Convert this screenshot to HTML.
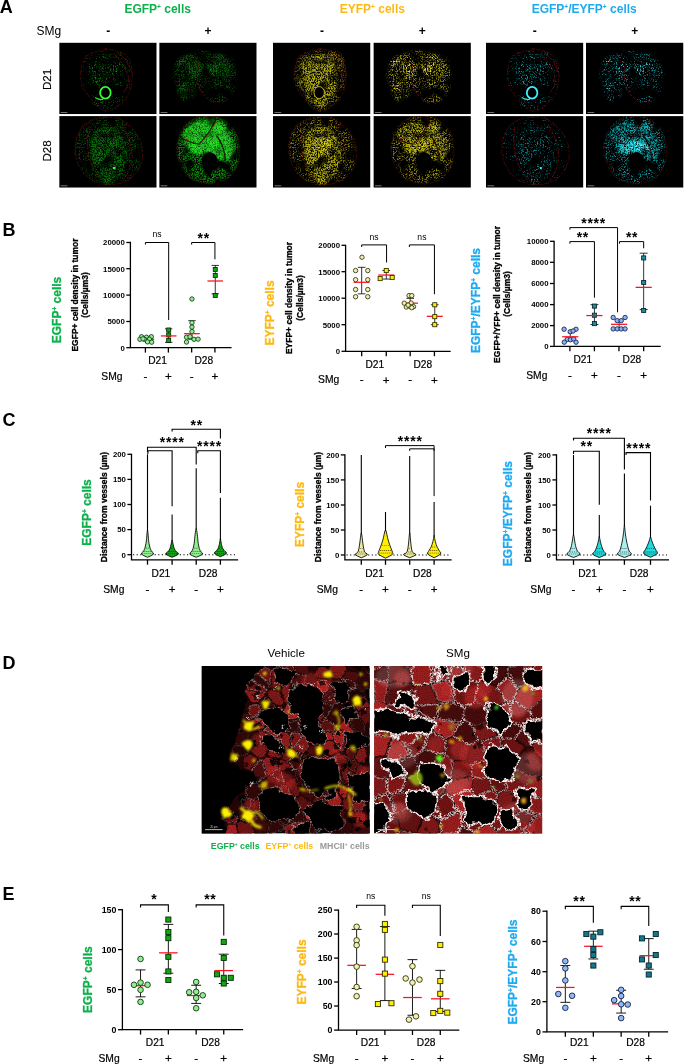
<!DOCTYPE html>
<html lang="en"><head><meta charset="utf-8"><title>Figure</title>
<style>
html,body{margin:0;padding:0;background:#fff;}
body{width:685px;height:1064px;overflow:hidden;font-family:"Liberation Sans", sans-serif;}
svg{display:block;font-family:"Liberation Sans", sans-serif;}
</style></head><body>
<svg width="685" height="1064" viewBox="0 0 685 1064">
<defs><filter id="bl1" x="-20%" y="-20%" width="140%" height="140%"><feGaussianBlur stdDeviation="0.6"/></filter><filter id="bl2" x="-20%" y="-20%" width="140%" height="140%"><feGaussianBlur stdDeviation="2.2"/></filter><filter id="rough" x="-5%" y="-5%" width="110%" height="110%"><feTurbulence type="fractalNoise" baseFrequency="0.25" numOctaves="2" seed="4" result="t"/><feDisplacementMap in="SourceGraphic" in2="t" scale="2.5" xChannelSelector="R" yChannelSelector="G"/></filter><path id="tum0" d="M48 7 C52.4 6.8 56.57 7.73 60 9 C63.43 10.27 66.6 12.1 68.6 14.6 C70.6 17.1 71.27 20.6 72 24 C72.73 27.4 73.17 31.17 73 35 C72.83 38.83 72 43.58 71 47 C70 50.42 69.17 52.67 67 55.5 C64.83 58.33 61.17 61.82 58 64 C54.83 66.18 51 68.43 48 68.6 C45 68.77 42.17 66.43 40 65 C37.83 63.57 37.17 62.5 35 60 C32.83 57.5 29.17 53.17 27 50 C24.83 46.83 22.92 44.33 22 41 C21.08 37.67 21.27 33.43 21.5 30 C21.73 26.57 22.48 23.07 23.4 20.4 C24.32 17.73 25.3 15.7 27 14 C28.7 12.3 30.1 11.37 33.6 10.2 C37.1 9.03 43.6 7.2 48 7 Z"/><path id="tum1" d="M15.2 26.3 C16.42 23.38 18.87 19.88 21 17.5 C23.13 15.12 25.57 13.45 28 12 C30.43 10.55 32.6 9.47 35.6 8.8 C38.6 8.13 42.6 7.77 46 8 C49.4 8.23 53 9.37 56 10.2 C59 11.03 61.55 11.78 64 13 C66.45 14.22 68.78 15.67 70.7 17.5 C72.62 19.33 74.28 21.58 75.5 24 C76.72 26.42 77.58 29.67 78 32 C78.42 34.33 78.25 36.03 78 38 C77.75 39.97 77.72 40.88 76.5 43.8 C75.28 46.72 73.12 52.8 70.7 55.5 C68.28 58.2 65.45 59.52 62 60 C58.55 60.48 53.33 60.07 50 58.4 C46.67 56.73 43.92 52.9 42 50 C40.08 47.1 39.17 41.33 38.5 41 C37.83 40.67 38.48 46.07 38 48 C37.52 49.93 36.93 51.1 35.6 52.6 C34.27 54.1 31.93 56.03 30 57 C28.07 57.97 25.83 59.07 24 58.4 C22.17 57.73 20.23 54.95 19 53 C17.77 51.05 17.43 48.87 16.6 46.7 C15.77 44.53 14.48 41.95 14 40 C13.52 38.05 13.5 37.28 13.7 35 C13.9 32.72 13.98 29.22 15.2 26.3 Z"/><path id="tum2" d="M42.3 1.5 C44.88 1.23 48.07 0.97 51 1.2 C53.93 1.43 56.9 1.68 59.9 2.9 C62.9 4.12 66.33 6.32 69 8.5 C71.67 10.68 73.9 13.42 75.9 16 C77.9 18.58 79.78 21.07 81 24 C82.22 26.93 82.87 30.43 83.2 33.6 C83.53 36.77 83.48 40.1 83 43 C82.52 45.9 81.55 48.42 80.3 51 C79.05 53.58 77.45 56.3 75.5 58.5 C73.55 60.7 71.18 62.7 68.6 64.2 C66.02 65.7 62.93 66.77 60 67.5 C57.07 68.23 54.33 68.68 51 68.6 C47.67 68.52 43.38 67.97 40 67 C36.62 66.03 33.37 64.63 30.7 62.8 C28.03 60.97 25.95 58.43 24 56 C22.05 53.57 20.25 50.87 19 48.2 C17.75 45.53 17 42.92 16.5 40 C16 37.08 15.83 33.7 16 30.7 C16.17 27.7 16.77 24.68 17.5 22 C18.23 19.32 19.32 16.68 20.4 14.6 C21.48 12.52 22.53 10.97 24 9.5 C25.47 8.03 27.28 6.92 29.2 5.8 C31.12 4.68 33.32 3.52 35.5 2.8 C37.68 2.08 39.72 1.77 42.3 1.5 Z"/><path id="tum3" d="M38.5 1.5 C40.83 0.95 44.08 0.6 47 0.5 C49.92 0.4 53.17 0.32 56 0.9 C58.83 1.48 61.55 2.68 64 4 C66.45 5.32 68.7 6.8 70.7 8.8 C72.7 10.8 74.55 13.33 76 16 C77.45 18.67 78.63 21.8 79.4 24.8 C80.17 27.8 80.5 31.08 80.6 34 C80.7 36.92 80.52 39.63 80 42.3 C79.48 44.97 78.57 47.55 77.5 50 C76.43 52.45 75.1 55 73.6 57 C72.1 59 70.43 60.55 68.5 62 C66.57 63.45 64.25 64.87 62 65.7 C59.75 66.53 57.45 66.78 55 67 C52.55 67.22 49.8 67.25 47.3 67 C44.8 66.75 42.43 66.2 40 65.5 C37.57 64.8 34.87 64.13 32.7 62.8 C30.53 61.47 28.7 59.47 27 57.5 C25.3 55.53 23.75 53.25 22.5 51 C21.25 48.75 20.25 46.42 19.5 44 C18.75 41.58 18.15 39.33 18 36.5 C17.85 33.67 18.1 29.92 18.6 27 C19.1 24.08 20.1 21.42 21 19 C21.9 16.58 22.78 14.45 24 12.5 C25.22 10.55 26.8 8.75 28.3 7.3 C29.8 5.85 31.3 4.77 33 3.8 C34.7 2.83 36.17 2.05 38.5 1.5 Z"/><clipPath id="imc"><rect x="0" y="0" width="97.5" height="71.6"/></clipPath><filter id="sp0" x="-5%" y="-5%" width="110%" height="110%" color-interpolation-filters="sRGB"><feTurbulence type="fractalNoise" baseFrequency="0.7" numOctaves="2" seed="2" result="n"/><feColorMatrix in="n" type="matrix" values="0 0 0 0 1  0 0 0 0 1  0 0 0 0 1  7 0 0 0 -4.1" result="m"/><feTurbulence type="fractalNoise" baseFrequency="0.09" numOctaves="2" seed="9" result="n2"/><feColorMatrix in="n2" type="matrix" values="0 0 0 0 1  0 0 0 0 1  0 0 0 0 1  4 0 0 0 -1.5" result="m2"/><feComposite in="m" in2="m2" operator="arithmetic" k1="1" k2="0" k3="0" k4="0" result="m"/><feGaussianBlur in="SourceGraphic" stdDeviation="0.9" result="s"/><feComposite in="s" in2="m" operator="in" result="c"/><feGaussianBlur in="c" stdDeviation="0.35"/></filter><filter id="sp1" x="-5%" y="-5%" width="110%" height="110%" color-interpolation-filters="sRGB"><feTurbulence type="fractalNoise" baseFrequency="0.7" numOctaves="2" seed="3" result="n"/><feColorMatrix in="n" type="matrix" values="0 0 0 0 1  0 0 0 0 1  0 0 0 0 1  6 0 0 0 -3.2" result="m"/><feTurbulence type="fractalNoise" baseFrequency="0.09" numOctaves="2" seed="10" result="n2"/><feColorMatrix in="n2" type="matrix" values="0 0 0 0 1  0 0 0 0 1  0 0 0 0 1  4 0 0 0 -1.4" result="m2"/><feComposite in="m" in2="m2" operator="arithmetic" k1="1" k2="0" k3="0" k4="0" result="m"/><feGaussianBlur in="SourceGraphic" stdDeviation="0.9" result="s"/><feComposite in="s" in2="m" operator="in" result="c"/><feGaussianBlur in="c" stdDeviation="0.35"/></filter><filter id="sp2" x="-5%" y="-5%" width="110%" height="110%" color-interpolation-filters="sRGB"><feTurbulence type="fractalNoise" baseFrequency="0.7" numOctaves="2" seed="5" result="n"/><feColorMatrix in="n" type="matrix" values="0 0 0 0 1  0 0 0 0 1  0 0 0 0 1  6 0 0 0 -3.2" result="m"/><feTurbulence type="fractalNoise" baseFrequency="0.09" numOctaves="2" seed="12" result="n2"/><feColorMatrix in="n2" type="matrix" values="0 0 0 0 1  0 0 0 0 1  0 0 0 0 1  4 0 0 0 -1.4" result="m2"/><feComposite in="m" in2="m2" operator="arithmetic" k1="1" k2="0" k3="0" k4="0" result="m"/><feGaussianBlur in="SourceGraphic" stdDeviation="0.9" result="s"/><feComposite in="s" in2="m" operator="in" result="c"/><feGaussianBlur in="c" stdDeviation="0.35"/></filter><filter id="sp3" x="-5%" y="-5%" width="110%" height="110%" color-interpolation-filters="sRGB"><feTurbulence type="fractalNoise" baseFrequency="0.7" numOctaves="2" seed="2" result="n"/><feColorMatrix in="n" type="matrix" values="0 0 0 0 1  0 0 0 0 1  0 0 0 0 1  5 0 0 0 -2.4" result="m"/><feTurbulence type="fractalNoise" baseFrequency="0.09" numOctaves="2" seed="9" result="n2"/><feColorMatrix in="n2" type="matrix" values="0 0 0 0 1  0 0 0 0 1  0 0 0 0 1  4 0 0 0 -1.3" result="m2"/><feComposite in="m" in2="m2" operator="arithmetic" k1="1" k2="0" k3="0" k4="0" result="m"/><feGaussianBlur in="SourceGraphic" stdDeviation="0.9" result="s"/><feComposite in="s" in2="m" operator="in" result="c"/><feGaussianBlur in="c" stdDeviation="0.35"/></filter><filter id="sp4" x="-5%" y="-5%" width="110%" height="110%" color-interpolation-filters="sRGB"><feTurbulence type="fractalNoise" baseFrequency="0.7" numOctaves="2" seed="3" result="n"/><feColorMatrix in="n" type="matrix" values="0 0 0 0 1  0 0 0 0 1  0 0 0 0 1  4 0 0 0 -1.5" result="m"/><feTurbulence type="fractalNoise" baseFrequency="0.09" numOctaves="2" seed="10" result="n2"/><feColorMatrix in="n2" type="matrix" values="0 0 0 0 1  0 0 0 0 1  0 0 0 0 1  4 0 0 0 -1.2" result="m2"/><feComposite in="m" in2="m2" operator="arithmetic" k1="1" k2="0" k3="0" k4="0" result="m"/><feGaussianBlur in="SourceGraphic" stdDeviation="0.9" result="s"/><feComposite in="s" in2="m" operator="in" result="c"/><feGaussianBlur in="c" stdDeviation="0.35"/></filter><filter id="sp5" x="-5%" y="-5%" width="110%" height="110%" color-interpolation-filters="sRGB"><feTurbulence type="fractalNoise" baseFrequency="0.7" numOctaves="2" seed="2" result="n"/><feColorMatrix in="n" type="matrix" values="0 0 0 0 1  0 0 0 0 1  0 0 0 0 1  4 0 0 0 -1.5" result="m"/><feTurbulence type="fractalNoise" baseFrequency="0.09" numOctaves="2" seed="9" result="n2"/><feColorMatrix in="n2" type="matrix" values="0 0 0 0 1  0 0 0 0 1  0 0 0 0 1  4 0 0 0 -1.2" result="m2"/><feComposite in="m" in2="m2" operator="arithmetic" k1="1" k2="0" k3="0" k4="0" result="m"/><feGaussianBlur in="SourceGraphic" stdDeviation="0.9" result="s"/><feComposite in="s" in2="m" operator="in" result="c"/><feGaussianBlur in="c" stdDeviation="0.35"/></filter><filter id="sp6" x="-5%" y="-5%" width="110%" height="110%" color-interpolation-filters="sRGB"><feTurbulence type="fractalNoise" baseFrequency="0.7" numOctaves="2" seed="3" result="n"/><feColorMatrix in="n" type="matrix" values="0 0 0 0 1  0 0 0 0 1  0 0 0 0 1  3.5 0 0 0 -1" result="m"/><feTurbulence type="fractalNoise" baseFrequency="0.09" numOctaves="2" seed="10" result="n2"/><feColorMatrix in="n2" type="matrix" values="0 0 0 0 1  0 0 0 0 1  0 0 0 0 1  3 0 0 0 -0.6" result="m2"/><feComposite in="m" in2="m2" operator="arithmetic" k1="1" k2="0" k3="0" k4="0" result="m"/><feGaussianBlur in="SourceGraphic" stdDeviation="0.9" result="s"/><feComposite in="s" in2="m" operator="in" result="c"/><feGaussianBlur in="c" stdDeviation="0.35"/></filter><filter id="sp7" x="-5%" y="-5%" width="110%" height="110%" color-interpolation-filters="sRGB"><feTurbulence type="fractalNoise" baseFrequency="0.7" numOctaves="2" seed="5" result="n"/><feColorMatrix in="n" type="matrix" values="0 0 0 0 1  0 0 0 0 1  0 0 0 0 1  5 0 0 0 -2.4" result="m"/><feTurbulence type="fractalNoise" baseFrequency="0.09" numOctaves="2" seed="12" result="n2"/><feColorMatrix in="n2" type="matrix" values="0 0 0 0 1  0 0 0 0 1  0 0 0 0 1  4 0 0 0 -1.3" result="m2"/><feComposite in="m" in2="m2" operator="arithmetic" k1="1" k2="0" k3="0" k4="0" result="m"/><feGaussianBlur in="SourceGraphic" stdDeviation="0.9" result="s"/><feComposite in="s" in2="m" operator="in" result="c"/><feGaussianBlur in="c" stdDeviation="0.35"/></filter><filter id="sp8" x="-5%" y="-5%" width="110%" height="110%" color-interpolation-filters="sRGB"><feTurbulence type="fractalNoise" baseFrequency="0.7" numOctaves="2" seed="3" result="n"/><feColorMatrix in="n" type="matrix" values="0 0 0 0 1  0 0 0 0 1  0 0 0 0 1  5 0 0 0 -2.4" result="m"/><feTurbulence type="fractalNoise" baseFrequency="0.09" numOctaves="2" seed="10" result="n2"/><feColorMatrix in="n2" type="matrix" values="0 0 0 0 1  0 0 0 0 1  0 0 0 0 1  4 0 0 0 -1.3" result="m2"/><feComposite in="m" in2="m2" operator="arithmetic" k1="1" k2="0" k3="0" k4="0" result="m"/><feGaussianBlur in="SourceGraphic" stdDeviation="0.9" result="s"/><feComposite in="s" in2="m" operator="in" result="c"/><feGaussianBlur in="c" stdDeviation="0.35"/></filter><filter id="sp9" x="-5%" y="-5%" width="110%" height="110%" color-interpolation-filters="sRGB"><feTurbulence type="fractalNoise" baseFrequency="0.7" numOctaves="2" seed="5" result="n"/><feColorMatrix in="n" type="matrix" values="0 0 0 0 1  0 0 0 0 1  0 0 0 0 1  7 0 0 0 -4.1" result="m"/><feTurbulence type="fractalNoise" baseFrequency="0.09" numOctaves="2" seed="12" result="n2"/><feColorMatrix in="n2" type="matrix" values="0 0 0 0 1  0 0 0 0 1  0 0 0 0 1  4 0 0 0 -1.5" result="m2"/><feComposite in="m" in2="m2" operator="arithmetic" k1="1" k2="0" k3="0" k4="0" result="m"/><feGaussianBlur in="SourceGraphic" stdDeviation="0.9" result="s"/><feComposite in="s" in2="m" operator="in" result="c"/><feGaussianBlur in="c" stdDeviation="0.35"/></filter><filter id="sp10" x="-5%" y="-5%" width="110%" height="110%" color-interpolation-filters="sRGB"><feTurbulence type="fractalNoise" baseFrequency="0.7" numOctaves="2" seed="2" result="n"/><feColorMatrix in="n" type="matrix" values="0 0 0 0 1  0 0 0 0 1  0 0 0 0 1  6 0 0 0 -3.2" result="m"/><feTurbulence type="fractalNoise" baseFrequency="0.09" numOctaves="2" seed="9" result="n2"/><feColorMatrix in="n2" type="matrix" values="0 0 0 0 1  0 0 0 0 1  0 0 0 0 1  4 0 0 0 -1.4" result="m2"/><feComposite in="m" in2="m2" operator="arithmetic" k1="1" k2="0" k3="0" k4="0" result="m"/><feGaussianBlur in="SourceGraphic" stdDeviation="0.9" result="s"/><feComposite in="s" in2="m" operator="in" result="c"/><feGaussianBlur in="c" stdDeviation="0.35"/></filter><filter id="sp11" x="-5%" y="-5%" width="110%" height="110%" color-interpolation-filters="sRGB"><feTurbulence type="fractalNoise" baseFrequency="0.7" numOctaves="2" seed="5" result="n"/><feColorMatrix in="n" type="matrix" values="0 0 0 0 1  0 0 0 0 1  0 0 0 0 1  4 0 0 0 -1.5" result="m"/><feTurbulence type="fractalNoise" baseFrequency="0.09" numOctaves="2" seed="12" result="n2"/><feColorMatrix in="n2" type="matrix" values="0 0 0 0 1  0 0 0 0 1  0 0 0 0 1  4 0 0 0 -1.2" result="m2"/><feComposite in="m" in2="m2" operator="arithmetic" k1="1" k2="0" k3="0" k4="0" result="m"/><feGaussianBlur in="SourceGraphic" stdDeviation="0.9" result="s"/><feComposite in="s" in2="m" operator="in" result="c"/><feGaussianBlur in="c" stdDeviation="0.35"/></filter><clipPath id="dclip"><rect x="0" y="0" width="168" height="167.6"/></clipPath><filter id="dsoft" x="-5%" y="-5%" width="110%" height="110%"><feGaussianBlur stdDeviation="0.55"/></filter><filter id="dsoft2" x="-10%" y="-10%" width="120%" height="120%"><feGaussianBlur stdDeviation="1.6"/></filter><filter id="dglow" x="-30%" y="-30%" width="160%" height="160%"><feGaussianBlur stdDeviation="0.9"/></filter><filter id="drough" x="-5%" y="-5%" width="110%" height="110%" color-interpolation-filters="sRGB"><feTurbulence type="fractalNoise" baseFrequency="0.07" numOctaves="3" seed="9" result="t"/><feDisplacementMap in="SourceGraphic" in2="t" scale="16" xChannelSelector="R" yChannelSelector="G" result="d"/><feGaussianBlur in="d" stdDeviation="0.45"/></filter><filter id="drough2" x="-5%" y="-5%" width="110%" height="110%" color-interpolation-filters="sRGB"><feTurbulence type="fractalNoise" baseFrequency="0.2" numOctaves="2" seed="3" result="t"/><feDisplacementMap in="SourceGraphic" in2="t" scale="4" xChannelSelector="R" yChannelSelector="G" result="d"/><feGaussianBlur in="d" stdDeviation="0.4"/></filter><filter id="dgrain" x="0" y="0" width="100%" height="100%" color-interpolation-filters="sRGB"><feTurbulence type="fractalNoise" baseFrequency="0.95" numOctaves="1" seed="5" result="n"/><feColorMatrix in="n" type="matrix" values="0 0 0 0 0  0 0 0 0 0  0 0 0 0 0  2.6 0 0 0 -1.0" result="m"/><feComposite in="m" in2="SourceGraphic" operator="in"/></filter><filter id="dwsp" x="-5%" y="-5%" width="110%" height="110%" color-interpolation-filters="sRGB"><feTurbulence type="fractalNoise" baseFrequency="0.55" numOctaves="2" seed="12" result="n"/><feColorMatrix in="n" type="matrix" values="0 0 0 0 1  0 0 0 0 1  0 0 0 0 1  5 0 0 0 -1.7" result="m"/><feTurbulence type="fractalNoise" baseFrequency="0.07" numOctaves="3" seed="9" result="t"/><feDisplacementMap in="SourceGraphic" in2="t" scale="16" xChannelSelector="R" yChannelSelector="G" result="d"/><feGaussianBlur in="d" stdDeviation="0.5" result="s"/><feComposite in="s" in2="m" operator="in"/></filter><filter id="dwsp2" x="-5%" y="-5%" width="110%" height="110%" color-interpolation-filters="sRGB"><feTurbulence type="fractalNoise" baseFrequency="0.6" numOctaves="2" seed="21" result="n"/><feColorMatrix in="n" type="matrix" values="0 0 0 0 1  0 0 0 0 1  0 0 0 0 1  4.5 0 0 0 -1.6" result="m"/><feTurbulence type="fractalNoise" baseFrequency="0.2" numOctaves="2" seed="3" result="t"/><feDisplacementMap in="SourceGraphic" in2="t" scale="4" xChannelSelector="R" yChannelSelector="G" result="d"/><feGaussianBlur in="d" stdDeviation="0.6" result="s"/><feComposite in="s" in2="m" operator="in"/></filter></defs>
<rect width="685" height="1064" fill="#fff"/>
<g id="panelA"><text x="-0.2" y="12.7" font-size="18" font-weight="bold" fill="#000">A</text><text x="157.7" y="12.6" font-size="12" font-weight="bold" text-anchor="middle" fill="#0db14b">EGFP<tspan dy="-3.96" font-size="6.6">+</tspan><tspan dy="3.96"> cells</tspan></text><text x="372.3" y="12.6" font-size="12" font-weight="bold" text-anchor="middle" fill="#fdb913">EYFP<tspan dy="-3.96" font-size="6.6">+</tspan><tspan dy="3.96"> cells</tspan></text><text x="584.2" y="12.6" font-size="12" font-weight="bold" text-anchor="middle" fill="#1eaaf0">EGFP<tspan dy="-3.96" font-size="6.6">+</tspan><tspan dy="3.96">/EYFP</tspan><tspan dy="-3.96" font-size="6.6">+</tspan><tspan dy="3.96"> cells</tspan></text><text x="36.6" y="35.3" font-size="12" fill="#000">SMg</text><text x="108.2" y="35.2" font-size="12" font-weight="bold" text-anchor="middle" fill="#000">-</text><text x="322" y="35.2" font-size="12" font-weight="bold" text-anchor="middle" fill="#000">-</text><text x="534.8" y="35.2" font-size="12" font-weight="bold" text-anchor="middle" fill="#000">-</text><text x="208" y="34.6" font-size="12" font-weight="bold" text-anchor="middle" fill="#000">+</text><text x="422.3" y="34.6" font-size="12" font-weight="bold" text-anchor="middle" fill="#000">+</text><text x="634.8" y="34.6" font-size="12" font-weight="bold" text-anchor="middle" fill="#000">+</text><text x="0" y="0" font-size="11.6" text-anchor="middle" fill="#000" transform="translate(51.2 79.4) rotate(-90)" stroke="#000" stroke-width="0.15">D21</text><text x="0" y="0" font-size="11.6" text-anchor="middle" fill="#000" transform="translate(51.2 150.9) rotate(-90)" stroke="#000" stroke-width="0.15">D28</text><g transform="translate(59.2 42.6)" clip-path="url(#imc)"><rect x="0" y="0" width="97.5" height="71.6" fill="#000"/><g filter="url(#sp0)" opacity="0.4" fill="#10c010"><use href="#tum0"/></g><g filter="url(#sp1)" opacity="0.55" fill="#10c010"><ellipse cx="47" cy="28" rx="19" ry="17"/></g><g filter="url(#sp2)" opacity="0.55" fill="#10c010"><ellipse cx="47" cy="58" rx="14" ry="8"/></g><ellipse cx="46.2" cy="50" rx="7.5" ry="8" fill="#000"/><ellipse cx="46.2" cy="50.2" rx="5.3" ry="5.9" fill="none" stroke="#30ff30" stroke-width="1.8" filter="url(#bl1)"/><path d="M36 55 Q40 58 44 56.5" fill="none" stroke="#30ff30" stroke-width="1.2" opacity=".9" filter="url(#bl1)"/><g fill="none" stroke="#c41818" stroke-width="0.5" opacity="0.8" stroke-dasharray="7 1 3 1.4" filter="url(#rough)"><use href="#tum0" stroke-opacity="0.8"/><path d="M55 12 Q66 22 69 34 Q70 44 64 50"/><path d="M58 10 Q70 18 72 30"/></g><rect x="1.5" y="69.5" width="6.7" height="0.55" fill="#ccc"/></g><g transform="translate(159.2 42.6)" clip-path="url(#imc)"><rect x="0" y="0" width="97.5" height="71.6" fill="#000"/><g filter="url(#sp3)" opacity="0.4" fill="#10c010"><use href="#tum1"/></g><g filter="url(#sp4)" opacity="0.45" fill="#10c010"><ellipse cx="30" cy="24" rx="14" ry="12"/><ellipse cx="62" cy="24" rx="14" ry="12"/><ellipse cx="26" cy="48" rx="8" ry="8"/></g><path d="M39 30 Q37.5 42 40 50 Q46 58 56 60 L40 62 Z" fill="#000" opacity=".55" filter="url(#bl2)"/><g fill="none" stroke="#c41818" stroke-width="0.5" opacity="0.8" stroke-dasharray="7 1 3 1.4" filter="url(#rough)"><path d="M40 20 Q37 30 39 41 Q41 50 50 57"/><path d="M50 58 Q60 61 68 58" opacity=".6"/><path d="M30 14 Q36 20 40 22" opacity=".6"/></g><rect x="1.5" y="69.5" width="6.7" height="0.55" fill="#ccc"/></g><g transform="translate(59.2 116.1)" clip-path="url(#imc)"><rect x="0" y="0" width="97.5" height="71.6" fill="#000"/><g filter="url(#sp3)" opacity="0.4" fill="#10c010"><use href="#tum2"/></g><g filter="url(#sp4)" opacity="0.5" fill="#10c010"><path d="M33 16 C35.67 13 41.83 10.33 46 10 C50.17 9.67 54.67 11.33 58 14 C61.33 16.67 64.33 21.67 66 26 C67.67 30.33 68.33 35.33 68 40 C67.67 44.67 66.33 49.67 64 54 C61.67 58.33 57 63.67 54 66 C51 68.33 48.67 69.33 46 68 C43.33 66.67 40.33 62 38 58 C35.67 54 33.33 49 32 44 C30.67 39 29.83 32.67 30 28 C30.17 23.33 30.33 19 33 16 Z"/></g><circle cx="55" cy="52" r="1.3" fill="#40ff40" filter="url(#bl1)"/><g fill="none" stroke="#c41818" stroke-width="0.5" opacity="0.8" stroke-dasharray="7 1 3 1.4" filter="url(#rough)"><use href="#tum2" stroke-opacity="0.75"/><path d="M29 10 Q26 30 32 48 Q38 60 46 67"/><path d="M62 8 Q72 24 73 40 Q72 54 64 64"/><path d="M44 4 Q52 10 58 12" opacity=".6"/></g><rect x="1.5" y="69.5" width="6.7" height="0.55" fill="#ccc"/></g><g transform="translate(159.2 116.1)" clip-path="url(#imc)"><rect x="0" y="0" width="97.5" height="71.6" fill="#000"/><g filter="url(#sp5)" opacity="0.7" fill="#10c010"><use href="#tum3"/></g><g opacity=".3" fill="#20e020" filter="url(#bl2)"><path d="M26 14 C28.33 11.17 33.67 6.83 38 5 C42.33 3.17 47.67 2.5 52 3 C56.33 3.5 60.67 5.17 64 8 C67.33 10.83 70.33 15.67 72 20 C73.67 24.33 74.67 30 74 34 C73.33 38 70.67 42.67 68 44 C65.33 45.33 61.33 43.33 58 42 C54.67 40.67 51.33 36.67 48 36 C44.67 35.33 41.33 38.67 38 38 C34.67 37.33 30.33 34.67 28 32 C25.67 29.33 24.33 25 24 22 C23.67 19 23.67 16.83 26 14 Z"/></g><g filter="url(#sp6)" opacity="0.72" fill="#30ff30"><path d="M26 14 C28.33 11.17 33.67 6.83 38 5 C42.33 3.17 47.67 2.5 52 3 C56.33 3.5 60.67 5.17 64 8 C67.33 10.83 70.33 15.67 72 20 C73.67 24.33 74.67 30 74 34 C73.33 38 70.67 42.67 68 44 C65.33 45.33 61.33 43.33 58 42 C54.67 40.67 51.33 36.67 48 36 C44.67 35.33 41.33 38.67 38 38 C34.67 37.33 30.33 34.67 28 32 C25.67 29.33 24.33 25 24 22 C23.67 19 23.67 16.83 26 14 Z"/></g><path d="M50.5 36 Q57.5 37 58 44 Q58 50 54 53 Q52 58 50 62 Q47 56 44.5 52 Q41.5 47 43 42 Q45 36.5 50.5 36 Z" fill="#000" filter="url(#bl1)"/><g fill="none" stroke="#000" stroke-width="1.3" opacity=".8" filter="url(#bl1)"><path d="M22 22 Q32 27 40 28 Q50 18 57 3"/><path d="M58 20 Q66 32 66 44"/></g><g fill="none" stroke="#c41818" stroke-width="0.5" opacity="0.8" stroke-dasharray="7 1 3 1.4" filter="url(#rough)"><use href="#tum3" stroke-opacity="0.55"/><path d="M24 22 Q34 27 40 28 Q50 18 58 4"/><path d="M58 22 Q66 34 66 44" opacity=".8"/><path d="M24 48 Q32 58 44 62" opacity=".7"/></g><rect x="1.5" y="69.5" width="6.7" height="0.55" fill="#ccc"/></g><g transform="translate(273 42.6)" clip-path="url(#imc)"><rect x="0" y="0" width="97.5" height="71.6" fill="#000"/><g filter="url(#sp3)" opacity="0.5" fill="#d8d010"><use href="#tum0"/></g><g filter="url(#sp4)" opacity="0.8" fill="#d8d010"><path d="M30 16 C33.17 13 39.67 12.33 44 12 C48.33 11.67 53 12 56 14 C59 16 60.67 20 62 24 C63.33 28 64 33.33 64 38 C64 42.67 63.67 48 62 52 C60.33 56 57 60 54 62 C51 64 47.33 65 44 64 C40.67 63 36.83 59.33 34 56 C31.17 52.67 28.5 48.33 27 44 C25.5 39.67 24.5 34.67 25 30 C25.5 25.33 26.83 19 30 16 Z"/></g><g filter="url(#sp7)" opacity="0.6" fill="#d8d010"><ellipse cx="62" cy="18" rx="9" ry="9"/></g><ellipse cx="46.2" cy="50" rx="5.2" ry="6" fill="#000"/><ellipse cx="46.2" cy="50" rx="5.2" ry="6" fill="none" stroke="#d8c020" stroke-width="0.9" filter="url(#bl1)"/><g fill="none" stroke="#c41818" stroke-width="0.5" opacity="0.8" stroke-dasharray="7 1 3 1.4" filter="url(#rough)"><use href="#tum0" stroke-opacity="0.8"/><path d="M55 12 Q66 22 69 34 Q70 44 64 50"/><path d="M58 10 Q70 18 72 30"/></g><rect x="1.5" y="69.5" width="6.7" height="0.55" fill="#ccc"/></g><g transform="translate(373.4 42.6)" clip-path="url(#imc)"><rect x="0" y="0" width="97.5" height="71.6" fill="#000"/><g filter="url(#sp3)" opacity="0.7" fill="#d8d010"><use href="#tum1"/></g><g filter="url(#sp8)" opacity="0.85" fill="#fff020"><ellipse cx="30" cy="24" rx="14" ry="12"/><ellipse cx="62" cy="24" rx="14" ry="12"/><ellipse cx="26" cy="48" rx="8" ry="8"/></g><path d="M39 30 Q37.5 42 40 50 Q46 58 56 60 L40 62 Z" fill="#000" opacity=".55" filter="url(#bl2)"/><g fill="none" stroke="#c41818" stroke-width="0.5" opacity="0.8" stroke-dasharray="7 1 3 1.4" filter="url(#rough)"><path d="M40 20 Q37 30 39 41 Q41 50 50 57"/><path d="M50 58 Q60 61 68 58" opacity=".6"/><path d="M30 14 Q36 20 40 22" opacity=".6"/></g><rect x="1.5" y="69.5" width="6.7" height="0.55" fill="#ccc"/></g><g transform="translate(273 116.1)" clip-path="url(#imc)"><rect x="0" y="0" width="97.5" height="71.6" fill="#000"/><g filter="url(#sp3)" opacity="0.6" fill="#d8d010"><use href="#tum2"/></g><g filter="url(#sp4)" opacity="0.8" fill="#d8d010"><path d="M33 16 C35.67 13 41.83 10.33 46 10 C50.17 9.67 54.67 11.33 58 14 C61.33 16.67 64.33 21.67 66 26 C67.67 30.33 68.33 35.33 68 40 C67.67 44.67 66.33 49.67 64 54 C61.67 58.33 57 63.67 54 66 C51 68.33 48.67 69.33 46 68 C43.33 66.67 40.33 62 38 58 C35.67 54 33.33 49 32 44 C30.67 39 29.83 32.67 30 28 C30.17 23.33 30.33 19 33 16 Z"/></g><g filter="url(#sp7)" opacity="0.7" fill="#fff020"><ellipse cx="50" cy="30" rx="10" ry="10"/><ellipse cx="50" cy="62" rx="6" ry="5"/></g><g fill="none" stroke="#c41818" stroke-width="0.5" opacity="0.8" stroke-dasharray="7 1 3 1.4" filter="url(#rough)"><use href="#tum2" stroke-opacity="0.75"/><path d="M29 10 Q26 30 32 48 Q38 60 46 67"/><path d="M62 8 Q72 24 73 40 Q72 54 64 64"/><path d="M44 4 Q52 10 58 12" opacity=".6"/></g><rect x="1.5" y="69.5" width="6.7" height="0.55" fill="#ccc"/></g><g transform="translate(373.4 116.1)" clip-path="url(#imc)"><rect x="0" y="0" width="97.5" height="71.6" fill="#000"/><g filter="url(#sp3)" opacity="0.7" fill="#d8d010"><use href="#tum3"/></g><g filter="url(#sp4)" opacity="0.8" fill="#d8d010"><path d="M26 14 C28.33 11.17 33.67 6.83 38 5 C42.33 3.17 47.67 2.5 52 3 C56.33 3.5 60.67 5.17 64 8 C67.33 10.83 70.33 15.67 72 20 C73.67 24.33 74.67 30 74 34 C73.33 38 70.67 42.67 68 44 C65.33 45.33 61.33 43.33 58 42 C54.67 40.67 51.33 36.67 48 36 C44.67 35.33 41.33 38.67 38 38 C34.67 37.33 30.33 34.67 28 32 C25.67 29.33 24.33 25 24 22 C23.67 19 23.67 16.83 26 14 Z"/></g><g filter="url(#sp7)" opacity="0.8" fill="#fff020"><ellipse cx="44" cy="30" rx="9" ry="6"/><ellipse cx="62" cy="34" rx="5" ry="6"/></g><path d="M50.5 36 Q57.5 37 58 44 Q58 50 54 53 Q52 58 50 62 Q47 56 44.5 52 Q41.5 47 43 42 Q45 36.5 50.5 36 Z" fill="#000" filter="url(#bl1)"/><g fill="none" stroke="#000" stroke-width="1.3" opacity=".8" filter="url(#bl1)"><path d="M22 22 Q32 27 40 28 Q50 18 57 3"/><path d="M58 20 Q66 32 66 44"/></g><g fill="none" stroke="#c41818" stroke-width="0.5" opacity="0.8" stroke-dasharray="7 1 3 1.4" filter="url(#rough)"><use href="#tum3" stroke-opacity="0.55"/><path d="M24 22 Q34 27 40 28 Q50 18 58 4"/><path d="M58 22 Q66 34 66 44" opacity=".8"/><path d="M24 48 Q32 58 44 62" opacity=".7"/></g><rect x="1.5" y="69.5" width="6.7" height="0.55" fill="#ccc"/></g><g transform="translate(485.9 42.6)" clip-path="url(#imc)"><rect x="0" y="0" width="97.5" height="71.6" fill="#000"/><g filter="url(#sp0)" opacity="0.5" fill="#10c8d0"><use href="#tum0"/></g><g filter="url(#sp1)" opacity="0.7" fill="#10c8d0"><ellipse cx="47" cy="28" rx="19" ry="17"/></g><g filter="url(#sp9)" opacity="0.6" fill="#10c8d0"><ellipse cx="47" cy="58" rx="14" ry="8"/></g><ellipse cx="46.2" cy="50" rx="7.5" ry="8" fill="#000"/><ellipse cx="46.2" cy="50.2" rx="5.3" ry="5.9" fill="none" stroke="#40f4ff" stroke-width="1.8" filter="url(#bl1)"/><path d="M36 55 Q40 58 44 56.5" fill="none" stroke="#40f4ff" stroke-width="1.2" opacity=".9" filter="url(#bl1)"/><g fill="none" stroke="#c41818" stroke-width="0.5" opacity="0.8" stroke-dasharray="7 1 3 1.4" filter="url(#rough)"><use href="#tum0" stroke-opacity="0.8"/><path d="M55 12 Q66 22 69 34 Q70 44 64 50"/><path d="M58 10 Q70 18 72 30"/></g><rect x="1.5" y="69.5" width="6.7" height="0.55" fill="#ccc"/></g><g transform="translate(586 42.6)" clip-path="url(#imc)"><rect x="0" y="0" width="97.5" height="71.6" fill="#000"/><g filter="url(#sp10)" opacity="0.65" fill="#10c8d0"><use href="#tum1"/></g><g filter="url(#sp1)" opacity="0.75" fill="#40f4ff"><ellipse cx="30" cy="24" rx="14" ry="12"/><ellipse cx="62" cy="24" rx="14" ry="12"/><ellipse cx="26" cy="48" rx="8" ry="8"/></g><path d="M39 30 Q37.5 42 40 50 Q46 58 56 60 L40 62 Z" fill="#000" opacity=".55" filter="url(#bl2)"/><g fill="none" stroke="#c41818" stroke-width="0.5" opacity="0.8" stroke-dasharray="7 1 3 1.4" filter="url(#rough)"><path d="M40 20 Q37 30 39 41 Q41 50 50 57"/><path d="M50 58 Q60 61 68 58" opacity=".6"/><path d="M30 14 Q36 20 40 22" opacity=".6"/></g><rect x="1.5" y="69.5" width="6.7" height="0.55" fill="#ccc"/></g><g transform="translate(485.9 116.1)" clip-path="url(#imc)"><rect x="0" y="0" width="97.5" height="71.6" fill="#000"/><g filter="url(#sp0)" opacity="0.45" fill="#10c8d0"><use href="#tum2"/></g><g filter="url(#sp1)" opacity="0.6" fill="#10c8d0"><path d="M33 16 C35.67 13 41.83 10.33 46 10 C50.17 9.67 54.67 11.33 58 14 C61.33 16.67 64.33 21.67 66 26 C67.67 30.33 68.33 35.33 68 40 C67.67 44.67 66.33 49.67 64 54 C61.67 58.33 57 63.67 54 66 C51 68.33 48.67 69.33 46 68 C43.33 66.67 40.33 62 38 58 C35.67 54 33.33 49 32 44 C30.67 39 29.83 32.67 30 28 C30.17 23.33 30.33 19 33 16 Z"/></g><circle cx="55" cy="52" r="1.1" fill="#40f4ff" filter="url(#bl1)"/><g fill="none" stroke="#c41818" stroke-width="0.5" opacity="0.8" stroke-dasharray="7 1 3 1.4" filter="url(#rough)"><use href="#tum2" stroke-opacity="0.75"/><path d="M29 10 Q26 30 32 48 Q38 60 46 67"/><path d="M62 8 Q72 24 73 40 Q72 54 64 64"/><path d="M44 4 Q52 10 58 12" opacity=".6"/></g><rect x="1.5" y="69.5" width="6.7" height="0.55" fill="#ccc"/></g><g transform="translate(586 116.1)" clip-path="url(#imc)"><rect x="0" y="0" width="97.5" height="71.6" fill="#000"/><g filter="url(#sp3)" opacity="0.7" fill="#10c8d0"><use href="#tum3"/></g><g filter="url(#sp4)" opacity="0.85" fill="#10c8d0"><path d="M26 14 C28.33 11.17 33.67 6.83 38 5 C42.33 3.17 47.67 2.5 52 3 C56.33 3.5 60.67 5.17 64 8 C67.33 10.83 70.33 15.67 72 20 C73.67 24.33 74.67 30 74 34 C73.33 38 70.67 42.67 68 44 C65.33 45.33 61.33 43.33 58 42 C54.67 40.67 51.33 36.67 48 36 C44.67 35.33 41.33 38.67 38 38 C34.67 37.33 30.33 34.67 28 32 C25.67 29.33 24.33 25 24 22 C23.67 19 23.67 16.83 26 14 Z"/></g><g filter="url(#sp11)" opacity="0.95" fill="#40f4ff"><path d="M34 30 C34.33 27.67 40.33 24.67 44 24 C47.67 23.33 52.33 24.67 56 26 C59.67 27.33 64.67 29.33 66 32 C67.33 34.67 66 41.33 64 42 C62 42.67 57.67 36.67 54 36 C50.33 35.33 45.33 39 42 38 C38.67 37 33.67 32.33 34 30 Z"/></g><path d="M50.5 36 Q57.5 37 58 44 Q58 50 54 53 Q52 58 50 62 Q47 56 44.5 52 Q41.5 47 43 42 Q45 36.5 50.5 36 Z" fill="#000" filter="url(#bl1)"/><g fill="none" stroke="#000" stroke-width="1.3" opacity=".8" filter="url(#bl1)"><path d="M22 22 Q32 27 40 28 Q50 18 57 3"/><path d="M58 20 Q66 32 66 44"/></g><g fill="none" stroke="#c41818" stroke-width="0.5" opacity="0.8" stroke-dasharray="7 1 3 1.4" filter="url(#rough)"><use href="#tum3" stroke-opacity="0.55"/><path d="M24 22 Q34 27 40 28 Q50 18 58 4"/><path d="M58 22 Q66 34 66 44" opacity=".8"/><path d="M24 48 Q32 58 44 62" opacity=".7"/></g><rect x="1.5" y="69.5" width="6.7" height="0.55" fill="#ccc"/></g></g><g id="panelB"><text x="2.5" y="236" font-size="18" font-weight="bold" fill="#000">B</text><path d="M130.4 242.5 V347.7 H230.9" fill="none" stroke="#000" stroke-width="1.3" stroke-linecap="square"/><line x1="126.3" y1="242.5" x2="130.4" y2="242.5" stroke="#000" stroke-width="1.3"/><text x="124.8" y="245.31" font-size="7.8" font-weight="bold" text-anchor="end" fill="#000">20000</text><line x1="126.3" y1="268.7" x2="130.4" y2="268.7" stroke="#000" stroke-width="1.3"/><text x="124.8" y="271.51" font-size="7.8" font-weight="bold" text-anchor="end" fill="#000">15000</text><line x1="126.3" y1="295.1" x2="130.4" y2="295.1" stroke="#000" stroke-width="1.3"/><text x="124.8" y="297.91" font-size="7.8" font-weight="bold" text-anchor="end" fill="#000">10000</text><line x1="126.3" y1="321.5" x2="130.4" y2="321.5" stroke="#000" stroke-width="1.3"/><text x="124.8" y="324.31" font-size="7.8" font-weight="bold" text-anchor="end" fill="#000">5000</text><line x1="126.3" y1="347.7" x2="130.4" y2="347.7" stroke="#000" stroke-width="1.3"/><text x="124.8" y="350.51" font-size="7.8" font-weight="bold" text-anchor="end" fill="#000">0</text><line x1="145.4" y1="347.7" x2="145.4" y2="352.6" stroke="#000" stroke-width="1.3"/><line x1="168.36" y1="347.7" x2="168.36" y2="352.6" stroke="#000" stroke-width="1.3"/><line x1="191.65" y1="347.7" x2="191.65" y2="352.6" stroke="#000" stroke-width="1.3"/><line x1="214.93" y1="347.7" x2="214.93" y2="352.6" stroke="#000" stroke-width="1.3"/><line x1="138.56" y1="339.29" x2="154.16" y2="339.29" stroke="#fa1020" stroke-width="1.25"/><circle cx="141.54" cy="336.72" r="2.2" fill="#90ee90" stroke="#143814" stroke-width="0.85"/><circle cx="146.52" cy="337.2" r="2.2" fill="#90ee90" stroke="#143814" stroke-width="0.85"/><circle cx="151.34" cy="336.72" r="2.2" fill="#90ee90" stroke="#143814" stroke-width="0.85"/><circle cx="139.93" cy="339.29" r="2.2" fill="#90ee90" stroke="#143814" stroke-width="0.85"/><circle cx="144.75" cy="339.45" r="2.2" fill="#90ee90" stroke="#143814" stroke-width="0.85"/><circle cx="149.41" cy="339.13" r="2.2" fill="#90ee90" stroke="#143814" stroke-width="0.85"/><circle cx="147.48" cy="341.86" r="2.2" fill="#90ee90" stroke="#143814" stroke-width="0.85"/><circle cx="151.66" cy="342.18" r="2.2" fill="#90ee90" stroke="#143814" stroke-width="0.85"/><circle cx="142.99" cy="338.81" r="2.2" fill="#90ee90" stroke="#143814" stroke-width="0.85"/><line x1="168.68" y1="328.85" x2="168.68" y2="342.34" stroke="#000" stroke-width="0.8"/><line x1="164.98" y1="328.85" x2="172.38" y2="328.85" stroke="#000" stroke-width="0.8"/><line x1="164.98" y1="342.34" x2="172.38" y2="342.34" stroke="#000" stroke-width="0.8"/><rect x="166.68" y="327.98" width="4" height="4" fill="#0fa80f" stroke="#062806" stroke-width="0.85"/><rect x="166.68" y="332.95" width="4" height="4" fill="#0fa80f" stroke="#062806" stroke-width="0.85"/><rect x="166.68" y="338.41" width="4" height="4" fill="#0fa80f" stroke="#062806" stroke-width="0.85"/><line x1="160.88" y1="335.92" x2="176.48" y2="335.92" stroke="#fa1020" stroke-width="1.25"/><line x1="191.97" y1="320.66" x2="191.97" y2="339.29" stroke="#000" stroke-width="0.8"/><line x1="188.27" y1="320.66" x2="195.67" y2="320.66" stroke="#000" stroke-width="0.8"/><line x1="188.27" y1="339.29" x2="195.67" y2="339.29" stroke="#000" stroke-width="0.8"/><circle cx="191.97" cy="298.98" r="2.2" fill="#90ee90" stroke="#143814" stroke-width="0.85"/><circle cx="191.97" cy="322.75" r="2.2" fill="#90ee90" stroke="#143814" stroke-width="0.85"/><circle cx="191.97" cy="327.08" r="2.2" fill="#90ee90" stroke="#143814" stroke-width="0.85"/><circle cx="191.97" cy="331.58" r="2.2" fill="#90ee90" stroke="#143814" stroke-width="0.85"/><circle cx="186.51" cy="337.2" r="2.2" fill="#90ee90" stroke="#143814" stroke-width="0.85"/><circle cx="190.04" cy="336.72" r="2.2" fill="#90ee90" stroke="#143814" stroke-width="0.85"/><circle cx="194.05" cy="339.29" r="2.2" fill="#90ee90" stroke="#143814" stroke-width="0.85"/><circle cx="198.07" cy="339.13" r="2.2" fill="#90ee90" stroke="#143814" stroke-width="0.85"/><circle cx="186.51" cy="342.02" r="2.2" fill="#90ee90" stroke="#143814" stroke-width="0.85"/><line x1="184.17" y1="333.67" x2="199.77" y2="333.67" stroke="#fa1020" stroke-width="1.25"/><line x1="215.25" y1="265.42" x2="215.25" y2="293.84" stroke="#000" stroke-width="0.8"/><line x1="211.55" y1="265.42" x2="218.95" y2="265.42" stroke="#000" stroke-width="0.8"/><line x1="211.55" y1="293.84" x2="218.95" y2="293.84" stroke="#000" stroke-width="0.8"/><rect x="213.25" y="267.43" width="4" height="4" fill="#0fa80f" stroke="#062806" stroke-width="0.85"/><rect x="213.25" y="273.53" width="4" height="4" fill="#0fa80f" stroke="#062806" stroke-width="0.85"/><rect x="213.25" y="293.45" width="4" height="4" fill="#0fa80f" stroke="#062806" stroke-width="0.85"/><line x1="207.45" y1="281" x2="223.05" y2="281" stroke="#fa1020" stroke-width="1.25"/><path d="M145.4 244.6 V242.5 H168.68 V320" fill="none" stroke="#000" stroke-width="1"/><text x="157.04" y="236.9" font-size="8.6" text-anchor="middle" fill="#000">ns</text><path d="M191.65 244.6 V242.5 H214.93 V259.3" fill="none" stroke="#000" stroke-width="1"/><text x="203.75" y="242.6" font-size="14" font-weight="bold" text-anchor="middle" fill="#000" letter-spacing="0.7">**</text><text x="0" y="0" font-size="8.5" font-weight="bold" text-anchor="middle" fill="#000" transform="translate(78.2 295) rotate(-90)" stroke="#000" stroke-width="0.3">EGFP+ cell density in tumor</text><text x="0" y="0" font-size="8.5" font-weight="bold" text-anchor="middle" fill="#000" transform="translate(88.2 295) rotate(-90)" stroke="#000" stroke-width="0.3">(Cells/µm3)</text><text x="0" y="0" font-size="12" font-weight="bold" text-anchor="middle" fill="#0db14b" transform="translate(61 310) rotate(-90)" stroke="#0db14b" stroke-width="0.3">EGFP<tspan dy="-3.96" font-size="6.6">+</tspan><tspan dy="3.96"> cells</tspan></text><text x="157.6" y="364.4" font-size="10.2" text-anchor="middle" fill="#000" stroke="#000" stroke-width="0.2">D21</text><text x="203.8" y="364.4" font-size="10.2" text-anchor="middle" fill="#000" stroke="#000" stroke-width="0.2">D28</text><text x="101.3" y="379.7" font-size="10.3" fill="#000" stroke="#000" stroke-width="0.2">SMg</text><text x="145.4" y="379.8" font-size="11.6" text-anchor="middle" fill="#000" stroke="#000" stroke-width="0.25">-</text><text x="168.36" y="380.2" font-size="11.6" text-anchor="middle" fill="#000" stroke="#000" stroke-width="0.25">+</text><text x="191.65" y="379.8" font-size="11.6" text-anchor="middle" fill="#000" stroke="#000" stroke-width="0.25">-</text><text x="214.93" y="380.2" font-size="11.6" text-anchor="middle" fill="#000" stroke="#000" stroke-width="0.25">+</text><path d="M345.6 245.3 V351.3 H450" fill="none" stroke="#000" stroke-width="1.3" stroke-linecap="square"/><line x1="341.5" y1="245.3" x2="345.6" y2="245.3" stroke="#000" stroke-width="1.3"/><text x="340" y="248.11" font-size="7.8" font-weight="bold" text-anchor="end" fill="#000">20000</text><line x1="341.5" y1="271.7" x2="345.6" y2="271.7" stroke="#000" stroke-width="1.3"/><text x="340" y="274.51" font-size="7.8" font-weight="bold" text-anchor="end" fill="#000">15000</text><line x1="341.5" y1="298.2" x2="345.6" y2="298.2" stroke="#000" stroke-width="1.3"/><text x="340" y="301.01" font-size="7.8" font-weight="bold" text-anchor="end" fill="#000">10000</text><line x1="341.5" y1="324.7" x2="345.6" y2="324.7" stroke="#000" stroke-width="1.3"/><text x="340" y="327.51" font-size="7.8" font-weight="bold" text-anchor="end" fill="#000">5000</text><line x1="341.5" y1="351.3" x2="345.6" y2="351.3" stroke="#000" stroke-width="1.3"/><text x="340" y="354.11" font-size="7.8" font-weight="bold" text-anchor="end" fill="#000">0</text><line x1="361.68" y1="351.3" x2="361.68" y2="356.2" stroke="#000" stroke-width="1.3"/><line x1="386.25" y1="351.3" x2="386.25" y2="356.2" stroke="#000" stroke-width="1.3"/><line x1="410.18" y1="351.3" x2="410.18" y2="356.2" stroke="#000" stroke-width="1.3"/><line x1="434.43" y1="351.3" x2="434.43" y2="356.2" stroke="#000" stroke-width="1.3"/><line x1="361.68" y1="267.34" x2="361.68" y2="293.84" stroke="#000" stroke-width="0.8"/><line x1="357.83" y1="267.34" x2="365.53" y2="267.34" stroke="#000" stroke-width="0.8"/><line x1="357.83" y1="293.84" x2="365.53" y2="293.84" stroke="#000" stroke-width="0.8"/><line x1="353.68" y1="282.28" x2="369.68" y2="282.28" stroke="#fa1020" stroke-width="1.25"/><circle cx="362" cy="257.23" r="2.2" fill="#f0f0b0" stroke="#303010" stroke-width="0.85"/><circle cx="355.58" cy="270.56" r="2.2" fill="#f0f0b0" stroke="#303010" stroke-width="0.85"/><circle cx="367.78" cy="270.56" r="2.2" fill="#f0f0b0" stroke="#303010" stroke-width="0.85"/><circle cx="355.58" cy="279.71" r="2.2" fill="#f0f0b0" stroke="#303010" stroke-width="0.85"/><circle cx="367.78" cy="279.71" r="2.2" fill="#f0f0b0" stroke="#303010" stroke-width="0.85"/><circle cx="355.58" cy="289.51" r="2.2" fill="#f0f0b0" stroke="#303010" stroke-width="0.85"/><circle cx="367.78" cy="289.51" r="2.2" fill="#f0f0b0" stroke="#303010" stroke-width="0.85"/><circle cx="355.58" cy="296.73" r="2.2" fill="#f0f0b0" stroke="#303010" stroke-width="0.85"/><circle cx="367.78" cy="296.73" r="2.2" fill="#f0f0b0" stroke="#303010" stroke-width="0.85"/><line x1="386.25" y1="270.56" x2="386.25" y2="279.07" stroke="#000" stroke-width="0.8"/><line x1="382.4" y1="270.56" x2="390.1" y2="270.56" stroke="#000" stroke-width="0.8"/><line x1="382.4" y1="279.07" x2="390.1" y2="279.07" stroke="#000" stroke-width="0.8"/><line x1="378.25" y1="275.05" x2="394.25" y2="275.05" stroke="#fa1020" stroke-width="1.25"/><rect x="384.2" y="268.51" width="4.1" height="4.1" fill="#ffee00" stroke="#302c00" stroke-width="0.85"/><rect x="378.1" y="276.54" width="4.1" height="4.1" fill="#ffee00" stroke="#302c00" stroke-width="0.85"/><rect x="390.14" y="275.41" width="4.1" height="4.1" fill="#ffee00" stroke="#302c00" stroke-width="0.85"/><line x1="410.18" y1="298.34" x2="410.18" y2="307.49" stroke="#000" stroke-width="0.8"/><line x1="406.33" y1="298.34" x2="414.03" y2="298.34" stroke="#000" stroke-width="0.8"/><line x1="406.33" y1="307.49" x2="414.03" y2="307.49" stroke="#000" stroke-width="0.8"/><line x1="402.38" y1="303.16" x2="417.98" y2="303.16" stroke="#fa1020" stroke-width="1.25"/><circle cx="409.05" cy="295.61" r="2.2" fill="#f0f0b0" stroke="#303010" stroke-width="0.85"/><circle cx="411.78" cy="295.61" r="2.2" fill="#f0f0b0" stroke="#303010" stroke-width="0.85"/><circle cx="404.24" cy="303.16" r="2.2" fill="#f0f0b0" stroke="#303010" stroke-width="0.85"/><circle cx="411.14" cy="303" r="2.2" fill="#f0f0b0" stroke="#303010" stroke-width="0.85"/><circle cx="406.32" cy="307.01" r="2.2" fill="#f0f0b0" stroke="#303010" stroke-width="0.85"/><circle cx="410.02" cy="306.53" r="2.2" fill="#f0f0b0" stroke="#303010" stroke-width="0.85"/><circle cx="413.55" cy="306.69" r="2.2" fill="#f0f0b0" stroke="#303010" stroke-width="0.85"/><circle cx="411.78" cy="307.65" r="2.2" fill="#f0f0b0" stroke="#303010" stroke-width="0.85"/><circle cx="408.09" cy="305.08" r="2.2" fill="#f0f0b0" stroke="#303010" stroke-width="0.85"/><line x1="434.75" y1="304.76" x2="434.75" y2="324.68" stroke="#000" stroke-width="0.8"/><line x1="430.9" y1="304.76" x2="438.6" y2="304.76" stroke="#000" stroke-width="0.8"/><line x1="430.9" y1="324.68" x2="438.6" y2="324.68" stroke="#000" stroke-width="0.8"/><line x1="426.75" y1="316.33" x2="442.75" y2="316.33" stroke="#fa1020" stroke-width="1.25"/><rect x="432.7" y="302.71" width="4.1" height="4.1" fill="#ffee00" stroke="#302c00" stroke-width="0.85"/><rect x="432.7" y="314.6" width="4.1" height="4.1" fill="#ffee00" stroke="#302c00" stroke-width="0.85"/><rect x="432.7" y="322.63" width="4.1" height="4.1" fill="#ffee00" stroke="#302c00" stroke-width="0.85"/><path d="M361.68 247 V244.9 H386.57 V262.5" fill="none" stroke="#000" stroke-width="1"/><text x="374" y="240" font-size="8.6" text-anchor="middle" fill="#000">ns</text><path d="M409.38 247 V244.9 H434.43 V294.2" fill="none" stroke="#000" stroke-width="1"/><text x="421.9" y="240" font-size="8.6" text-anchor="middle" fill="#000">ns</text><text x="0" y="0" font-size="8.5" font-weight="bold" text-anchor="middle" fill="#000" transform="translate(292.1 298) rotate(-90)" stroke="#000" stroke-width="0.3">EYFP+ cell density in tumor</text><text x="0" y="0" font-size="8.5" font-weight="bold" text-anchor="middle" fill="#000" transform="translate(302.5 298) rotate(-90)" stroke="#000" stroke-width="0.3">(Cells/µm3)</text><text x="0" y="0" font-size="12" font-weight="bold" text-anchor="middle" fill="#fdb913" transform="translate(274 313) rotate(-90)" stroke="#fdb913" stroke-width="0.3">EYFP<tspan dy="-3.96" font-size="6.6">+</tspan><tspan dy="3.96"> cells</tspan></text><text x="374.8" y="367.8" font-size="10.2" text-anchor="middle" fill="#000" stroke="#000" stroke-width="0.2">D21</text><text x="422.8" y="367.8" font-size="10.2" text-anchor="middle" fill="#000" stroke="#000" stroke-width="0.2">D28</text><text x="318.1" y="382.7" font-size="10.3" fill="#000" stroke="#000" stroke-width="0.2">SMg</text><text x="361.68" y="382.8" font-size="11.6" text-anchor="middle" fill="#000" stroke="#000" stroke-width="0.25">-</text><text x="386.25" y="383.5" font-size="11.6" text-anchor="middle" fill="#000" stroke="#000" stroke-width="0.25">+</text><text x="410.18" y="382.8" font-size="11.6" text-anchor="middle" fill="#000" stroke="#000" stroke-width="0.25">-</text><text x="434.43" y="383.5" font-size="11.6" text-anchor="middle" fill="#000" stroke="#000" stroke-width="0.25">+</text><path d="M554.1 241.3 V346.4 H660.1" fill="none" stroke="#000" stroke-width="1.3" stroke-linecap="square"/><line x1="550" y1="241.3" x2="554.1" y2="241.3" stroke="#000" stroke-width="1.3"/><text x="548.5" y="244.11" font-size="7.8" font-weight="bold" text-anchor="end" fill="#000">10000</text><line x1="550" y1="262.3" x2="554.1" y2="262.3" stroke="#000" stroke-width="1.3"/><text x="548.5" y="265.11" font-size="7.8" font-weight="bold" text-anchor="end" fill="#000">8000</text><line x1="550" y1="283.5" x2="554.1" y2="283.5" stroke="#000" stroke-width="1.3"/><text x="548.5" y="286.31" font-size="7.8" font-weight="bold" text-anchor="end" fill="#000">6000</text><line x1="550" y1="304.6" x2="554.1" y2="304.6" stroke="#000" stroke-width="1.3"/><text x="548.5" y="307.41" font-size="7.8" font-weight="bold" text-anchor="end" fill="#000">4000</text><line x1="550" y1="325.6" x2="554.1" y2="325.6" stroke="#000" stroke-width="1.3"/><text x="548.5" y="328.41" font-size="7.8" font-weight="bold" text-anchor="end" fill="#000">2000</text><line x1="550" y1="346.4" x2="554.1" y2="346.4" stroke="#000" stroke-width="1.3"/><text x="548.5" y="349.21" font-size="7.8" font-weight="bold" text-anchor="end" fill="#000">0</text><line x1="569.9" y1="346.4" x2="569.9" y2="351.3" stroke="#000" stroke-width="1.3"/><line x1="594.43" y1="346.4" x2="594.43" y2="351.3" stroke="#000" stroke-width="1.3"/><line x1="618.95" y1="346.4" x2="618.95" y2="351.3" stroke="#000" stroke-width="1.3"/><line x1="643.66" y1="346.4" x2="643.66" y2="351.3" stroke="#000" stroke-width="1.3"/><line x1="570.25" y1="332.73" x2="570.25" y2="340.79" stroke="#000" stroke-width="0.8"/><line x1="567.75" y1="332.73" x2="572.75" y2="332.73" stroke="#000" stroke-width="0.8"/><line x1="567.75" y1="340.79" x2="572.75" y2="340.79" stroke="#000" stroke-width="0.8"/><circle cx="564.12" cy="329.23" r="2.2" fill="#8cb4f0" stroke="#14204a" stroke-width="0.85"/><circle cx="576.03" cy="329.23" r="2.2" fill="#8cb4f0" stroke="#14204a" stroke-width="0.85"/><circle cx="570.25" cy="331.68" r="2.2" fill="#8cb4f0" stroke="#14204a" stroke-width="0.85"/><circle cx="573.05" cy="330.98" r="2.2" fill="#8cb4f0" stroke="#14204a" stroke-width="0.85"/><circle cx="567.27" cy="339.39" r="2.2" fill="#8cb4f0" stroke="#14204a" stroke-width="0.85"/><circle cx="570.42" cy="339.74" r="2.2" fill="#8cb4f0" stroke="#14204a" stroke-width="0.85"/><circle cx="573.75" cy="339.04" r="2.2" fill="#8cb4f0" stroke="#14204a" stroke-width="0.85"/><circle cx="564.29" cy="342.19" r="2.2" fill="#8cb4f0" stroke="#14204a" stroke-width="0.85"/><circle cx="576.03" cy="342.19" r="2.2" fill="#8cb4f0" stroke="#14204a" stroke-width="0.85"/><line x1="562.15" y1="336.76" x2="578.35" y2="336.76" stroke="#fa1020" stroke-width="1.25"/><line x1="594.43" y1="304.7" x2="594.43" y2="324.5" stroke="#000" stroke-width="0.8"/><line x1="590.43" y1="304.7" x2="598.43" y2="304.7" stroke="#000" stroke-width="0.8"/><line x1="590.43" y1="324.5" x2="598.43" y2="324.5" stroke="#000" stroke-width="0.8"/><rect x="592.38" y="304.05" width="4.1" height="4.1" fill="#1a8ca0" stroke="#08242c" stroke-width="0.85"/><rect x="592.38" y="313.16" width="4.1" height="4.1" fill="#1a8ca0" stroke="#08242c" stroke-width="0.85"/><rect x="592.38" y="321.57" width="4.1" height="4.1" fill="#1a8ca0" stroke="#08242c" stroke-width="0.85"/><line x1="586.33" y1="315.56" x2="602.53" y2="315.56" stroke="#fa1020" stroke-width="1.25"/><line x1="619.13" y1="320.12" x2="619.13" y2="328" stroke="#000" stroke-width="0.8"/><line x1="616.63" y1="320.12" x2="621.63" y2="320.12" stroke="#000" stroke-width="0.8"/><line x1="616.63" y1="328" x2="621.63" y2="328" stroke="#000" stroke-width="0.8"/><circle cx="613.17" cy="317.49" r="2.2" fill="#8cb4f0" stroke="#14204a" stroke-width="0.85"/><circle cx="625.08" cy="317.49" r="2.2" fill="#8cb4f0" stroke="#14204a" stroke-width="0.85"/><circle cx="617.2" cy="320.64" r="2.2" fill="#8cb4f0" stroke="#14204a" stroke-width="0.85"/><circle cx="621.23" cy="320.64" r="2.2" fill="#8cb4f0" stroke="#14204a" stroke-width="0.85"/><circle cx="613.17" cy="328.88" r="2.2" fill="#8cb4f0" stroke="#14204a" stroke-width="0.85"/><circle cx="617.2" cy="328.88" r="2.2" fill="#8cb4f0" stroke="#14204a" stroke-width="0.85"/><circle cx="621.23" cy="328.88" r="2.2" fill="#8cb4f0" stroke="#14204a" stroke-width="0.85"/><circle cx="625.08" cy="328.88" r="2.2" fill="#8cb4f0" stroke="#14204a" stroke-width="0.85"/><line x1="611.03" y1="324.32" x2="627.23" y2="324.32" stroke="#fa1020" stroke-width="1.25"/><line x1="643.66" y1="253.19" x2="643.66" y2="309.6" stroke="#000" stroke-width="0.8"/><line x1="639.66" y1="253.19" x2="647.66" y2="253.19" stroke="#000" stroke-width="0.8"/><line x1="639.66" y1="309.6" x2="647.66" y2="309.6" stroke="#000" stroke-width="0.8"/><rect x="641.61" y="255.87" width="4.1" height="4.1" fill="#1a8ca0" stroke="#08242c" stroke-width="0.85"/><rect x="641.61" y="280.4" width="4.1" height="4.1" fill="#1a8ca0" stroke="#08242c" stroke-width="0.85"/><rect x="641.61" y="308.43" width="4.1" height="4.1" fill="#1a8ca0" stroke="#08242c" stroke-width="0.85"/><line x1="635.56" y1="287.35" x2="651.76" y2="287.35" stroke="#fa1020" stroke-width="1.25"/><path d="M569.9 229.6 V227.6 H617.55 V312.2" fill="none" stroke="#000" stroke-width="1"/><text x="593.55" y="227.7" font-size="14" font-weight="bold" text-anchor="middle" fill="#000" letter-spacing="0.7">****</text><path d="M569.9 243.7 V241.6 H594.43 V297.7" fill="none" stroke="#000" stroke-width="1"/><text x="582.85" y="241.7" font-size="14" font-weight="bold" text-anchor="middle" fill="#000" letter-spacing="0.7">**</text><path d="M619.48 243.7 V241.6 H643.66 V248.3" fill="none" stroke="#000" stroke-width="1"/><text x="632.05" y="241.7" font-size="14" font-weight="bold" text-anchor="middle" fill="#000" letter-spacing="0.7">**</text><text x="0" y="0" font-size="8.5" font-weight="bold" text-anchor="middle" fill="#000" transform="translate(499.9 294.4) rotate(-90)" stroke="#000" stroke-width="0.3">EGFP+/YFP+ cell density in tumor</text><text x="0" y="0" font-size="8.5" font-weight="bold" text-anchor="middle" fill="#000" transform="translate(510 294) rotate(-90)" stroke="#000" stroke-width="0.3">(Cells/µm3)</text><text x="0" y="0" font-size="12" font-weight="bold" text-anchor="middle" fill="#1eaaf0" transform="translate(480 300.5) rotate(-90)" stroke="#1eaaf0" stroke-width="0.3">EGFP<tspan dy="-3.96" font-size="6.6">+</tspan><tspan dy="3.96">/EYFP</tspan><tspan dy="-3.96" font-size="6.6">+</tspan><tspan dy="3.96"> cells</tspan></text><text x="582.8" y="362.8" font-size="10.2" text-anchor="middle" fill="#000" stroke="#000" stroke-width="0.2">D21</text><text x="631.9" y="362.8" font-size="10.2" text-anchor="middle" fill="#000" stroke="#000" stroke-width="0.2">D28</text><text x="526.2" y="378.6" font-size="10.3" fill="#000" stroke="#000" stroke-width="0.2">SMg</text><text x="569.9" y="379" font-size="11.6" text-anchor="middle" fill="#000" stroke="#000" stroke-width="0.25">-</text><text x="594.43" y="379" font-size="11.6" text-anchor="middle" fill="#000" stroke="#000" stroke-width="0.25">+</text><text x="618.95" y="379" font-size="11.6" text-anchor="middle" fill="#000" stroke="#000" stroke-width="0.25">-</text><text x="643.66" y="379" font-size="11.6" text-anchor="middle" fill="#000" stroke="#000" stroke-width="0.25">+</text></g><g id="panelC"><text x="2.4" y="425.5" font-size="18" font-weight="bold" fill="#000">C</text><line x1="133" y1="554.7" x2="236" y2="554.7" stroke="#000" stroke-width="1.1" stroke-dasharray="1.2 2.4"/><path d="M131.5 454.3 V559.8 H237.5" fill="none" stroke="#000" stroke-width="1.3" stroke-linecap="square"/><line x1="127.4" y1="454.3" x2="131.5" y2="454.3" stroke="#000" stroke-width="1.3"/><text x="125.9" y="457.11" font-size="7.8" font-weight="bold" text-anchor="end" fill="#000">200</text><line x1="127.4" y1="479.4" x2="131.5" y2="479.4" stroke="#000" stroke-width="1.3"/><text x="125.9" y="482.21" font-size="7.8" font-weight="bold" text-anchor="end" fill="#000">150</text><line x1="127.4" y1="504.5" x2="131.5" y2="504.5" stroke="#000" stroke-width="1.3"/><text x="125.9" y="507.31" font-size="7.8" font-weight="bold" text-anchor="end" fill="#000">100</text><line x1="127.4" y1="529.6" x2="131.5" y2="529.6" stroke="#000" stroke-width="1.3"/><text x="125.9" y="532.41" font-size="7.8" font-weight="bold" text-anchor="end" fill="#000">50</text><line x1="127.4" y1="554.7" x2="131.5" y2="554.7" stroke="#000" stroke-width="1.3"/><text x="125.9" y="557.51" font-size="7.8" font-weight="bold" text-anchor="end" fill="#000">0</text><line x1="147.5" y1="559.8" x2="147.5" y2="564.7" stroke="#000" stroke-width="1.3"/><line x1="172.1" y1="559.8" x2="172.1" y2="564.7" stroke="#000" stroke-width="1.3"/><line x1="196.2" y1="559.8" x2="196.2" y2="564.7" stroke="#000" stroke-width="1.3"/><line x1="220.4" y1="559.8" x2="220.4" y2="564.7" stroke="#000" stroke-width="1.3"/><path d="M147.5 557.31 L143.85 555.65 Q140.2 554 141.55 553.09 Q142.9 552.19 143.85 550.53 Q144.8 548.88 145.45 546.02 Q146.1 543.15 146.35 540.89 Q146.6 538.64 146.85 535.12 Q147.1 531.61 147.3 530.86 L147.5 530.1 L147.7 530.86 Q147.9 531.61 148.15 535.12 Q148.4 538.64 148.65 540.89 Q148.9 543.15 149.55 546.02 Q150.2 548.88 151.15 550.53 Q152.1 552.19 153.45 553.09 Q154.8 554 151.15 555.65 L147.5 557.31 Z" fill="#90ee90" stroke="#000" stroke-width="0.85" stroke-linejoin="round"/><line x1="147.5" y1="531.1" x2="147.5" y2="454.3" stroke="#000" stroke-width="1.1"/><line x1="141.55" y1="553.7" x2="153.45" y2="553.7" stroke="#000" stroke-width="0.5" stroke-dasharray="1.3 0.7" opacity="0.85"/><line x1="144.09" y1="551.69" x2="150.91" y2="551.69" stroke="#000" stroke-width="0.6" stroke-dasharray="1.3 0.7" opacity="0.85"/><line x1="145.86" y1="548.17" x2="149.14" y2="548.17" stroke="#000" stroke-width="0.5" stroke-dasharray="1.3 0.7" opacity="0.85"/><path d="M172.1 557.31 L168.3 555.65 Q164.5 554 166.1 553.09 Q167.7 552.19 168.85 550.53 Q170 548.88 170.5 546.77 Q171 544.66 171.3 543.15 Q171.6 541.65 171.85 540.89 L172.1 540.14 L172.35 540.89 Q172.6 541.65 172.9 543.15 Q173.2 544.66 173.7 546.77 Q174.2 548.88 175.35 550.53 Q176.5 552.19 178.1 553.09 Q179.7 554 175.9 555.65 L172.1 557.31 Z" fill="#12a012" stroke="#000" stroke-width="0.85" stroke-linejoin="round"/><line x1="172.1" y1="541.14" x2="172.1" y2="514.54" stroke="#000" stroke-width="1.1"/><line x1="165.93" y1="553.7" x2="178.27" y2="553.7" stroke="#000" stroke-width="0.5" stroke-dasharray="1.3 0.7" opacity="0.85"/><line x1="168.95" y1="551.69" x2="175.25" y2="551.69" stroke="#000" stroke-width="0.6" stroke-dasharray="1.3 0.7" opacity="0.85"/><line x1="171.07" y1="548.17" x2="173.13" y2="548.17" stroke="#000" stroke-width="0.5" stroke-dasharray="1.3 0.7" opacity="0.85"/><path d="M196.2 557.31 L192.4 555.65 Q188.6 554 190 553.09 Q191.4 552.19 192.25 550.53 Q193.1 548.88 193.7 546.02 Q194.3 543.15 194.45 540.89 Q194.6 538.64 194.85 536.5 Q195.1 534.37 195.4 532.24 Q195.7 530.1 195.95 529.35 L196.2 528.6 L196.45 529.35 Q196.7 530.1 197 532.24 Q197.3 534.37 197.55 536.5 Q197.8 538.64 197.95 540.89 Q198.1 543.15 198.7 546.02 Q199.3 548.88 200.15 550.53 Q201 552.19 202.4 553.09 Q203.8 554 200 555.65 L196.2 557.31 Z" fill="#90ee90" stroke="#000" stroke-width="0.85" stroke-linejoin="round"/><line x1="196.2" y1="529.6" x2="196.2" y2="468.36" stroke="#000" stroke-width="1.1"/><line x1="189.97" y1="553.7" x2="202.43" y2="553.7" stroke="#000" stroke-width="0.5" stroke-dasharray="1.3 0.7" opacity="0.85"/><line x1="192.56" y1="551.69" x2="199.84" y2="551.69" stroke="#000" stroke-width="0.6" stroke-dasharray="1.3 0.7" opacity="0.85"/><line x1="194.15" y1="548.17" x2="198.25" y2="548.17" stroke="#000" stroke-width="0.5" stroke-dasharray="1.3 0.7" opacity="0.85"/><path d="M220.4 556.71 L216.75 554.98 Q213.1 553.24 214.55 552.34 Q216 551.44 216.95 550.16 Q217.9 548.88 218.45 547.42 Q219 545.97 219.3 544.56 Q219.6 543.15 219.8 541.65 Q220 540.14 220.2 539.39 L220.4 538.64 L220.6 539.39 Q220.8 540.14 221 541.65 Q221.2 543.15 221.5 544.56 Q221.8 545.97 222.35 547.42 Q222.9 548.88 223.85 550.16 Q224.8 551.44 226.25 552.34 Q227.7 553.24 224.05 554.98 L220.4 556.71 Z" fill="#12a012" stroke="#000" stroke-width="0.85" stroke-linejoin="round"/><line x1="220.4" y1="539.64" x2="220.4" y2="497.72" stroke="#000" stroke-width="1.1"/><line x1="214.95" y1="553.7" x2="225.85" y2="553.7" stroke="#000" stroke-width="0.5" stroke-dasharray="1.3 0.7" opacity="0.85"/><line x1="216.5" y1="551.69" x2="224.3" y2="551.69" stroke="#000" stroke-width="0.6" stroke-dasharray="1.3 0.7" opacity="0.85"/><line x1="219.07" y1="548.17" x2="221.73" y2="548.17" stroke="#000" stroke-width="0.5" stroke-dasharray="1.3 0.7" opacity="0.85"/><path d="M172.1 431.5 V429.3 H220.4 V438.4" fill="none" stroke="#000" stroke-width="1.1"/><text x="196.65" y="429.7" font-size="14" font-weight="bold" text-anchor="middle" fill="#000" letter-spacing="0.8">**</text><path d="M147.5 452 V447.3 H196.2 V464.5" fill="none" stroke="#000" stroke-width="1.1"/><text x="172.2" y="447.1" font-size="14" font-weight="bold" text-anchor="middle" fill="#000" letter-spacing="0.8">****</text><path d="M147.9 454 V450.8 H172.1 V506.35" fill="none" stroke="#000" stroke-width="1.1"/><path d="M197.8 453.2 V450.8 H220.4 V493" fill="none" stroke="#000" stroke-width="1.1"/><text x="209.5" y="451" font-size="14" font-weight="bold" text-anchor="middle" fill="#000" letter-spacing="0.8">****</text><text x="0" y="0" font-size="8.5" font-weight="bold" text-anchor="middle" fill="#000" transform="translate(107 507) rotate(-90)" stroke="#000" stroke-width="0.3">Distance from vessels (µm)</text><text x="0" y="0" font-size="12" font-weight="bold" text-anchor="middle" fill="#0db14b" transform="translate(90.6 512.5) rotate(-90)" stroke="#0db14b" stroke-width="0.3">EGFP<tspan dy="-3.96" font-size="6.6">+</tspan><tspan dy="3.96"> cells</tspan></text><text x="160.9" y="577.3" font-size="10.2" text-anchor="middle" fill="#000" stroke="#000" stroke-width="0.2">D21</text><text x="208.2" y="577.3" font-size="10.2" text-anchor="middle" fill="#000" stroke="#000" stroke-width="0.2">D28</text><text x="103.2" y="592.5" font-size="10.3" fill="#000" stroke="#000" stroke-width="0.2">SMg</text><text x="147.5" y="593.2" font-size="11.6" text-anchor="middle" fill="#000" stroke="#000" stroke-width="0.25">-</text><text x="172.1" y="593" font-size="11.6" text-anchor="middle" fill="#000" stroke="#000" stroke-width="0.25">+</text><text x="196.2" y="593.2" font-size="11.6" text-anchor="middle" fill="#000" stroke="#000" stroke-width="0.25">-</text><text x="220.4" y="593" font-size="11.6" text-anchor="middle" fill="#000" stroke="#000" stroke-width="0.25">+</text><line x1="346.5" y1="555" x2="449.5" y2="555" stroke="#000" stroke-width="1.1" stroke-dasharray="1.2 2.4"/><path d="M344.9 454.9 V559.9 H451" fill="none" stroke="#000" stroke-width="1.3" stroke-linecap="square"/><line x1="340.8" y1="454.9" x2="344.9" y2="454.9" stroke="#000" stroke-width="1.3"/><text x="339.3" y="457.71" font-size="7.8" font-weight="bold" text-anchor="end" fill="#000">200</text><line x1="340.8" y1="479.9" x2="344.9" y2="479.9" stroke="#000" stroke-width="1.3"/><text x="339.3" y="482.71" font-size="7.8" font-weight="bold" text-anchor="end" fill="#000">150</text><line x1="340.8" y1="505" x2="344.9" y2="505" stroke="#000" stroke-width="1.3"/><text x="339.3" y="507.81" font-size="7.8" font-weight="bold" text-anchor="end" fill="#000">100</text><line x1="340.8" y1="530" x2="344.9" y2="530" stroke="#000" stroke-width="1.3"/><text x="339.3" y="532.81" font-size="7.8" font-weight="bold" text-anchor="end" fill="#000">50</text><line x1="340.8" y1="555" x2="344.9" y2="555" stroke="#000" stroke-width="1.3"/><text x="339.3" y="557.81" font-size="7.8" font-weight="bold" text-anchor="end" fill="#000">0</text><line x1="361.3" y1="559.9" x2="361.3" y2="564.8" stroke="#000" stroke-width="1.3"/><line x1="385.5" y1="559.9" x2="385.5" y2="564.8" stroke="#000" stroke-width="1.3"/><line x1="409.7" y1="559.9" x2="409.7" y2="564.8" stroke="#000" stroke-width="1.3"/><line x1="434.1" y1="559.9" x2="434.1" y2="564.8" stroke="#000" stroke-width="1.3"/><path d="M361.3 557.75 L357.65 556.15 Q354 554.55 355.45 553.9 Q356.9 553.25 357.6 552.45 Q358.3 551.65 358.85 548.82 Q359.4 545.99 359.8 542.99 Q360.2 539.99 360.5 537.23 Q360.8 534.48 361.05 533.73 L361.3 532.98 L361.55 533.73 Q361.8 534.48 362.1 537.23 Q362.4 539.99 362.8 542.99 Q363.2 545.99 363.75 548.82 Q364.3 551.65 365 552.45 Q365.7 553.25 367.15 553.9 Q368.6 554.55 364.95 556.15 L361.3 557.75 Z" fill="#ecec9c" stroke="#000" stroke-width="0.85" stroke-linejoin="round"/><line x1="361.3" y1="533.98" x2="361.3" y2="454.9" stroke="#000" stroke-width="1.1"/><line x1="356.13" y1="554" x2="366.47" y2="554" stroke="#000" stroke-width="0.5" stroke-dasharray="1.3 0.7" opacity="0.85"/><line x1="358.89" y1="552" x2="363.71" y2="552" stroke="#000" stroke-width="0.6" stroke-dasharray="1.3 0.7" opacity="0.85"/><line x1="359.81" y1="548.49" x2="362.79" y2="548.49" stroke="#000" stroke-width="0.5" stroke-dasharray="1.3 0.7" opacity="0.85"/><path d="M385.5 558.2 L381.85 556.38 Q378.2 554.55 378.15 553.82 Q378.1 553.1 378.95 550.92 Q379.8 548.74 380.9 545.87 Q382 542.99 382.8 540.09 Q383.6 537.18 384.15 534.33 Q384.7 531.48 385.1 530.73 L385.5 529.98 L385.9 530.73 Q386.3 531.48 386.85 534.33 Q387.4 537.18 388.2 540.09 Q389 542.99 390.1 545.87 Q391.2 548.74 392.05 550.92 Q392.9 553.1 392.85 553.82 Q392.8 554.55 389.15 556.38 L385.5 558.2 Z" fill="#ffee00" stroke="#000" stroke-width="0.85" stroke-linejoin="round"/><line x1="385.5" y1="530.98" x2="385.5" y2="511.96" stroke="#000" stroke-width="1.1"/><line x1="379" y1="553.1" x2="392" y2="553.1" stroke="#000" stroke-width="0.5" stroke-dasharray="1.3 0.7" opacity="0.85"/><line x1="380.02" y1="550.5" x2="390.98" y2="550.5" stroke="#000" stroke-width="0.6" stroke-dasharray="1.3 0.7" opacity="0.85"/><line x1="381.85" y1="545.74" x2="389.15" y2="545.74" stroke="#000" stroke-width="0.5" stroke-dasharray="1.3 0.7" opacity="0.85"/><path d="M409.7 557.75 L405.9 556.15 Q402.1 554.55 404 553.9 Q405.9 553.25 406.65 552.45 Q407.4 551.65 407.85 548.82 Q408.3 545.99 408.6 542.99 Q408.9 539.99 409.1 537.23 Q409.3 534.48 409.5 533.73 L409.7 532.98 L409.9 533.73 Q410.1 534.48 410.3 537.23 Q410.5 539.99 410.8 542.99 Q411.1 545.99 411.55 548.82 Q412 551.65 412.75 552.45 Q413.5 553.25 415.4 553.9 Q417.3 554.55 413.5 556.15 L409.7 557.75 Z" fill="#ecec9c" stroke="#000" stroke-width="0.85" stroke-linejoin="round"/><line x1="409.7" y1="533.98" x2="409.7" y2="455.9" stroke="#000" stroke-width="1.1"/><line x1="404.61" y1="554" x2="414.79" y2="554" stroke="#000" stroke-width="0.5" stroke-dasharray="1.3 0.7" opacity="0.85"/><line x1="407.97" y1="552" x2="411.43" y2="552" stroke="#000" stroke-width="0.6" stroke-dasharray="1.3 0.7" opacity="0.85"/><line x1="408.8" y1="548.49" x2="410.6" y2="548.49" stroke="#000" stroke-width="0.5" stroke-dasharray="1.3 0.7" opacity="0.85"/><path d="M434.1 557.75 L430.3 555.8 Q426.5 553.85 427.45 552.75 Q428.4 551.65 429.25 550.2 Q430.1 548.74 430.85 547.37 Q431.6 545.99 432.03 544.49 Q432.45 542.99 432.88 541.49 Q433.3 539.99 433.5 538.48 Q433.7 536.98 433.9 536.23 L434.1 535.48 L434.3 536.23 Q434.5 536.98 434.7 538.48 Q434.9 539.99 435.33 541.49 Q435.75 542.99 436.18 544.49 Q436.6 545.99 437.35 547.37 Q438.1 548.74 438.95 550.2 Q439.8 551.65 440.75 552.75 Q441.7 553.85 437.9 555.8 L434.1 557.75 Z" fill="#ffee00" stroke="#000" stroke-width="0.85" stroke-linejoin="round"/><line x1="434.1" y1="536.48" x2="434.1" y2="501.95" stroke="#000" stroke-width="1.1"/><line x1="428.05" y1="553.1" x2="440.15" y2="553.1" stroke="#000" stroke-width="0.5" stroke-dasharray="1.3 0.7" opacity="0.85"/><line x1="429.97" y1="550.5" x2="438.23" y2="550.5" stroke="#000" stroke-width="0.6" stroke-dasharray="1.3 0.7" opacity="0.85"/><line x1="431.95" y1="546.99" x2="436.25" y2="546.99" stroke="#000" stroke-width="0.5" stroke-dasharray="1.3 0.7" opacity="0.85"/><path d="M385.5 447.96 V445.62 H434.1 V496.13" fill="none" stroke="#000" stroke-width="1"/><text x="410.2" y="445.72" font-size="14" font-weight="bold" text-anchor="middle" fill="#000" letter-spacing="0.8">****</text><path d="M409.7 450.88 V448.83 H434.1 V450.88" fill="none" stroke="#000" stroke-width="1"/><text x="0" y="0" font-size="8.5" font-weight="bold" text-anchor="middle" fill="#000" transform="translate(320.8 507) rotate(-90)" stroke="#000" stroke-width="0.3">Distance from vessels (µm)</text><text x="0" y="0" font-size="12" font-weight="bold" text-anchor="middle" fill="#fdb913" transform="translate(304.4 514.5) rotate(-90)" stroke="#fdb913" stroke-width="0.3">EYFP<tspan dy="-3.96" font-size="6.6">+</tspan><tspan dy="3.96"> cells</tspan></text><text x="374.5" y="577.2" font-size="10.2" text-anchor="middle" fill="#000" stroke="#000" stroke-width="0.2">D21</text><text x="422.4" y="577.2" font-size="10.2" text-anchor="middle" fill="#000" stroke="#000" stroke-width="0.2">D28</text><text x="316.7" y="592.5" font-size="10.3" fill="#000" stroke="#000" stroke-width="0.2">SMg</text><text x="361.3" y="593.2" font-size="11.6" text-anchor="middle" fill="#000" stroke="#000" stroke-width="0.25">-</text><text x="385.5" y="593" font-size="11.6" text-anchor="middle" fill="#000" stroke="#000" stroke-width="0.25">+</text><text x="409.7" y="593.2" font-size="11.6" text-anchor="middle" fill="#000" stroke="#000" stroke-width="0.25">-</text><text x="434.1" y="593" font-size="11.6" text-anchor="middle" fill="#000" stroke="#000" stroke-width="0.25">+</text><line x1="558" y1="555" x2="667" y2="555" stroke="#000" stroke-width="1.1" stroke-dasharray="1.2 2.4"/><path d="M556.5 454.9 V559.9 H668.4" fill="none" stroke="#000" stroke-width="1.3" stroke-linecap="square"/><line x1="552.4" y1="454.9" x2="556.5" y2="454.9" stroke="#000" stroke-width="1.3"/><text x="550.9" y="457.71" font-size="7.8" font-weight="bold" text-anchor="end" fill="#000">200</text><line x1="552.4" y1="479.9" x2="556.5" y2="479.9" stroke="#000" stroke-width="1.3"/><text x="550.9" y="482.71" font-size="7.8" font-weight="bold" text-anchor="end" fill="#000">150</text><line x1="552.4" y1="505" x2="556.5" y2="505" stroke="#000" stroke-width="1.3"/><text x="550.9" y="507.81" font-size="7.8" font-weight="bold" text-anchor="end" fill="#000">100</text><line x1="552.4" y1="530" x2="556.5" y2="530" stroke="#000" stroke-width="1.3"/><text x="550.9" y="532.81" font-size="7.8" font-weight="bold" text-anchor="end" fill="#000">50</text><line x1="552.4" y1="555" x2="556.5" y2="555" stroke="#000" stroke-width="1.3"/><text x="550.9" y="557.81" font-size="7.8" font-weight="bold" text-anchor="end" fill="#000">0</text><line x1="573.5" y1="559.9" x2="573.5" y2="564.8" stroke="#000" stroke-width="1.3"/><line x1="599.3" y1="559.9" x2="599.3" y2="564.8" stroke="#000" stroke-width="1.3"/><line x1="624.4" y1="559.9" x2="624.4" y2="564.8" stroke="#000" stroke-width="1.3"/><line x1="650.5" y1="559.9" x2="650.5" y2="564.8" stroke="#000" stroke-width="1.3"/><path d="M573.5 557.5 L569.6 555.88 Q565.7 554.25 567.1 553.37 Q568.5 552.5 569.3 551.4 Q570.1 550.3 570.85 547.94 Q571.6 545.59 571.95 543.29 Q572.3 540.99 572.65 538.61 Q573 536.23 573.25 535.48 L573.5 534.73 L573.75 535.48 Q574 536.23 574.35 538.61 Q574.7 540.99 575.05 543.29 Q575.4 545.59 576.15 547.94 Q576.9 550.3 577.7 551.4 Q578.5 552.5 579.9 553.37 Q581.3 554.25 577.4 555.88 L573.5 557.5 Z" fill="#a8f0f0" stroke="#000" stroke-width="0.85" stroke-linejoin="round"/><line x1="573.5" y1="535.73" x2="573.5" y2="454.9" stroke="#000" stroke-width="1.1"/><line x1="567" y1="554" x2="580" y2="554" stroke="#000" stroke-width="0.5" stroke-dasharray="1.3 0.7" opacity="0.85"/><line x1="569.76" y1="552" x2="577.24" y2="552" stroke="#000" stroke-width="0.6" stroke-dasharray="1.3 0.7" opacity="0.85"/><line x1="571.57" y1="548.49" x2="575.43" y2="548.49" stroke="#000" stroke-width="0.5" stroke-dasharray="1.3 0.7" opacity="0.85"/><path d="M599.3 557.5 L595.4 555.88 Q591.5 554.25 592.7 553.37 Q593.9 552.5 594.7 551.4 Q595.5 550.3 596.35 547.94 Q597.2 545.59 597.8 543.29 Q598.4 540.99 598.65 539.48 Q598.9 537.98 599.1 537.23 L599.3 536.48 L599.5 537.23 Q599.7 537.98 599.95 539.48 Q600.2 540.99 600.8 543.29 Q601.4 545.59 602.25 547.94 Q603.1 550.3 603.9 551.4 Q604.7 552.5 605.9 553.37 Q607.1 554.25 603.2 555.88 L599.3 557.5 Z" fill="#22dcdc" stroke="#000" stroke-width="0.85" stroke-linejoin="round"/><line x1="599.3" y1="537.48" x2="599.3" y2="514.96" stroke="#000" stroke-width="1.1"/><line x1="592.74" y1="554" x2="605.86" y2="554" stroke="#000" stroke-width="0.5" stroke-dasharray="1.3 0.7" opacity="0.85"/><line x1="595.16" y1="552" x2="603.44" y2="552" stroke="#000" stroke-width="0.6" stroke-dasharray="1.3 0.7" opacity="0.85"/><line x1="597.05" y1="548.49" x2="601.55" y2="548.49" stroke="#000" stroke-width="0.5" stroke-dasharray="1.3 0.7" opacity="0.85"/><path d="M624.4 557.5 L620.35 555.88 Q616.3 554.25 617.45 553.37 Q618.6 552.5 619.35 551.4 Q620.1 550.3 620.7 547.94 Q621.3 545.59 621.8 543.29 Q622.3 540.99 622.7 538.61 Q623.1 536.23 623.4 533.85 Q623.7 531.48 623.9 529.22 Q624.1 526.97 624.25 526.22 L624.4 525.47 L624.55 526.22 Q624.7 526.97 624.9 529.22 Q625.1 531.48 625.4 533.85 Q625.7 536.23 626.1 538.61 Q626.5 540.99 627 543.29 Q627.5 545.59 628.1 547.94 Q628.7 550.3 629.45 551.4 Q630.2 552.5 631.35 553.37 Q632.5 554.25 628.45 555.88 L624.4 557.5 Z" fill="#a8f0f0" stroke="#000" stroke-width="0.85" stroke-linejoin="round"/><line x1="624.4" y1="526.47" x2="624.4" y2="473.42" stroke="#000" stroke-width="1.1"/><line x1="617.53" y1="554" x2="631.27" y2="554" stroke="#000" stroke-width="0.5" stroke-dasharray="1.3 0.7" opacity="0.85"/><line x1="619.84" y1="552" x2="628.96" y2="552" stroke="#000" stroke-width="0.6" stroke-dasharray="1.3 0.7" opacity="0.85"/><line x1="621.46" y1="548.49" x2="627.34" y2="548.49" stroke="#000" stroke-width="0.5" stroke-dasharray="1.3 0.7" opacity="0.85"/><path d="M650.5 557.25 L646.45 555.38 Q642.4 553.5 643.75 551.9 Q645.1 550.3 646.25 547.94 Q647.4 545.59 648.3 543.29 Q649.2 540.99 649.6 539.48 Q650 537.98 650.25 537.23 L650.5 536.48 L650.75 537.23 Q651 537.98 651.4 539.48 Q651.8 540.99 652.7 543.29 Q653.6 545.59 654.75 547.94 Q655.9 550.3 657.25 551.9 Q658.6 553.5 654.55 555.38 L650.5 557.25 Z" fill="#22dcdc" stroke="#000" stroke-width="0.85" stroke-linejoin="round"/><line x1="650.5" y1="537.48" x2="650.5" y2="505.7" stroke="#000" stroke-width="1.1"/><line x1="644.38" y1="554" x2="656.62" y2="554" stroke="#000" stroke-width="0.5" stroke-dasharray="1.3 0.7" opacity="0.85"/><line x1="644.57" y1="552" x2="656.43" y2="552" stroke="#000" stroke-width="0.6" stroke-dasharray="1.3 0.7" opacity="0.85"/><line x1="646.88" y1="548.49" x2="654.12" y2="548.49" stroke="#000" stroke-width="0.5" stroke-dasharray="1.3 0.7" opacity="0.85"/><path d="M573.5 440.5 V438.3 H624.4 V469.6" fill="none" stroke="#000" stroke-width="1.1"/><text x="599.35" y="438.4" font-size="14" font-weight="bold" text-anchor="middle" fill="#000" letter-spacing="0.8">****</text><path d="M573.5 454 V451.2 H599.3 V504.7" fill="none" stroke="#000" stroke-width="1.1"/><text x="586.8" y="451.3" font-size="14" font-weight="bold" text-anchor="middle" fill="#000" letter-spacing="0.8">**</text><path d="M626 455 V452.6 H650.5 V500.6" fill="none" stroke="#000" stroke-width="1.1"/><text x="638.65" y="452.7" font-size="14" font-weight="bold" text-anchor="middle" fill="#000" letter-spacing="0.8">****</text><text x="0" y="0" font-size="8.5" font-weight="bold" text-anchor="middle" fill="#000" transform="translate(531.4 507) rotate(-90)" stroke="#000" stroke-width="0.3">Distance from vessels (µm)</text><text x="0" y="0" font-size="12" font-weight="bold" text-anchor="middle" fill="#1eaaf0" transform="translate(512.2 513.6) rotate(-90)" stroke="#1eaaf0" stroke-width="0.3">EGFP<tspan dy="-3.96" font-size="6.6">+</tspan><tspan dy="3.96">/EYFP</tspan><tspan dy="-3.96" font-size="6.6">+</tspan><tspan dy="3.96"> cells</tspan></text><text x="587.6" y="577" font-size="10.2" text-anchor="middle" fill="#000" stroke="#000" stroke-width="0.2">D21</text><text x="639.2" y="577" font-size="10.2" text-anchor="middle" fill="#000" stroke="#000" stroke-width="0.2">D28</text><text x="530.3" y="592.5" font-size="10.3" fill="#000" stroke="#000" stroke-width="0.2">SMg</text><text x="573.5" y="593.2" font-size="11.6" text-anchor="middle" fill="#000" stroke="#000" stroke-width="0.25">-</text><text x="599.3" y="593" font-size="11.6" text-anchor="middle" fill="#000" stroke="#000" stroke-width="0.25">+</text><text x="624.4" y="593.2" font-size="11.6" text-anchor="middle" fill="#000" stroke="#000" stroke-width="0.25">-</text><text x="650.5" y="593" font-size="11.6" text-anchor="middle" fill="#000" stroke="#000" stroke-width="0.25">+</text></g><g id="panelD"><text x="2.5" y="668.9" font-size="18" font-weight="bold" fill="#000">D</text><text x="286.2" y="656.8" font-size="11.6" text-anchor="middle" fill="#000">Vehicle</text><text x="458" y="656.8" font-size="11.6" text-anchor="middle" fill="#000">SMg</text><g transform="translate(201.7 666)" clip-path="url(#dclip)"><rect width="168" height="167.6" fill="#000"/><g filter="url(#drough)"><path d="M61.01 0 L52.22 10.54 L42.18 23.1 L44.69 38.16 L42.93 48.2 L38.41 63.27 L35.9 73.31 L29.63 84.61 L27.12 94.65 L35.9 102.18 L54.73 105.95 L57.24 114.74 L45.95 119.76 L38.41 128.55 L32.14 134.82 L28.37 142.36 L20.34 148.63 L22.09 158.67 L25.86 167.71 L167.96 167.71 L167.96 0 Z" fill="#240606"/></g><g filter="url(#drough2)" stroke-linejoin="round"><path d="M55.63 6.86 L62.42 1.74 L64.47 1.38 L68.1 3.92 L69.44 8.71 L68.05 17.83 Z" fill="#741515"/><path d="M71.28 8.9 L70.02 4.35 L78.21 3.05 L85.26 12.86 L85.04 13.57 Z" fill="#741515"/><path d="M79.69 1.97 L85.4 -7.55 L90.23 -3.82 L91.63 6.37 L86.64 11.64 Z" fill="#520e0e"/><path d="M92.66 -3.71 L104.9 -5.84 L106.57 6.31 L105.06 7.21 L94.05 6.39 Z" fill="#520e0e"/><path d="M111.11 7.53 L120.85 0.25 L125.89 3.09 L125.97 11.13 L124.89 12.08 L117.59 12.18 Z" fill="#861919"/><path d="M128.11 11.01 L128.02 2.2 L134.17 -3.55 L142.29 -4.08 L142.55 -3.81 L143.37 3.26 L140.91 10.21 L139.03 12 Z" fill="#861919"/><path d="M142.31 10.86 L144.74 4.01 L157.93 8.83 L154.72 15.59 Z" fill="#520e0e"/><path d="M145.45 3.01 L144.65 -3.94 L156.4 -4.58 L165.18 2.04 L165.03 3.24 L158.61 7.82 Z" fill="#260606"/><path d="M44.62 21.97 L45.68 16.85 L49.97 13.79 L65.03 23.93 L63.73 27.17 Z" fill="#741515"/><path d="M50.35 12.99 L53.85 8.12 L55 7.63 L67.75 18.89 L68.15 21.44 L66.14 23.62 Z" fill="#340808"/><path d="M69.44 18.94 L70.81 9.95 L85.12 14.81 L85.08 15.48 L77.58 20.95 L69.83 21.39 Z" fill="#741515"/><path d="M87.14 15.28 L87.18 14.6 L87.41 13.86 L92.71 8.26 L104.51 9.13 L100.53 23.18 L93.65 22.66 Z" fill="#520e0e"/><path d="M102.45 23.11 L106.34 9.4 L107.91 8.46 L108.84 8.7 L115.64 13.58 L112.01 24.06 L105.27 25.59 Z" fill="#260606"/><path d="M113.65 24.79 L117.31 14.22 L125.04 14.11 L125.8 23.76 L120.63 28.82 Z" fill="#ac2222"/><path d="M127.55 23.53 L126.8 13.96 L127.94 12.97 L138.41 13.91 L140.6 25.45 L138.9 28.1 Z" fill="#520e0e"/><path d="M142.61 24.97 L140.5 13.83 L142.24 12.17 L153.89 16.63 L154.57 22.36 Z" fill="#420b0b"/><path d="M156.66 22.69 L155.92 16.43 L159.22 9.48 L165.82 4.77 L173.96 16.86 L159.99 25.12 L159.59 25.06 Z" fill="#340808"/><path d="M44.55 27.41 L44.01 24.94 L44.79 23.44 L62.89 28.36 L62.84 29.49 L55.28 36.11 L49.6 36.4 Z" fill="#981d1d"/><path d="M66.56 29.69 L66.6 28.58 L67.83 25.52 L69.64 23.57 L76.88 23.15 L81.82 36.94 L79.59 38.88 L74.39 38.45 Z" fill="#861919"/><path d="M78.83 22.3 L86.22 16.91 L92.6 24.14 L86.42 36.08 L84.03 36.83 Z" fill="#861919"/><path d="M88.33 36.68 L94.4 24.95 L101.02 25.45 L103.8 27.9 L103.66 37.89 L98.92 40.64 Z" fill="#260606"/><path d="M106.06 38.14 L106.2 28.4 L112.69 26.92 L119.36 30.76 L119.79 34.62 L114.29 41.45 L113.28 41.39 Z" fill="#981d1d"/><path d="M122.67 34.34 L122.23 30.39 L127.28 25.44 L138.48 29.95 L138.42 33.28 L136.33 36.96 L132.16 38.2 Z" fill="#520e0e"/><path d="M141.29 32.68 L141.35 29.47 L142.96 26.94 L154.75 24.37 L157.4 26.51 L152.53 36.75 Z" fill="#260606"/><path d="M157.37 44.64 L154.66 37.77 L159.52 27.54 L159.89 27.6 L169.27 38.11 Z" fill="#861919"/><path d="M45.92 46.48 L49.63 39.04 L55.36 38.74 L60.88 46.8 L49.58 52.18 Z" fill="#741515"/><path d="M57.44 38.03 L65.11 31.3 L73.11 40.25 L65.67 47.24 L63 46.16 Z" fill="#340808"/><path d="M68.04 54.63 L66.89 48.67 L74.82 41.22 L80.47 41.68 L82.81 54.31 L80.91 58.13 Z" fill="#861919"/><path d="M84.66 53.42 L82.44 41.45 L84.74 39.46 L87.08 38.73 L97.62 42.67 L96.74 51.54 L96.59 51.71 Z" fill="#ac2222"/><path d="M98.68 51.93 L99.6 42.58 L104.57 39.69 L112.33 43.17 L106.29 53.4 Z" fill="#420b0b"/><path d="M115.51 43.06 L121.38 35.76 L131.29 39.79 L124.64 51.77 L122.26 51.79 Z" fill="#340808"/><path d="M126.45 52.02 L132.76 40.64 L136.89 39.41 L142.61 52.01 L135.95 57.69 Z" fill="#340808"/><path d="M144.58 51.42 L138.82 38.73 L140.91 35.06 L152.53 39.26 L155.33 46.37 L154.77 47.87 L145.23 51.41 Z" fill="#260606"/><path d="M164.03 57.69 L157.01 48.39 L157.61 46.78 L170.83 39.53 L171.37 39.6 L176.55 50.86 Z" fill="#621111"/><path d="M31.97 63.8 L34.32 56.78 L41.64 48.2 L44.37 48.06 L48.25 54.1 L49.54 62.77 L47.66 64.18 Z" fill="#420b0b"/><path d="M51.75 62.54 L50.49 54.16 L62.07 48.65 L64.78 49.74 L65.87 55.43 L60.4 62.49 L56.25 63.45 Z" fill="#981d1d"/><path d="M62.13 63.46 L67.82 56.13 L80.58 59.59 L81.17 64.17 L74.07 71.82 Z" fill="#861919"/><path d="M83.44 63.68 L82.9 59.48 L84.63 56.01 L96.1 54.36 L97.03 65.94 L88.18 66.17 Z" fill="#340808"/><path d="M99.57 66.09 L98.61 54.16 L98.76 54 L105.91 55.38 L111.5 61.89 L103.27 67.85 L101.39 67.33 Z" fill="#861919"/><path d="M107.36 54.13 L113.4 43.9 L114.49 43.97 L121.27 52.74 L114.54 60.95 L113.31 61.05 Z" fill="#861919"/><path d="M116.53 61.65 L122.85 53.93 L125.1 53.91 L134.55 59.55 L134.52 60.89 L131.69 65.14 L119.46 65.41 Z" fill="#621111"/><path d="M137.04 60.96 L137.08 59.58 L143.94 53.72 L144.61 53.71 L153.36 67.39 L143.15 67.04 Z" fill="#ac2222"/><path d="M155.22 67.47 L146.51 53.84 L156.24 50.23 L162.92 59.07 L162.48 66.69 L159.88 69.79 Z" fill="#340808"/><path d="M33.07 77.91 L31.02 65.5 L31.26 65.38 L47.22 65.77 L44.93 79.28 Z" fill="#340808"/><path d="M46.46 79.33 L48.71 66.04 L50.6 64.63 L55.26 65.57 L58.35 75.63 L48.44 82.88 Z" fill="#260606"/><path d="M59.83 75.7 L56.65 65.32 L61.09 64.3 L73.37 72.89 L73.33 73.26 L66.39 80.66 Z" fill="#861919"/><path d="M75.48 73.46 L75.52 73.12 L82.16 65.96 L86.99 68.49 L88.32 80.2 L82.72 81.74 Z" fill="#981d1d"/><path d="M90.22 80.49 L88.81 68.14 L98.32 67.89 L100.22 69.19 L92.17 81.13 Z" fill="#861919"/><path d="M104.87 69.4 L113.27 63.31 L114.46 63.22 L117.45 67.05 L119.09 75.22 L117.59 77.74 L108.51 77.99 Z" fill="#ac2222"/><path d="M120.89 75.16 L119.28 67.1 L131.59 66.83 L130.32 73.26 Z" fill="#ac2222"/><path d="M131.96 73.59 L133.28 66.88 L136.25 62.41 L142.44 68.57 L141.95 79.64 L137.98 82.89 Z" fill="#ac2222"/><path d="M143.85 79.81 L144.34 68.72 L154.68 69.07 L159.43 71.44 L158.95 75.63 L157 77.03 Z" fill="#621111"/><path d="M32.13 89.2 L31.22 82.27 L33.24 79.45 L45.05 80.82 L47.05 84.41 L47.49 86.36 L42.68 89.86 L32.22 89.3 Z" fill="#260606"/><path d="M49.92 86.47 L49.5 84.6 L59.1 77.58 L65.25 82.23 L63.81 89.79 L60.38 91.72 L57.33 91.68 Z" fill="#861919"/><path d="M66.28 89.7 L67.7 82.23 L74.13 75.37 L81.5 83.8 L78.37 92.01 L76.18 92.88 Z" fill="#861919"/><path d="M79.88 92.6 L83.29 83.7 L89.48 82 L91.52 82.67 L95.42 86.24 L84.77 94.81 Z" fill="#741515"/><path d="M92.74 82.04 L101.09 69.65 L103.12 70.21 L106.98 79.32 L103.77 85.27 L100.32 87.31 L96.6 85.58 Z" fill="#861919"/><path d="M105.61 85.67 L108.57 80.18 L117.46 79.93 L120.84 87.18 L114.17 91.38 Z" fill="#520e0e"/><path d="M120.06 79.58 L121.5 77.16 L130.68 75.31 L136.3 83.99 L136.15 84.58 L129.52 89.42 L123.37 86.69 Z" fill="#981d1d"/><path d="M138.6 85.13 L138.77 84.47 L142.88 81.11 L156.51 78.24 L151.81 92.96 L146.72 92.98 Z" fill="#520e0e"/><path d="M153.77 92.6 L158 79.32 L159.82 78.01 L163.15 81.54 L165.15 91.05 L162.53 95.75 L158.35 95.84 Z" fill="#861919"/><path d="M33.01 99.63 L32.33 90.72 L42.09 91.24 L40.11 99.38 Z" fill="#260606"/><path d="M41.94 99.38 L43.9 91.29 L48.36 88.05 L55.53 93.09 L47.65 105.11 Z" fill="#741515"/><path d="M61.75 93.48 L65.29 91.49 L75.64 94.81 L75.12 100.19 L68.51 108.64 L65.62 108.78 Z" fill="#981d1d"/><path d="M76.63 100.03 L77.14 94.66 L79.42 93.76 L84.11 95.88 L90.24 101.82 L79.21 103.45 Z" fill="#861919"/><path d="M85.61 95.6 L95.96 87.27 L99.61 88.97 L98.79 99.45 L93.68 103.04 L91.82 101.61 Z" fill="#420b0b"/><path d="M100.23 99.4 L101.05 88.94 L104.43 86.93 L113.52 92.99 L112.14 102.43 L111.02 103.02 Z" fill="#520e0e"/><path d="M114.15 102.48 L115.48 93.3 L122.36 88.98 L128.83 91.85 L128.25 103.42 L127.12 104.25 Z" fill="#621111"/><path d="M130.18 103.46 L130.76 91.72 L137.84 86.55 L145.64 94.09 L143 100.83 L137.52 105.44 Z" fill="#741515"/><path d="M144.67 101.01 L147.31 94.29 L152.19 94.27 L157.06 97.72 L152.92 105.33 Z" fill="#520e0e"/><path d="M49.02 112.8 L48.62 106.98 L57.11 94.04 L60.29 94.08 L64.2 109.54 L57.42 115.8 Z" fill="#520e0e"/><path d="M69.81 109.94 L76.29 101.66 L78.82 105.02 L82.35 114.3 L81.18 115.29 L80.14 115.75 Z" fill="#520e0e"/><path d="M83.91 113.52 L80.59 104.77 L90.82 103.26 L92.52 104.57 L91.06 110.69 Z" fill="#260606"/><path d="M93.33 111.17 L94.83 104.87 L99.65 101.49 L109.83 104.9 L107.78 116.62 L101.2 119.16 Z" fill="#260606"/><path d="M110.45 116.74 L112.47 105.25 L113.5 104.7 L125.83 106.38 L123.88 115.19 L114.35 118.5 Z" fill="#ac2222"/><path d="M126.26 115.82 L128.38 106.27 L129.55 105.41 L137.02 107.42 L143.36 116.34 L135.21 122.31 L130.58 122.32 Z" fill="#420b0b"/><path d="M138.67 107.1 L144.15 102.49 L152.42 106.83 L152.57 113.63 L147.9 116.61 L144.92 115.89 Z" fill="#741515"/><path d="M154.26 112.74 L154.12 106.17 L158.14 98.79 L162.45 98.69 L165.09 102.32 L160.63 113.33 Z" fill="#741515"/><path d="M44.21 131.01 L44.73 116.94 L48.46 114.85 L56.85 117.84 L61.45 128.97 L50.62 133.72 Z" fill="#340808"/><path d="M63.47 128.21 L59.03 117.48 L65.57 111.44 L68.39 111.3 L78.65 117.08 L74.73 124.57 L64.41 128.79 Z" fill="#520e0e"/><path d="M76.82 125.41 L80.87 117.64 L81.94 117.16 L92.35 132.18 L91.8 132.87 L80.93 129.37 Z" fill="#861919"/><path d="M83.19 116.8 L84.34 115.83 L91.8 112.88 L99.78 120.98 L97.99 127.59 L93.13 131.15 Z" fill="#741515"/><path d="M100.1 128.35 L101.98 121.42 L108.97 118.72 L113.19 120.63 L114.47 124.17 L109.83 135.37 Z" fill="#420b0b"/><path d="M116.28 123.98 L115.06 120.6 L124.91 117.18 L129.03 123.38 L124.54 131.52 Z" fill="#340808"/><path d="M136.8 123.38 L144.54 117.7 L147.41 118.39 L148.98 124.32 L141.61 132.81 Z" fill="#ac2222"/><path d="M150.85 124.16 L149.23 118.05 L153.86 115.1 L160.4 115.7 L160.8 116.03 L163.57 125.65 L160.14 130.1 L157.09 130.07 Z" fill="#981d1d"/><path d="M24.28 137.41 L24.3 136.78 L29.49 133.8 L36.88 135.11 L38.12 140.05 L35.21 149.15 Z" fill="#260606"/><path d="M40.13 139.93 L38.93 135.14 L43.56 132.97 L49.57 135.5 L48.71 142.54 L46.73 143.22 Z" fill="#340808"/><path d="M50.74 142.69 L51.63 135.4 L62.14 130.79 L63.08 131.38 L66.22 141.02 L55.7 147.7 Z" fill="#741515"/><path d="M68.42 140.46 L65.42 131.23 L75.35 127.17 L79.17 130.84 L76.86 141.27 L71.48 142.91 Z" fill="#741515"/><path d="M79.09 141.79 L81.45 131.11 L91.79 134.44 L90.47 141.1 L89.55 142.15 Z" fill="#340808"/><path d="M92.47 140.98 L93.81 134.23 L94.34 133.56 L99.24 129.97 L108.6 136.72 L110.29 139.31 L101.22 144.04 Z" fill="#621111"/><path d="M110.85 136.64 L115.53 125.39 L124.24 133.34 L124.07 140.36 L119.05 142.82 L112.63 139.34 Z" fill="#621111"/><path d="M126.09 139.74 L126.25 133.2 L130.65 125.21 L134.99 125.2 L139.73 134.52 L139.13 140.98 L130.22 140.95 Z" fill="#ac2222"/><path d="M141.39 141.55 L142 134.98 L149.4 126.44 L155.49 132.21 L145.42 144.09 L145.26 144.17 Z" fill="#741515"/><path d="M146.74 144.47 L157.2 132.12 L160.3 132.15 L164.27 138.33 L161.1 143.79 Z" fill="#861919"/><path d="M20.73 153.58 L19.68 146.69 L23.65 138.75 L34.96 150.89 L35.95 153.8 L33.75 156.69 L27.16 156.93 Z" fill="#741515"/><path d="M37.29 153.43 L36.32 150.58 L39.25 141.4 L46.13 144.83 L38.05 153.32 Z" fill="#420b0b"/><path d="M39.11 153.58 L47.41 144.87 L49.52 144.14 L54.64 149.31 L54.32 151.33 L51.31 156.57 Z" fill="#621111"/><path d="M56.57 151.13 L56.87 149.24 L67.04 142.79 L70.13 145.26 L70.95 151.44 L66.85 156.02 Z" fill="#260606"/><path d="M73.48 151.73 L72.62 145.28 L78.28 143.56 L89.06 143.93 L88.75 155.55 L88.06 156.52 L83.78 159.17 Z" fill="#260606"/><path d="M90.36 155.43 L90.68 143.47 L91.65 142.36 L100.79 145.56 L103.39 155.16 Z" fill="#340808"/><path d="M105.19 154.82 L102.74 145.79 L111.67 141.14 L117.71 144.41 L115.6 151.42 L105.64 155.06 Z" fill="#ac2222"/><path d="M118.07 151.93 L120.13 145.12 L124.72 142.87 L128.78 144.06 L130.11 158.94 L126.19 161.01 L121.79 160.02 Z" fill="#340808"/><path d="M132.65 158.53 L131.31 143.64 L140.07 143.67 L143.8 146.2 L144.07 147.83 L137.44 158.48 Z" fill="#420b0b"/><path d="M146.34 147.75 L146.05 145.97 L146.22 145.88 L160.82 145.19 L165.68 157.16 L165.55 157.5 L152.48 155.46 Z" fill="#861919"/><path d="M23.7 167.3 L27.58 158.83 L33.77 158.61 L35.78 167.37 L30.32 170.74 Z" fill="#ac2222"/><path d="M37.78 167.12 L35.71 158.09 L37.84 155.3 L38.59 155.19 L50.36 158.07 L52.86 165.85 L50.7 168.52 L41.33 169.5 Z" fill="#741515"/><path d="M54.83 165.87 L52.16 157.6 L55.25 152.23 L66.5 157.58 L63.78 165.71 Z" fill="#420b0b"/><path d="M65.46 165.63 L68.05 157.91 L72.32 153.15 L82.58 160.57 L81.7 163.33 L68.34 168.13 Z" fill="#340808"/><path d="M85.88 172.61 L83.52 163.73 L84.44 160.84 L88.9 158.08 L98.62 168.93 Z" fill="#861919"/><path d="M99.64 168.69 L89.84 157.74 L90.57 156.73 L103.88 156.45 L104.36 156.71 L104.72 166.21 L100.67 169.02 Z" fill="#741515"/><path d="M106.03 166.08 L105.68 156.77 L116.27 152.91 L120.33 161.75 L114.61 168.91 Z" fill="#340808"/><path d="M130.52 171.58 L127.42 163.33 L131.79 161.02 L137.11 160.96 L143.64 170.49 L143.06 171.84 Z" fill="#260606"/><path d="M144.55 169.7 L138.21 160.45 L145.38 148.94 L151.44 156.56 L147.68 167.86 Z" fill="#340808"/><path d="M149.68 168.05 L153.3 157.14 L165.76 159.09 L167.1 164.34 L162.33 169.96 Z" fill="#420b0b"/></g><circle cx="108.71" cy="15.57" r="9" fill="#cc2c2c" opacity="0.5" filter="url(#dsoft2)"/><circle cx="123.78" cy="19.33" r="7" fill="#cc2c2c" opacity="0.5" filter="url(#dsoft2)"/><circle cx="106.2" cy="104.69" r="10" fill="#cc2c2c" opacity="0.5" filter="url(#dsoft2)"/><circle cx="73.56" cy="108.46" r="9" fill="#cc2c2c" opacity="0.5" filter="url(#dsoft2)"/><circle cx="166.46" cy="108.46" r="8" fill="#cc2c2c" opacity="0.5" filter="url(#dsoft2)"/><circle cx="158.93" cy="153.65" r="8" fill="#cc2c2c" opacity="0.5" filter="url(#dsoft2)"/><circle cx="55.99" cy="73.31" r="6" fill="#cc2c2c" opacity="0.5" filter="url(#dsoft2)"/><circle cx="138.84" cy="85.86" r="8" fill="#cc2c2c" opacity="0.5" filter="url(#dsoft2)"/><circle cx="83.61" cy="115.99" r="9" fill="#cc2c2c" opacity="0.5" filter="url(#dsoft2)"/><circle cx="48.46" cy="138.59" r="6" fill="#cc2c2c" opacity="0.5" filter="url(#dsoft2)"/><g fill="#000" filter="url(#drough2)"><path d="M113.68 58.39 L112.81 53.89 L113.91 51.12 L116.7 52.35 L118.14 55.87 Z" opacity="0.91"/><path d="M75.54 101.6 L74.17 94.11 L82.85 97.12 Z" opacity="0.84"/><path d="M75.3 88.05 L76.42 81.19 L82.55 82.94 L82.15 89.31 Z" opacity="0.82"/><path d="M141.09 77.65 L145.27 80.04 L145.8 85.07 L140.71 82.94 Z" opacity="0.69"/><path d="M161.88 130.02 L166.81 133.02 L161.83 137.47 Z" opacity="0.75"/><path d="M129.34 122.2 L133.84 116.59 L138.84 122.38 Z" opacity="0.92"/><path d="M104.23 85.28 L106.7 85.97 L105.38 88.85 L102.25 88.42 L102.86 85.9 Z" opacity="0.71"/><path d="M124.33 18.55 L118.44 19.66 L117.1 14.41 L121.47 14.37 Z" opacity="0.68"/><path d="M129.86 73.55 L131.69 71.2 L132.96 74.05 L131.01 75.46 Z" opacity="0.63"/><path d="M54.24 79.76 L48.95 83.07 L46.56 75.89 L53.9 73.26 Z" opacity="0.91"/><path d="M141.78 117.88 L145.94 117.29 L149.99 121.36 L143.27 123.61 Z" opacity="0.68"/><path d="M103.48 44.02 L107.38 47.39 L105.57 51.5 L102.23 50.43 L101.16 47.92 Z" opacity="0.75"/><path d="M47.32 76.22 L48.69 80.14 L44.68 81.27 L41.53 76.41 Z" opacity="0.88"/><path d="M143.71 99.98 L139.2 100.92 L139.73 96.72 Z" opacity="0.74"/><path d="M138.63 152.27 L140.08 156.63 L136.41 156.2 Z" opacity="0.76"/><path d="M122.64 164.1 L119.14 168.19 L114.85 166.98 L114.02 162.47 L118.61 159.98 Z" opacity="0.82"/><path d="M49.94 10.97 L54.13 17.7 L48.89 21.26 L44.66 16.73 Z" opacity="0.66"/><path d="M118.41 160.23 L123.28 163.1 L121.67 166.82 L118.32 169.54 L115.04 165.19 Z" opacity="0.65"/><path d="M82.81 68.75 L80.05 73.05 L78.5 68.76 Z" opacity="0.99"/><path d="M27.78 153.63 L22.54 154.37 L18.06 152.62 L20.01 146.93 L25.03 148.92 Z" opacity="0.66"/><path d="M157.19 5.47 L151.08 0.98 L156.72 -2.68 L161.64 0.36 Z" opacity="0.63"/><path d="M166.02 151.68 L171.81 157.67 L165.64 162.33 L160.84 157.27 Z" opacity="0.91"/><path d="M59.82 23.2 L55.38 25.22 L53.15 20.87 L57.35 19.58 Z" opacity="0.8"/><path d="M150.68 148.99 L156.46 153.08 L150.6 158.3 L145.32 152.98 Z" opacity="0.76"/><path d="M70.25 99.67 L67.96 93.91 L72.51 91.68 L79.51 91.76 L75.95 98.11 Z" opacity="0.85"/><path d="M75.85 60.3 L74.44 64.91 L69.78 65.84 L71.13 61.29 Z" opacity="0.95"/><path d="M160.88 79.01 L165.67 77.53 L164.12 82.69 Z" opacity="1"/><path d="M119.09 148.05 L120.94 144.31 L124.51 142.43 L126.26 146.52 L123.58 150.46 Z" opacity="0.64"/><path d="M136.22 20.76 L133.1 24.04 L129.74 20.74 L133.13 18.26 Z" opacity="0.96"/><path d="M137.33 69.29 L134.14 67.91 L135.12 64.57 L138.35 64.15 L139.23 67.02 Z" opacity="0.91"/><path d="M132.03 146.08 L133.3 149.24 L129.79 149.52 L127.84 147.34 L129.82 145.46 Z" opacity="0.95"/><path d="M173.04 31.93 L166.24 38.66 L164.52 31.45 Z" opacity="0.93"/><path d="M159.02 50.13 L159.36 42.1 L164.77 45.93 Z" opacity="0.67"/><path d="M146.23 23.43 L140 22.42 L142.33 15.04 L148.44 18.51 Z" opacity="0.86"/><path d="M150.18 97.63 L149.89 100.55 L147.08 100.03 L146.64 96.35 Z" opacity="0.79"/><path d="M89.17 75.85 L87.9 68.8 L93.43 69.98 Z" opacity="0.82"/><path d="M25.7 144.97 L37.21 148.63 L30.53 153.53 Z" opacity="0.96"/><path d="M131.14 149.35 L133.58 153.1 L129.67 156.44 L126.94 151.73 Z" opacity="0.81"/><path d="M163.4 32.16 L154.56 31.04 L160.78 24.11 Z" opacity="0.7"/><path d="M120.87 123.98 L117.76 122.31 L119.04 119.73 L121.66 118.1 L123.71 121.39 Z" opacity="0.83"/><path d="M144.21 28.21 L148.97 29.28 L146.18 33.09 Z" opacity="0.94"/><path d="M96.38 123.47 L95.12 118.19 L102.07 120.37 Z" opacity="0.81"/><path d="M45.31 100.22 L43.38 99.81 L42.13 97.54 L44.86 95.82 L47.21 98.17 Z" opacity="0.62"/><path d="M71.29 63.48 L66.11 61.78 L69.51 59.28 Z" opacity="0.9"/><path d="M88.66 164.35 L88.75 166.52 L86.43 166.2 L86.51 163.82 Z" opacity="0.63"/><path d="M130.9 125.49 L126.47 124.93 L126.91 121.81 L129.68 121.46 Z" opacity="0.72"/><path d="M156.47 156.49 L158.85 153.03 L161.15 155.72 Z" opacity="0.88"/><path d="M149.87 93.34 L148.33 101.55 L142.19 102.69 L142.7 96.92 Z" opacity="0.77"/><path d="M42.5 136.58 L36.74 134.36 L40.2 128.94 L45.99 131.58 Z" opacity="1"/><path d="M112.67 145.39 L113.05 142.7 L117.35 142.78 L115.55 147.18 Z" opacity="0.81"/><path d="M123.87 82.63 L127.69 83.99 L126.75 87.73 L122.36 91 L121.01 85.5 Z" opacity="0.91"/><path d="M122.53 150.42 L123.72 153.38 L120.61 153.53 L120.22 151.2 Z" opacity="0.95"/><path d="M115.31 51.41 L111.26 55.1 L109.97 50.01 L113.33 47.2 Z" opacity="0.77"/><path d="M89.66 26.89 L87.57 21.18 L93.78 17.14 L96.88 25.12 Z" opacity="0.81"/><path d="M75.98 26.08 L72.15 23.42 L75.05 19.99 L77.83 22.55 Z" opacity="0.61"/><path d="M104.2 100.36 L99.07 94.94 L104.68 91.25 L110.59 91.35 L110.6 98.17 Z" opacity="0.98"/><path d="M146.78 36.53 L148.8 42.51 L141.68 40.24 Z" opacity="0.97"/><path d="M35.37 157.66 L36.13 152.62 L40.45 155.46 Z" opacity="0.96"/><path d="M133.7 83.82 L131.22 79.96 L134.6 78.28 L138.38 78.04 L138.14 82.63 Z" opacity="0.71"/><path d="M62.27 144.07 L61.58 141.64 L62.96 139.3 L67.01 140.08 L65.64 144.21 Z" opacity="0.7"/><path d="M109.53 35.36 L110.09 30.6 L111.99 26.81 L114.86 30.16 L113.72 33.01 Z" opacity="0.62"/><path d="M92.55 100.22 L92.2 104.35 L88.31 102.78 Z" opacity="0.62"/><path d="M48.24 57.6 L56.02 58.7 L51.26 64.68 Z" opacity="0.81"/><path d="M153.5 164.3 L154.96 162.36 L157.3 162.9 L157.32 165.32 L154.99 166.57 Z" opacity="0.99"/><path d="M57.39 54.34 L60.6 59.75 L54.75 61.64 L52.34 56.77 Z" opacity="0.66"/><path d="M53.16 118.52 L51.5 111.37 L59.47 111.74 L58.8 118.17 Z" opacity="0.7"/><path d="M58.55 25.95 L55.82 34.59 L49.62 28.39 Z" opacity="0.72"/><path d="M145.73 90.94 L136.66 86.03 L143.96 83.41 Z" opacity="0.7"/><path d="M83.24 131.22 L87.25 130.08 L87.68 134.02 L85.69 137.92 L82.91 134.51 Z" opacity="0.83"/><path d="M108.75 17.97 L111.78 22.38 L106.02 26.23 L104.25 19.89 Z" opacity="0.67"/><path d="M157.84 164.53 L155.38 163.14 L157.05 160.73 L160 160.63 L159.59 163.36 Z" opacity="0.66"/><path d="M167.1 142.21 L169.32 145.73 L167.82 148.19 L165.99 146.14 Z" opacity="0.82"/><path d="M80.56 65.33 L77.77 62.94 L79.61 59.12 L84.4 59.67 L83.57 63.99 Z" opacity="0.88"/><path d="M93.01 131.88 L93.37 136.96 L88.46 134.11 Z" opacity="0.77"/><path d="M27.53 150.78 L24.2 150.2 L23.34 147.62 L25.4 145.34 L27.95 147.33 Z" opacity="0.7"/><path d="M149.18 53.15 L148.64 49.45 L153.08 51.9 Z" opacity="0.76"/><path d="M92.38 90.91 L95.41 91.69 L97.56 94.72 L93.9 96.99 L90.31 94.46 Z" opacity="0.78"/><path d="M142.56 120.59 L139.55 124.42 L138.48 120.18 Z" opacity="0.61"/><path d="M96.37 11.82 L89.73 13.29 L93 7.62 Z" opacity="0.7"/><path d="M157.09 79.6 L159.63 83.71 L155.61 84.97 L151.48 84.85 L153.35 80.93 Z" opacity="0.88"/><path d="M43.15 153.76 L40.81 154.44 L40.16 151.95 L41.99 150.86 L44.71 151.43 Z" opacity="0.85"/><path d="M74.96 53.58 L73.74 52.07 L75.1 49.76 L76.99 51.55 L77.44 54.11 Z" opacity="0.82"/><path d="M113.11 30.92 L113.91 28.41 L116.32 30.23 Z" opacity="0.62"/><path d="M140.06 129.79 L140.35 126.55 L143.88 127.4 Z" opacity="0.77"/><path d="M165.08 33.94 L163.6 37.95 L161 39.87 L157.01 37.19 L159.96 32.55 Z" opacity="0.91"/></g><g filter="url(#dwsp2)" fill="none" stroke="#f0e6e6" stroke-width="1.4" stroke-linejoin="round"><path d="M55.63 6.86 L62.42 1.74 L64.47 1.38 L68.1 3.92 L69.44 8.71 L68.05 17.83 Z" opacity="0.42"/><path d="M71.28 8.9 L70.02 4.35 L78.21 3.05 L85.26 12.86 L85.04 13.57 Z" opacity="0.41"/><path d="M79.69 1.97 L85.4 -7.55 L90.23 -3.82 L91.63 6.37 L86.64 11.64 Z" opacity="0.4"/><path d="M128.11 11.01 L128.02 2.2 L134.17 -3.55 L142.29 -4.08 L142.55 -3.81 L143.37 3.26 L140.91 10.21 L139.03 12 Z" opacity="0.11"/><path d="M44.62 21.97 L45.68 16.85 L49.97 13.79 L65.03 23.93 L63.73 27.17 Z" opacity="0.42"/><path d="M50.35 12.99 L53.85 8.12 L55 7.63 L67.75 18.89 L68.15 21.44 L66.14 23.62 Z" opacity="0.25"/><path d="M87.14 15.28 L87.18 14.6 L87.41 13.86 L92.71 8.26 L104.51 9.13 L100.53 23.18 L93.65 22.66 Z" opacity="0.33"/><path d="M113.65 24.79 L117.31 14.22 L125.04 14.11 L125.8 23.76 L120.63 28.82 Z" opacity="0.42"/><path d="M142.61 24.97 L140.5 13.83 L142.24 12.17 L153.89 16.63 L154.57 22.36 Z" opacity="0.49"/><path d="M156.66 22.69 L155.92 16.43 L159.22 9.48 L165.82 4.77 L173.96 16.86 L159.99 25.12 L159.59 25.06 Z" opacity="0.14"/><path d="M88.33 36.68 L94.4 24.95 L101.02 25.45 L103.8 27.9 L103.66 37.89 L98.92 40.64 Z" opacity="0.37"/><path d="M122.67 34.34 L122.23 30.39 L127.28 25.44 L138.48 29.95 L138.42 33.28 L136.33 36.96 L132.16 38.2 Z" opacity="0.16"/><path d="M157.37 44.64 L154.66 37.77 L159.52 27.54 L159.89 27.6 L169.27 38.11 Z" opacity="0.13"/><path d="M45.92 46.48 L49.63 39.04 L55.36 38.74 L60.88 46.8 L49.58 52.18 Z" opacity="0.33"/><path d="M57.44 38.03 L65.11 31.3 L73.11 40.25 L65.67 47.24 L63 46.16 Z" opacity="0.28"/><path d="M84.66 53.42 L82.44 41.45 L84.74 39.46 L87.08 38.73 L97.62 42.67 L96.74 51.54 L96.59 51.71 Z" opacity="0.24"/><path d="M115.51 43.06 L121.38 35.76 L131.29 39.79 L124.64 51.77 L122.26 51.79 Z" opacity="0.33"/><path d="M31.97 63.8 L34.32 56.78 L41.64 48.2 L44.37 48.06 L48.25 54.1 L49.54 62.77 L47.66 64.18 Z" opacity="0.1"/><path d="M51.75 62.54 L50.49 54.16 L62.07 48.65 L64.78 49.74 L65.87 55.43 L60.4 62.49 L56.25 63.45 Z" opacity="0.2"/><path d="M62.13 63.46 L67.82 56.13 L80.58 59.59 L81.17 64.17 L74.07 71.82 Z" opacity="0.48"/><path d="M83.44 63.68 L82.9 59.48 L84.63 56.01 L96.1 54.36 L97.03 65.94 L88.18 66.17 Z" opacity="0.28"/><path d="M116.53 61.65 L122.85 53.93 L125.1 53.91 L134.55 59.55 L134.52 60.89 L131.69 65.14 L119.46 65.41 Z" opacity="0.42"/><path d="M155.22 67.47 L146.51 53.84 L156.24 50.23 L162.92 59.07 L162.48 66.69 L159.88 69.79 Z" opacity="0.19"/><path d="M33.07 77.91 L31.02 65.5 L31.26 65.38 L47.22 65.77 L44.93 79.28 Z" opacity="0.12"/><path d="M75.48 73.46 L75.52 73.12 L82.16 65.96 L86.99 68.49 L88.32 80.2 L82.72 81.74 Z" opacity="0.11"/><path d="M90.22 80.49 L88.81 68.14 L98.32 67.89 L100.22 69.19 L92.17 81.13 Z" opacity="0.45"/><path d="M131.96 73.59 L133.28 66.88 L136.25 62.41 L142.44 68.57 L141.95 79.64 L137.98 82.89 Z" opacity="0.44"/><path d="M32.13 89.2 L31.22 82.27 L33.24 79.45 L45.05 80.82 L47.05 84.41 L47.49 86.36 L42.68 89.86 L32.22 89.3 Z" opacity="0.19"/><path d="M92.74 82.04 L101.09 69.65 L103.12 70.21 L106.98 79.32 L103.77 85.27 L100.32 87.31 L96.6 85.58 Z" opacity="0.26"/><path d="M138.6 85.13 L138.77 84.47 L142.88 81.11 L156.51 78.24 L151.81 92.96 L146.72 92.98 Z" opacity="0.16"/><path d="M61.75 93.48 L65.29 91.49 L75.64 94.81 L75.12 100.19 L68.51 108.64 L65.62 108.78 Z" opacity="0.16"/><path d="M85.61 95.6 L95.96 87.27 L99.61 88.97 L98.79 99.45 L93.68 103.04 L91.82 101.61 Z" opacity="0.46"/><path d="M114.15 102.48 L115.48 93.3 L122.36 88.98 L128.83 91.85 L128.25 103.42 L127.12 104.25 Z" opacity="0.32"/><path d="M144.67 101.01 L147.31 94.29 L152.19 94.27 L157.06 97.72 L152.92 105.33 Z" opacity="0.19"/><path d="M49.02 112.8 L48.62 106.98 L57.11 94.04 L60.29 94.08 L64.2 109.54 L57.42 115.8 Z" opacity="0.46"/><path d="M69.81 109.94 L76.29 101.66 L78.82 105.02 L82.35 114.3 L81.18 115.29 L80.14 115.75 Z" opacity="0.4"/><path d="M93.33 111.17 L94.83 104.87 L99.65 101.49 L109.83 104.9 L107.78 116.62 L101.2 119.16 Z" opacity="0.18"/><path d="M126.26 115.82 L128.38 106.27 L129.55 105.41 L137.02 107.42 L143.36 116.34 L135.21 122.31 L130.58 122.32 Z" opacity="0.12"/><path d="M44.21 131.01 L44.73 116.94 L48.46 114.85 L56.85 117.84 L61.45 128.97 L50.62 133.72 Z" opacity="0.33"/><path d="M76.82 125.41 L80.87 117.64 L81.94 117.16 L92.35 132.18 L91.8 132.87 L80.93 129.37 Z" opacity="0.34"/><path d="M150.85 124.16 L149.23 118.05 L153.86 115.1 L160.4 115.7 L160.8 116.03 L163.57 125.65 L160.14 130.1 L157.09 130.07 Z" opacity="0.34"/><path d="M40.13 139.93 L38.93 135.14 L43.56 132.97 L49.57 135.5 L48.71 142.54 L46.73 143.22 Z" opacity="0.24"/><path d="M68.42 140.46 L65.42 131.23 L75.35 127.17 L79.17 130.84 L76.86 141.27 L71.48 142.91 Z" opacity="0.21"/><path d="M146.74 144.47 L157.2 132.12 L160.3 132.15 L164.27 138.33 L161.1 143.79 Z" opacity="0.33"/><path d="M20.73 153.58 L19.68 146.69 L23.65 138.75 L34.96 150.89 L35.95 153.8 L33.75 156.69 L27.16 156.93 Z" opacity="0.33"/><path d="M39.11 153.58 L47.41 144.87 L49.52 144.14 L54.64 149.31 L54.32 151.33 L51.31 156.57 Z" opacity="0.34"/><path d="M56.57 151.13 L56.87 149.24 L67.04 142.79 L70.13 145.26 L70.95 151.44 L66.85 156.02 Z" opacity="0.11"/><path d="M73.48 151.73 L72.62 145.28 L78.28 143.56 L89.06 143.93 L88.75 155.55 L88.06 156.52 L83.78 159.17 Z" opacity="0.2"/><path d="M90.36 155.43 L90.68 143.47 L91.65 142.36 L100.79 145.56 L103.39 155.16 Z" opacity="0.14"/><path d="M118.07 151.93 L120.13 145.12 L124.72 142.87 L128.78 144.06 L130.11 158.94 L126.19 161.01 L121.79 160.02 Z" opacity="0.41"/><path d="M65.46 165.63 L68.05 157.91 L72.32 153.15 L82.58 160.57 L81.7 163.33 L68.34 168.13 Z" opacity="0.25"/><path d="M85.88 172.61 L83.52 163.73 L84.44 160.84 L88.9 158.08 L98.62 168.93 Z" opacity="0.29"/><path d="M99.64 168.69 L89.84 157.74 L90.57 156.73 L103.88 156.45 L104.36 156.71 L104.72 166.21 L100.67 169.02 Z" opacity="0.38"/><path d="M106.03 166.08 L105.68 156.77 L116.27 152.91 L120.33 161.75 L114.61 168.91 Z" opacity="0.41"/><path d="M130.52 171.58 L127.42 163.33 L131.79 161.02 L137.11 160.96 L143.64 170.49 L143.06 171.84 Z" opacity="0.1"/></g><rect width="168" height="167.6" fill="#000" filter="url(#dgrain)" opacity="0.28"/><g filter="url(#dwsp)" fill="none" stroke="#e6dada" stroke-width="2.6" opacity="0.45"><path d="M89.88 23.1 L103.69 18.58 L118.25 24.35 L121.27 40.67 L117.75 55.74 L121.77 72.06 L112.48 78.84 L103.69 65.78 L96.66 51.97 L88.63 44.44 Z"/><path d="M58.5 45.69 L73.56 42.68 L86.62 48.2 L86.12 62.01 L73.56 66.28 L59.75 60.76 Z"/><path d="M58.5 72.06 L71.05 69.55 L81.09 73.31 L79.84 83.35 L68.54 84.61 L59.75 80.84 Z"/><path d="M102.44 93.4 L118.75 89.88 L135.07 95.91 L137.84 110.97 L133.82 126.54 L118.75 131.06 L106.7 125.53 L101.18 108.46 Z"/><path d="M58.5 128.55 L76.07 124.78 L94.9 131.06 L98.17 146.12 L87.37 154.16 L69.8 154.16 L59.75 144.87 Z"/><path d="M106.2 138.59 L123.78 135.07 L140.1 141.1 L141.85 157.42 L130.05 166.21 L113.73 164.7 L106.2 153.15 Z"/><path d="M148.88 112.23 L161.44 109.72 L167.96 115.99 L167.96 132.31 L158.93 134.82 L150.14 128.55 Z"/><path d="M145.12 67.03 L158.93 65.78 L163.95 73.31 L158.93 80.84 L147.63 79.59 Z"/><path d="M130.05 19.33 L143.86 18.08 L148.88 25.61 L143.86 33.14 L132.56 31.89 Z"/><path d="M72.31 3.01 L86.12 1.76 L92.39 9.29 L86.12 16.82 L74.82 15.57 Z"/><path d="M93.65 158.67 L106.2 157.42 L108.71 167.71 L93.65 167.71 Z"/><path d="M138.84 43.18 L148.88 41.93 L152.65 51.97 L145.12 56.99 L138.84 51.97 Z"/></g><g filter="url(#drough)" fill="#000"><path d="M89.88 23.1 L103.69 18.58 L118.25 24.35 L121.27 40.67 L117.75 55.74 L121.77 72.06 L112.48 78.84 L103.69 65.78 L96.66 51.97 L88.63 44.44 Z"/><path d="M58.5 45.69 L73.56 42.68 L86.62 48.2 L86.12 62.01 L73.56 66.28 L59.75 60.76 Z"/><path d="M58.5 72.06 L71.05 69.55 L81.09 73.31 L79.84 83.35 L68.54 84.61 L59.75 80.84 Z"/><path d="M102.44 93.4 L118.75 89.88 L135.07 95.91 L137.84 110.97 L133.82 126.54 L118.75 131.06 L106.7 125.53 L101.18 108.46 Z"/><path d="M58.5 128.55 L76.07 124.78 L94.9 131.06 L98.17 146.12 L87.37 154.16 L69.8 154.16 L59.75 144.87 Z"/><path d="M106.2 138.59 L123.78 135.07 L140.1 141.1 L141.85 157.42 L130.05 166.21 L113.73 164.7 L106.2 153.15 Z"/><path d="M148.88 112.23 L161.44 109.72 L167.96 115.99 L167.96 132.31 L158.93 134.82 L150.14 128.55 Z"/><path d="M145.12 67.03 L158.93 65.78 L163.95 73.31 L158.93 80.84 L147.63 79.59 Z"/><path d="M130.05 19.33 L143.86 18.08 L148.88 25.61 L143.86 33.14 L132.56 31.89 Z"/><path d="M72.31 3.01 L86.12 1.76 L92.39 9.29 L86.12 16.82 L74.82 15.57 Z"/><path d="M93.65 158.67 L106.2 157.42 L108.71 167.71 L93.65 167.71 Z"/><path d="M138.84 43.18 L148.88 41.93 L152.65 51.97 L145.12 56.99 L138.84 51.97 Z"/></g><g filter="url(#drough2)"><path d="M-10 -10 L59.51 0 L50.72 10.54 L40.68 23.1 L43.19 38.16 L41.43 48.2 L36.91 63.27 L34.4 73.31 L28.13 84.61 L25.62 94.65 L34.4 102.18 L53.23 105.95 L55.74 114.74 L44.45 119.76 L36.91 128.55 L30.64 134.82 L26.87 142.36 L18.84 148.63 L20.59 158.67 L24.36 167.71 L-10 177.6 Z" fill="#000"/></g><path d="M83.29 60.76 C83.15 61.06 82.06 60.88 81.77 61.32 C81.48 61.77 81.89 63.17 81.57 63.44 C81.24 63.71 80.4 63.23 79.82 62.97 C79.24 62.7 78.04 62.27 78.1 61.85 C78.16 61.42 79.86 60.95 80.16 60.42 C80.46 59.89 79.67 58.88 79.88 58.65 C80.08 58.42 80.94 58.91 81.4 59.05 C81.85 59.19 82.29 59.2 82.61 59.49 C82.93 59.77 83.43 60.45 83.29 60.76 Z" fill="#f0ecec" opacity="0.75" filter="url(#dwsp2)"/><path d="M105.84 60.76 C105.83 61.1 105.16 61.32 104.88 61.76 C104.6 62.19 104.57 63.18 104.15 63.39 C103.74 63.59 102.63 63.38 102.4 62.99 C102.18 62.61 102.94 61.57 102.82 61.08 C102.69 60.58 101.66 60.38 101.63 60.01 C101.59 59.64 102.2 58.98 102.59 58.85 C102.98 58.71 103.57 59.06 103.96 59.21 C104.36 59.35 104.63 59.45 104.95 59.7 C105.26 59.96 105.85 60.42 105.84 60.76 Z" fill="#f0ecec" opacity="0.75" filter="url(#dwsp2)"/><path d="M123.01 65.78 C123.08 66.18 122.09 66.86 121.65 67.15 C121.2 67.45 120.78 67.47 120.33 67.57 C119.87 67.66 119.09 67.96 118.89 67.72 C118.69 67.48 119.42 66.61 119.11 66.11 C118.79 65.6 117.03 65.06 116.99 64.68 C116.96 64.31 118.35 64.02 118.91 63.87 C119.47 63.72 119.97 63.65 120.36 63.8 C120.74 63.95 120.78 64.43 121.22 64.76 C121.66 65.09 122.94 65.38 123.01 65.78 Z" fill="#f0ecec" opacity="0.75" filter="url(#dwsp2)"/><path d="M79.56 80.84 C79.42 81.17 79.46 81.21 79.35 81.48 C79.23 81.76 79.19 82.29 78.88 82.5 C78.56 82.72 77.78 82.95 77.47 82.77 C77.16 82.59 77.04 81.83 76.99 81.42 C76.94 81.02 77.1 80.78 77.17 80.33 C77.23 79.88 77.08 78.86 77.36 78.72 C77.63 78.59 78.35 79.39 78.82 79.53 C79.28 79.66 80.03 79.3 80.16 79.52 C80.28 79.74 79.69 80.52 79.56 80.84 Z" fill="#f0ecec" opacity="0.75" filter="url(#dwsp2)"/><path d="M51.98 118.5 C51.74 118.92 50.75 118.59 50.47 119.14 C50.19 119.69 50.65 121.49 50.29 121.79 C49.93 122.08 48.91 121.28 48.32 120.91 C47.73 120.55 46.7 120.05 46.75 119.58 C46.8 119.12 48.26 118.49 48.64 118.11 C49.02 117.74 48.77 117.81 49.05 117.35 C49.32 116.89 49.79 115.45 50.27 115.33 C50.75 115.22 51.63 116.13 51.91 116.65 C52.2 117.18 52.22 118.09 51.98 118.5 Z" fill="#f0ecec" opacity="0.75" filter="url(#dwsp2)"/><path d="M164.92 43.18 C164.82 43.47 164.79 43.63 164.65 43.77 C164.51 43.92 164.32 43.99 164.1 44.07 C163.89 44.14 163.56 44.3 163.35 44.22 C163.13 44.14 162.87 43.83 162.8 43.6 C162.74 43.37 162.82 43 162.95 42.82 C163.08 42.64 163.36 42.69 163.57 42.52 C163.77 42.36 163.9 41.9 164.19 41.82 C164.47 41.74 165.16 41.84 165.28 42.06 C165.4 42.29 165.03 42.9 164.92 43.18 Z" fill="#f0ecec" opacity="0.75" filter="url(#dwsp2)"/><path d="M48.6 51.97 C48.54 52.26 48.26 52.57 48.05 52.68 C47.84 52.8 47.6 52.57 47.32 52.67 C47.05 52.78 46.71 53.34 46.42 53.32 C46.14 53.3 45.9 52.92 45.62 52.55 C45.33 52.17 44.54 51.33 44.71 51.06 C44.87 50.8 46.17 50.95 46.61 50.96 C47.06 50.96 47.06 51.08 47.36 51.08 C47.66 51.08 48.21 50.8 48.42 50.95 C48.62 51.1 48.66 51.68 48.6 51.97 Z" fill="#f0ecec" opacity="0.75" filter="url(#dwsp2)"/><path d="M101.46 80.84 C101.44 81.53 101.48 82.67 101.04 82.84 C100.61 83.01 99.42 81.89 98.85 81.87 C98.28 81.84 97.79 82.8 97.61 82.68 C97.42 82.57 98.04 81.67 97.73 81.18 C97.43 80.7 95.9 80.33 95.77 79.79 C95.65 79.25 96.48 77.94 97 77.95 C97.51 77.95 98.15 79.7 98.85 79.84 C99.54 79.97 100.73 78.58 101.17 78.74 C101.61 78.91 101.48 80.16 101.46 80.84 Z" fill="#f0ecec" opacity="0.75" filter="url(#dwsp2)"/><path d="M113.57 18.08 C113.45 18.4 112.38 18.53 112.03 18.75 C111.67 18.98 111.81 19.16 111.46 19.42 C111.11 19.68 110.38 20.39 109.93 20.32 C109.48 20.24 108.7 19.42 108.74 18.98 C108.78 18.54 109.85 18.02 110.16 17.69 C110.47 17.36 110.36 17.16 110.59 16.97 C110.81 16.79 111.14 16.59 111.49 16.56 C111.84 16.54 112.36 16.58 112.71 16.83 C113.06 17.08 113.68 17.76 113.57 18.08 Z" fill="#f0ecec" opacity="0.75" filter="url(#dwsp2)"/><path d="M56.92 30.63 C56.83 31.26 58.08 31.97 57.98 32.3 C57.88 32.64 56.85 32.62 56.34 32.65 C55.84 32.67 55.16 32.73 54.93 32.45 C54.71 32.18 55.19 31.45 54.97 31 C54.75 30.55 53.64 30.15 53.62 29.77 C53.61 29.39 54.44 28.84 54.88 28.71 C55.32 28.58 55.67 29.03 56.28 28.99 C56.88 28.96 58.41 28.23 58.52 28.51 C58.63 28.78 57.01 30 56.92 30.63 Z" fill="#f0ecec" opacity="0.75" filter="url(#dwsp2)"/><path d="M36.06 93.4 C36.04 93.81 35.16 94.13 34.79 94.57 C34.43 95.02 34.22 96.06 33.86 96.08 C33.51 96.09 33.11 94.97 32.66 94.66 C32.22 94.35 31.39 94.53 31.18 94.2 C30.97 93.87 31.24 93.16 31.4 92.67 C31.57 92.19 31.78 91.62 32.19 91.31 C32.59 91 33.39 90.69 33.85 90.82 C34.31 90.95 34.58 91.66 34.95 92.09 C35.32 92.52 36.09 92.98 36.06 93.4 Z" fill="#f0ecec" opacity="0.75" filter="url(#dwsp2)"/><path d="M160.04 105.95 C160 106.22 159.9 106.3 159.78 106.67 C159.66 107.04 159.54 108.14 159.32 108.17 C159.09 108.2 158.77 107.11 158.41 106.85 C158.05 106.58 157.2 106.78 157.17 106.59 C157.13 106.4 158.02 105.98 158.2 105.69 C158.39 105.4 158.14 105.02 158.3 104.87 C158.45 104.71 158.85 104.72 159.14 104.76 C159.42 104.79 159.84 104.86 159.99 105.06 C160.14 105.26 160.07 105.68 160.04 105.95 Z" fill="#f0ecec" opacity="0.75" filter="url(#dwsp2)"/><path d="M75.52 23.1 C75.55 23.36 74.87 23.83 74.57 23.94 C74.26 24.06 73.92 23.81 73.68 23.79 C73.45 23.77 73.34 23.86 73.15 23.81 C72.96 23.76 72.79 23.72 72.53 23.48 C72.26 23.23 71.57 22.78 71.54 22.36 C71.51 21.94 71.93 21.21 72.33 20.96 C72.73 20.71 73.61 20.63 73.96 20.87 C74.3 21.11 74.14 22.02 74.4 22.4 C74.66 22.77 75.49 22.84 75.52 23.1 Z" fill="#f0ecec" opacity="0.75" filter="url(#dwsp2)"/><path d="M91.97 103.44 C91.9 103.76 92.17 103.99 92.08 104.23 C91.98 104.47 91.71 104.72 91.39 104.87 C91.07 105.02 90.41 105.28 90.17 105.12 C89.93 104.95 89.95 104.2 89.96 103.87 C89.97 103.53 90.12 103.32 90.24 103.11 C90.36 102.91 90.49 102.72 90.67 102.63 C90.84 102.54 90.99 102.63 91.29 102.58 C91.59 102.52 92.35 102.18 92.47 102.32 C92.58 102.47 92.03 103.12 91.97 103.44 Z" fill="#f0ecec" opacity="0.75" filter="url(#dwsp2)"/><path d="M130.61 8.54 C130.69 9.32 130.4 10.6 129.85 11.11 C129.31 11.61 128.1 11.56 127.33 11.58 C126.56 11.6 126.1 11.46 125.23 11.23 C124.37 11 122.7 10.96 122.16 10.22 C121.62 9.48 121.47 7.5 121.99 6.79 C122.51 6.08 124.36 6.36 125.29 5.94 C126.22 5.51 126.87 4.15 127.55 4.23 C128.23 4.3 128.85 5.66 129.36 6.38 C129.87 7.1 130.53 7.75 130.61 8.54 Z" fill="#fff200" opacity="1" filter="url(#dglow)"/><path d="M65 7.53 C64.93 7.94 64.55 8.28 64.28 8.59 C64 8.9 63.7 9.34 63.35 9.41 C63 9.47 62.58 9.17 62.18 8.98 C61.79 8.79 61.12 8.62 60.97 8.28 C60.82 7.93 61.09 7.28 61.28 6.9 C61.47 6.51 61.76 6.21 62.11 5.97 C62.46 5.73 62.95 5.43 63.38 5.45 C63.82 5.48 64.43 5.77 64.7 6.12 C64.97 6.46 65.07 7.12 65 7.53 Z" fill="#fff200" opacity="0.9" filter="url(#dglow)"/><path d="M159.48 35.65 C159.59 36.74 160 38.61 159.38 39.19 C158.76 39.78 156.93 38.97 155.78 39.15 C154.63 39.33 153.14 40.67 152.48 40.29 C151.82 39.91 152.09 37.91 151.81 36.87 C151.53 35.83 150.68 35.03 150.8 34.06 C150.91 33.09 151.6 31.8 152.51 31.06 C153.41 30.32 155.18 29.36 156.22 29.62 C157.26 29.88 158.2 31.64 158.75 32.64 C159.29 33.65 159.38 34.56 159.48 35.65 Z" fill="#fff200" opacity="1" filter="url(#dglow)"/><path d="M67.5 38.16 C67.29 39 66.8 39.32 66.36 40.13 C65.93 40.94 65.66 42.67 64.88 43.02 C64.1 43.37 62.31 42.84 61.69 42.2 C61.07 41.57 61.44 40.13 61.14 39.21 C60.84 38.29 59.74 37.4 59.89 36.66 C60.05 35.92 61.29 35.07 62.07 34.78 C62.85 34.49 63.67 34.84 64.6 34.9 C65.53 34.95 67.15 34.59 67.63 35.13 C68.12 35.67 67.72 37.33 67.5 38.16 Z" fill="#fff200" opacity="0.95" filter="url(#dglow)"/><path d="M78.4 22.34 C78.38 22.59 78.29 22.78 78.16 23.04 C78.03 23.3 77.88 23.78 77.6 23.91 C77.33 24.04 76.84 23.95 76.49 23.8 C76.14 23.65 75.64 23.36 75.5 23.01 C75.36 22.67 75.49 22.11 75.64 21.73 C75.8 21.35 76.08 20.92 76.41 20.75 C76.74 20.58 77.31 20.57 77.62 20.71 C77.92 20.85 78.11 21.3 78.24 21.58 C78.37 21.85 78.41 22.1 78.4 22.34 Z" fill="#fff200" opacity="0.9" filter="url(#dglow)"/><path d="M51.12 59.5 C50.87 60.62 50.94 61.35 50.44 62.22 C49.94 63.09 49.09 64.41 48.12 64.71 C47.15 65.01 45.65 64.55 44.6 64.01 C43.54 63.47 41.97 62.44 41.79 61.47 C41.62 60.5 43.02 59.14 43.55 58.17 C44.09 57.21 44.29 56.09 45 55.7 C45.72 55.3 46.7 55.83 47.85 55.8 C49.01 55.77 51.4 54.91 51.94 55.52 C52.49 56.14 51.37 58.39 51.12 59.5 Z" fill="#fff200" opacity="1" filter="url(#dglow)"/><path d="M50.52 79.59 C50.27 80.66 49.63 81.36 49.01 82.16 C48.39 82.96 47.61 84.3 46.79 84.4 C45.98 84.5 44.81 83.36 44.12 82.75 C43.43 82.15 43.32 81.67 42.65 80.79 C41.99 79.91 40 78.42 40.12 77.47 C40.23 76.51 42.2 75.64 43.34 75.07 C44.47 74.5 45.72 73.96 46.92 74.07 C48.12 74.18 49.95 74.81 50.55 75.73 C51.15 76.65 50.78 78.52 50.52 79.59 Z" fill="#fff200" opacity="1" filter="url(#dglow)"/><path d="M35.94 90.89 C35.84 91.82 35.69 92.81 35.17 93.43 C34.64 94.05 33.67 94.36 32.79 94.59 C31.91 94.82 30.58 95.19 29.88 94.79 C29.18 94.39 28.64 93 28.56 92.19 C28.49 91.37 29.23 90.77 29.46 89.91 C29.68 89.05 29.4 87.32 29.92 87.05 C30.44 86.78 31.61 88.16 32.6 88.28 C33.58 88.41 35.26 87.37 35.81 87.8 C36.37 88.23 36.05 89.95 35.94 90.89 Z" fill="#fff200" opacity="0.85" filter="url(#dglow)"/><path d="M94.09 87.12 C94.27 87.91 93.83 89.19 93.26 89.96 C92.7 90.73 91.6 91.61 90.7 91.73 C89.79 91.86 88.71 91.19 87.81 90.7 C86.92 90.21 85.58 89.58 85.35 88.77 C85.11 87.96 86.03 86.8 86.4 85.85 C86.77 84.91 86.88 83.49 87.57 83.11 C88.25 82.73 89.74 83.21 90.51 83.56 C91.28 83.91 91.57 84.61 92.17 85.2 C92.77 85.79 93.91 86.33 94.09 87.12 Z" fill="#fff200" opacity="1" filter="url(#dglow)"/><path d="M120.97 84.61 C120.86 85.45 120.6 86.09 120.15 86.84 C119.7 87.58 119.11 88.76 118.28 89.06 C117.46 89.35 115.77 89.2 115.18 88.62 C114.6 88.04 114.96 86.47 114.79 85.6 C114.62 84.72 114.02 84.12 114.15 83.39 C114.27 82.66 114.85 81.82 115.55 81.23 C116.25 80.64 117.45 79.75 118.34 79.85 C119.23 79.94 120.42 80.99 120.86 81.79 C121.3 82.58 121.09 83.77 120.97 84.61 Z" fill="#fff200" opacity="1" filter="url(#dglow)"/><path d="M153.86 82.1 C154.02 82.87 154.96 84.27 154.64 84.82 C154.33 85.38 152.72 85.54 151.98 85.44 C151.24 85.33 150.71 84.59 150.18 84.19 C149.66 83.79 149.17 83.59 148.81 83.04 C148.45 82.49 147.87 81.5 148.03 80.87 C148.18 80.24 149.11 79.53 149.75 79.26 C150.4 78.99 151.24 79.1 151.9 79.25 C152.55 79.41 153.34 79.71 153.67 80.19 C154 80.66 153.7 81.33 153.86 82.1 Z" fill="#fff200" opacity="0.6" filter="url(#dglow)"/><path d="M65.46 118.5 C65.37 119.43 65.73 120.45 65.31 121.06 C64.88 121.66 63.82 121.86 62.91 122.14 C61.99 122.42 60.56 123.1 59.83 122.72 C59.1 122.34 58.6 120.74 58.54 119.86 C58.47 118.98 59.04 118.11 59.43 117.47 C59.81 116.83 60.27 116.33 60.83 116.02 C61.39 115.7 61.94 115.69 62.78 115.6 C63.61 115.52 65.39 115.02 65.84 115.5 C66.29 115.99 65.55 117.58 65.46 118.5 Z" fill="#fff200" opacity="0.7" filter="url(#dglow)"/><path d="M30.56 147.38 C30.71 148.33 29.34 149.96 28.46 150.61 C27.58 151.26 26.37 151.05 25.29 151.27 C24.21 151.48 22.74 152.31 22 151.89 C21.25 151.47 21.22 149.82 20.81 148.76 C20.4 147.7 19.45 146.69 19.55 145.54 C19.65 144.38 20.39 142.44 21.4 141.82 C22.4 141.2 24.56 141.29 25.59 141.8 C26.62 142.31 26.74 143.96 27.57 144.89 C28.4 145.82 30.41 146.42 30.56 147.38 Z" fill="#fff200" opacity="1" filter="url(#dglow)"/><path d="M52.54 149.89 C52.46 150.94 50.4 151.79 49.49 152.86 C48.58 153.93 48.02 156.18 47.08 156.3 C46.13 156.41 45.01 154.26 43.83 153.55 C42.65 152.84 40.46 152.95 40.02 152.05 C39.57 151.14 40.55 149.2 41.14 148.14 C41.72 147.08 42.55 146.37 43.52 145.69 C44.5 145.01 45.9 143.92 46.97 144.06 C48.04 144.2 49.01 145.57 49.94 146.54 C50.86 147.51 52.61 148.83 52.54 149.89 Z" fill="#fff200" opacity="1" filter="url(#dglow)"/><path d="M137.57 60.76 C137.65 61.37 137.82 62.35 137.47 62.77 C137.13 63.19 136.16 63.21 135.52 63.29 C134.88 63.38 134.15 63.53 133.62 63.27 C133.09 63.02 132.45 62.31 132.32 61.76 C132.2 61.21 132.6 60.44 132.87 59.96 C133.15 59.47 133.54 59.05 133.97 58.85 C134.4 58.64 134.92 58.67 135.44 58.71 C135.95 58.75 136.68 58.77 137.04 59.11 C137.4 59.45 137.5 60.15 137.57 60.76 Z" fill="#fff200" opacity="0.55" filter="url(#dglow)"/><path d="M136.29 46.95 C136.2 47.48 135.8 47.87 135.47 48.33 C135.13 48.79 134.73 49.67 134.3 49.7 C133.87 49.74 133.43 48.85 132.89 48.56 C132.35 48.27 131.28 48.35 131.07 47.95 C130.86 47.55 131.31 46.57 131.62 46.15 C131.93 45.73 132.48 45.76 132.93 45.42 C133.39 45.07 133.81 44.13 134.32 44.08 C134.83 44.03 135.67 44.65 135.99 45.12 C136.32 45.6 136.38 46.42 136.29 46.95 Z" fill="#fff200" opacity="0.5" filter="url(#dglow)"/><path d="M102.89 123.52 C102.89 124.05 103.27 124.77 103.04 125.09 C102.81 125.41 102.03 125.35 101.52 125.44 C101.01 125.53 100.33 125.81 99.98 125.6 C99.63 125.39 99.48 124.61 99.41 124.17 C99.35 123.73 99.51 123.44 99.59 122.94 C99.66 122.45 99.53 121.47 99.85 121.23 C100.18 120.98 101.01 121.33 101.55 121.45 C102.08 121.57 102.84 121.6 103.07 121.94 C103.29 122.29 102.9 123 102.89 123.52 Z" fill="#fff200" opacity="0.5" filter="url(#dglow)"/><path d="M150.69 148.63 C150.61 149.04 150.32 149.33 150.07 149.63 C149.82 149.92 149.56 150.26 149.19 150.39 C148.82 150.52 148.16 150.6 147.86 150.4 C147.56 150.2 147.5 149.58 147.38 149.18 C147.25 148.78 147.03 148.34 147.13 147.99 C147.23 147.64 147.62 147.36 147.99 147.08 C148.35 146.79 148.87 146.25 149.3 146.28 C149.73 146.3 150.35 146.81 150.58 147.21 C150.82 147.6 150.78 148.23 150.69 148.63 Z" fill="#fff200" opacity="0.7" filter="url(#dglow)"/><path d="M165.93 18.08 C165.85 18.41 165.2 18.63 164.92 18.89 C164.63 19.15 164.57 19.47 164.23 19.66 C163.88 19.85 163.16 20.17 162.83 20.01 C162.51 19.85 162.37 19.11 162.28 18.69 C162.18 18.26 162.16 17.86 162.27 17.47 C162.38 17.08 162.62 16.51 162.95 16.34 C163.27 16.18 163.82 16.39 164.23 16.48 C164.63 16.57 165.09 16.62 165.37 16.88 C165.65 17.15 166 17.74 165.93 18.08 Z" fill="#fff200" opacity="0.8" filter="url(#dglow)"/><path d="M88.52 45.69 C88.51 46.06 88.81 46.55 88.66 46.77 C88.5 47 87.93 47.05 87.61 47.05 C87.29 47.06 87.07 46.92 86.73 46.8 C86.39 46.68 85.72 46.63 85.56 46.35 C85.41 46.07 85.64 45.49 85.79 45.12 C85.94 44.75 86.17 44.23 86.46 44.12 C86.76 44.02 87.21 44.39 87.59 44.47 C87.96 44.54 88.55 44.37 88.71 44.57 C88.86 44.78 88.53 45.33 88.52 45.69 Z" fill="#fff200" opacity="0.8" filter="url(#dglow)"/><path d="M53.51 94.65 C53.43 95.03 53.49 95.35 53.31 95.57 C53.14 95.79 52.81 95.85 52.46 95.99 C52.11 96.13 51.5 96.54 51.21 96.41 C50.92 96.28 50.89 95.61 50.72 95.2 C50.56 94.78 50.09 94.22 50.22 93.92 C50.35 93.62 51.11 93.57 51.49 93.39 C51.88 93.21 52.16 92.84 52.54 92.83 C52.93 92.82 53.66 93.01 53.82 93.31 C53.98 93.62 53.6 94.28 53.51 94.65 Z" fill="#fff200" opacity="0.8" filter="url(#dglow)"/><path d="M161.15 8.03 C161.2 8.4 160.71 9 160.39 9.26 C160.07 9.53 159.56 9.65 159.21 9.63 C158.85 9.62 158.6 9.34 158.26 9.18 C157.93 9.02 157.3 8.93 157.2 8.66 C157.1 8.39 157.52 7.92 157.67 7.58 C157.82 7.24 157.85 6.77 158.1 6.61 C158.35 6.44 158.85 6.51 159.18 6.59 C159.51 6.67 159.74 6.83 160.07 7.07 C160.4 7.31 161.1 7.67 161.15 8.03 Z" fill="#fff200" opacity="0.8" filter="url(#dglow)"/><path d="M150.33 124.78 C150.34 125.11 150.29 125.54 150.1 125.8 C149.9 126.06 149.51 126.27 149.16 126.35 C148.81 126.43 148.33 126.46 148.01 126.3 C147.69 126.13 147.5 125.78 147.24 125.38 C146.98 124.98 146.32 124.28 146.43 123.89 C146.54 123.5 147.42 123.21 147.88 123.05 C148.35 122.89 148.85 122.8 149.21 122.93 C149.57 123.05 149.85 123.5 150.04 123.81 C150.22 124.12 150.32 124.45 150.33 124.78 Z" fill="#fff200" opacity="0.8" filter="url(#dglow)"/><g fill="none" stroke="#f4e800" stroke-linecap="round" filter="url(#dglow)"><path d="M123.78 122.27 C125.66 121.85 131.31 119.55 135.07 119.76 C138.84 119.97 143.23 122.06 146.37 123.52 C149.51 124.99 152.65 127.71 153.9 128.55" stroke-width="2.2" opacity="0.85"/><path d="M42.18 54.48 C43.23 55.95 45.95 62.22 48.46 63.27 C50.97 64.32 55.78 61.18 57.24 60.76" stroke-width="2" opacity="0.9"/><path d="M39.67 142.36 C40.71 143.4 43.85 145.91 45.95 148.63 C48.04 151.35 50.13 156.58 52.22 158.67 C54.31 160.77 57.45 160.77 58.5 161.19" stroke-width="3" opacity="0.95"/><path d="M45.95 148.63 C47.41 148.21 52.22 145.49 54.73 146.12 C57.24 146.75 59.96 151.35 61.01 152.4" stroke-width="2" opacity="0.9"/><path d="M84.86 83.35 C85.7 83.98 88 85.86 89.88 87.12 C91.77 88.38 95.11 90.26 96.16 90.89" stroke-width="1.6" opacity="0.9"/><path d="M135.07 46.95 C135.49 48.41 137.46 52.93 137.58 55.74 C137.71 58.54 136.12 62.43 135.83 63.77" stroke-width="2.2" opacity="0.6"/><path d="M146.37 128.55 C146.79 130.22 148.67 135.24 148.88 138.59 C149.09 141.94 147.84 146.96 147.63 148.63" stroke-width="1.8" opacity="0.7"/><path d="M97.41 122.27 C98.88 122.69 103.06 124.57 106.2 124.78 C109.34 124.99 114.57 123.73 116.24 123.52" stroke-width="1.6" opacity="0.55"/></g><rect x="3.3" y="163.3" width="17.6" height="0.8" fill="#e4e4e4"/><text x="12.1" y="162.4" font-size="2.6" text-anchor="middle" fill="#cfcfcf">20 µm</text></g><g transform="translate(374.2 666)" clip-path="url(#dclip)"><rect width="168" height="167.6" fill="#2a0808"/><g filter="url(#drough2)" stroke-linejoin="round"><path d="M-24.43 -24.32 L-4.41 -24.32 L11.11 -3.54 L-7.81 8.51 L-24.43 7.21 Z" fill="#921b1b"/><path d="M-2.8 -24.01 L27.6 -24.01 L20.06 -4.28 L14.4 -3.01 L12.13 -4.03 Z" fill="#741414"/><path d="M28.84 -24.58 L39.04 -24.58 L43.79 -6.3 L35.15 2.03 L20.93 -3.9 Z" fill="#7e1717"/><path d="M39.9 -24.41 L62.43 -24.41 L55.42 -5.4 L44.51 -6.69 Z" fill="#6a1212"/><path d="M63.27 -24.68 L76.8 -24.68 L76.61 -2.57 L57.8 -3.09 L55.99 -4.94 Z" fill="#7e1717"/><path d="M78.08 -23.1 L91.06 -23.1 L96.12 -9.48 L87.45 -0.98 L78.47 -2.7 L77.91 -3.4 Z" fill="#921b1b"/><path d="M93.95 -23.77 L121.14 -23.77 L118.15 -7.06 L115.21 -5.26 L99.12 -9.85 Z" fill="#b42525"/><path d="M123.69 -23.66 L148.81 -23.66 L142.66 -4.14 L132.31 0.34 L120.66 -6.73 Z" fill="#921b1b"/><path d="M150.82 -23.65 L154.38 -23.65 L164.01 -8.9 L155.49 3 L144.67 -4.13 Z" fill="#921b1b"/><path d="M156.97 -23.87 L191.01 -23.87 L191.01 -12.23 L174.83 -7.21 L166.41 -9.4 Z" fill="#921b1b"/><path d="M-7.34 9.07 L11.79 -3.11 L14.19 -2.05 L13.66 15.7 L-1.69 13.76 Z" fill="#4a0c0c"/><path d="M14.61 15.25 L15.11 -1.45 L20.71 -2.7 L34.13 2.9 L36.42 16.22 L14.74 15.51 Z" fill="#6a1212"/><path d="M38.66 16.14 L36.4 2.94 L44.48 -4.85 L55 -3.6 L56.69 -1.88 L56.58 15.86 L55.19 17.34 L40.65 19.22 Z" fill="#a01f1f"/><path d="M58.3 15.83 L58.4 -2.29 L76.24 -1.8 L76.84 -1.05 L72.57 13.61 Z" fill="#921b1b"/><path d="M74 13.75 L78.08 -0.29 L87.22 1.46 L94.04 12.52 L78.98 19.08 Z" fill="#a01f1f"/><path d="M88.66 0.75 L98.03 -8.44 L115.04 -3.59 L106.43 14.82 L104.09 16.43 L95.89 12.48 Z" fill="#921b1b"/><path d="M107.98 14.64 L116.39 -3.31 L119.42 -5.17 L131.26 2.03 L132.73 9.1 L120.93 18.82 Z" fill="#4a0c0c"/><path d="M134.76 9.29 L133.31 2.28 L143.74 -2.24 L154.65 4.95 L156.7 14.54 L144.56 21.73 Z" fill="#4a0c0c"/><path d="M158.55 14.36 L156.49 4.73 L165.12 -7.33 L173.82 -5.06 L170.22 13.43 L165.87 16.45 Z" fill="#881919"/><path d="M192.48 -11.09 L192.48 12.35 L171.35 13.52 L175.09 -5.7 Z" fill="#7e1717"/><path d="M-23.38 32.96 L-23.38 9.63 L-8.16 10.82 L-3.04 15.07 L0.82 34.53 L-11.2 36.71 Z" fill="#5a0f0f"/><path d="M2.7 35.51 L-1.49 14.39 L13.61 16.3 L13.74 16.57 L10.62 36.2 Z" fill="#a01f1f"/><path d="M12.54 35.8 L15.4 17.76 L36.22 18.44 L38.14 21.43 L33.94 34.73 L28.81 36.83 L13.43 36.46 Z" fill="#5a0f0f"/><path d="M35.8 35.24 L40.31 20.97 L55.43 19.02 L63.6 36.2 L40.32 38.93 Z" fill="#7e1717"/><path d="M57.54 19.33 L58.87 17.92 L72.24 15.85 L77.12 21.07 L77.88 34.53 L66.95 36.61 L65.05 35.13 Z" fill="#b42525"/><path d="M80.32 35.24 L79.51 20.88 L95.25 14.02 L103.32 17.91 L100.82 35.13 L90.71 40.9 Z" fill="#741414"/><path d="M102.13 35.4 L104.71 17.65 L107.08 16.01 L120.54 20.36 L130.85 36.03 L116.64 42.05 Z" fill="#7e1717"/><path d="M122.3 20.69 L133.85 11.17 L143.54 23.46 L139.79 34.16 L136.69 35.55 L132.01 35.43 Z" fill="#a01f1f"/><path d="M140.83 34.79 L144.88 23.21 L157.86 15.52 L165.65 17.73 L170.45 30.38 L154.27 43.14 Z" fill="#b42525"/><path d="M192.63 13.17 L192.63 28.31 L180.58 35.69 L171.12 30.27 L166.3 17.59 L170.95 14.38 Z" fill="#4a0c0c"/><path d="M-10.35 39.02 L2.48 36.7 L10.26 37.37 L11.22 38.09 L11.05 45.99 L-2.24 65.61 L-3.9 65.76 Z" fill="#b42525"/><path d="M12.1 46.21 L12.27 38.29 L28.77 38.68 L27.83 62.94 L21.88 68.11 Z" fill="#6a1212"/><path d="M29.19 61.7 L30.06 39.11 L35.19 37.02 L39.4 40.46 L42.54 46.53 L38.3 60.21 Z" fill="#7e1717"/><path d="M45.03 46.18 L41.89 40.11 L63.56 37.57 L65.48 39.06 L61.42 51.01 L58.97 54.18 Z" fill="#5a0f0f"/><path d="M62.63 51.75 L67.13 38.49 L79.39 36.16 L90.32 42.12 L89.36 53.02 L85.93 56.58 Z" fill="#4a0c0c"/><path d="M89.98 53.07 L90.95 42.17 L101.58 36.1 L116.4 42.89 L116.62 54.48 L98.61 60.07 Z" fill="#4a0c0c"/><path d="M118.03 54.39 L117.83 43.72 L131.18 38.07 L135.85 38.19 L135.13 55.04 L124.81 67.62 L124.2 67.39 Z" fill="#921b1b"/><path d="M136.74 54.93 L137.49 37.28 L140.74 35.83 L153.73 43.9 L159.36 56.2 L149.12 60.39 Z" fill="#741414"/><path d="M160.75 56.13 L155.1 43.81 L170.76 31.46 L179.89 36.68 L179.53 53.42 L165.56 59.11 Z" fill="#5a0f0f"/><path d="M192.34 30.71 L192.34 57.47 L190.34 57.44 L181.11 53.05 L181.45 37.37 Z" fill="#741414"/><path d="M-24.6 79.43 L-24.6 35.61 L-11.5 39.64 L-4.99 66.59 L-20.91 78.91 Z" fill="#6a1212"/><path d="M-2.05 66.75 L11.65 46.52 L21.72 69.04 L20.97 70.68 L17.42 72.39 Z" fill="#921b1b"/><path d="M21.96 70.73 L22.67 69.16 L28.53 64.06 L38.17 62.49 L47.64 67.77 L32.77 80.23 Z" fill="#921b1b"/><path d="M39.39 61.91 L43.92 47.31 L58.81 55.85 L58.41 64.98 L52.7 67.77 L48.94 67.24 Z" fill="#6a1212"/><path d="M60.39 64.88 L60.76 56.44 L63.18 53.3 L83.92 57.61 L77.43 69.78 L72.56 72.57 Z" fill="#b42525"/><path d="M78.96 70.78 L86.27 57.09 L89.71 53.52 L98.35 60.54 L104.39 74.44 L96.64 78.74 Z" fill="#4a0c0c"/><path d="M105.4 73.67 L99.98 61.21 L116.16 56.19 L122.18 68.88 L107.4 74.08 Z" fill="#881919"/><path d="M125.19 69.27 L136.1 55.98 L148.58 61.49 L140.82 72.45 L128.33 72.73 Z" fill="#4a0c0c"/><path d="M142.76 72.25 L150.04 61.95 L159.75 57.98 L164.3 60.8 L164.3 62.11 L157.3 79.92 L152.47 80.21 Z" fill="#5a0f0f"/><path d="M181.39 81.46 L166.72 61.64 L166.72 60.35 L179.82 55.01 L189.06 59.41 Z" fill="#5a0f0f"/><path d="M-19.28 79.78 L-3.95 67.92 L-2.34 67.78 L16 73.09 L10.4 89.13 L-1.41 90.51 Z" fill="#b42525"/><path d="M12.73 89.43 L18.15 73.9 L21.39 72.34 L31.68 81.38 L35.06 87.88 L18.41 96.87 Z" fill="#b42525"/><path d="M33.56 81.02 L48.49 68.51 L52.24 69.05 L49.19 84.11 L41.37 90.41 L37.13 87.88 Z" fill="#741414"/><path d="M50.98 83.77 L53.9 69.32 L59.35 66.65 L71.92 74.6 L70.72 88.1 L69.66 88.6 Z" fill="#5a0f0f"/><path d="M72.21 88.94 L73.48 74.66 L78.79 71.61 L95.95 79.33 L91.75 94.42 L79 94.1 Z" fill="#6a1212"/><path d="M93.1 94.25 L97.16 79.67 L104.42 75.65 L106.51 76.07 L110.97 93.2 L96.31 97.14 Z" fill="#5a0f0f"/><path d="M112.52 92.83 L108.02 75.55 L123.6 70.07 L124.23 70.31 L127.28 73.68 L127.93 86.46 L116.79 94.73 Z" fill="#881919"/><path d="M129.76 86.37 L129.14 74.21 L140.71 73.95 L150.29 81.8 L139.62 94.11 Z" fill="#741414"/><path d="M158.33 81.39 L165.71 62.62 L181.3 83.69 L181.54 85.55 L166.74 90.77 Z" fill="#921b1b"/><path d="M192.44 60.87 L192.44 90.15 L182.98 84.7 L182.75 82.95 L190.43 60.84 Z" fill="#b42525"/><path d="M-24.09 119.14 L-24.09 82.47 L-20.58 81.97 L-2.91 92.58 L-3.27 108.8 L-19.01 119.44 Z" fill="#5a0f0f"/><path d="M-1.34 109.24 L-0.96 92.2 L11.3 90.77 L17.38 98.75 L17.94 105.9 L12.11 111.05 Z" fill="#6a1212"/><path d="M19.88 105.78 L19.35 98.94 L36.43 89.72 L40.55 92.17 L45.43 107.9 L44.53 108.75 L33.46 111.82 Z" fill="#4a0c0c"/><path d="M47.06 107.47 L42.14 91.6 L49.81 85.42 L68.92 90.36 L53.06 107.59 Z" fill="#4a0c0c"/><path d="M53.74 108.43 L70.47 90.26 L71.62 89.72 L78.54 94.99 L76.89 114.23 L71.36 121.86 Z" fill="#881919"/><path d="M78.06 113.64 L79.62 95.35 L91.99 95.66 L95.21 98.57 L96.94 110.24 Z" fill="#881919"/><path d="M98.16 110.63 L96.35 98.47 L111.69 94.35 L116.11 96.32 L118.04 105.99 L113.61 112.48 L99.39 112.19 Z" fill="#a01f1f"/><path d="M119.91 105.23 L118.14 96.36 L128.74 88.49 L138.61 96.24 L140.04 101.86 L132.64 107.51 Z" fill="#b42525"/><path d="M142.63 101.64 L141.14 95.82 L152.19 83.07 L157.13 82.78 L165.28 91.86 L161.02 107.56 L156.23 108.73 Z" fill="#4a0c0c"/><path d="M192.43 92.29 L192.43 105.1 L166.85 111.3 L162.33 108.41 L166.86 91.73 L182.1 86.35 Z" fill="#5a0f0f"/><path d="M-18.62 121.41 L-1.85 110.08 L11.8 111.92 L11.98 126.59 L-2.54 131.72 Z" fill="#881919"/><path d="M13.41 125.82 L13.24 112.44 L18.63 107.69 L31.76 113.52 L27.57 124.03 L16.78 127.89 Z" fill="#881919"/><path d="M29.18 124.56 L33.67 113.34 L45.09 110.17 L45.4 123.91 L35.59 133.63 Z" fill="#6a1212"/><path d="M47.11 123.56 L46.82 110.66 L47.69 109.84 L53.46 109.95 L69.51 122.19 L70.14 125.43 L55.78 136.03 Z" fill="#7e1717"/><path d="M72.45 126.05 L71.76 122.46 L77.33 114.77 L97.35 111.17 L98.6 112.75 L97.1 122.22 L76.36 129.32 Z" fill="#b42525"/><path d="M97.9 122.18 L99.37 112.94 L113.48 113.23 L116.79 122.08 L102.4 129.87 Z" fill="#7e1717"/><path d="M117.95 121.69 L114.8 113.27 L118.99 107.14 L132.11 109.49 L131.18 123.99 L124.48 127.04 Z" fill="#6a1212"/><path d="M132.4 124.46 L133.39 108.96 L141.54 102.74 L156.01 110.28 L146.69 128.2 L146.32 128.63 Z" fill="#7e1717"/><path d="M147.39 128.25 L156.7 110.36 L161.79 109.12 L166.31 112.01 L171.89 123.99 L169.81 130.62 Z" fill="#a01f1f"/><path d="M192.64 105.68 L192.64 125.8 L172.52 123.95 L166.91 111.9 Z" fill="#921b1b"/><path d="M-24.54 156.74 L-24.54 121.88 L-19.13 122.19 L-3.07 132.49 L0.03 147.23 L-9.64 159.82 Z" fill="#7e1717"/><path d="M1.98 146.37 L-0.82 133.07 L12.26 128.44 L15.6 130.48 L20.34 147.14 L16.96 147.55 Z" fill="#741414"/><path d="M22.23 147.41 L17.27 130.01 L28.42 126.02 L34.62 134.79 L34.99 141.01 L22.6 147.6 Z" fill="#741414"/><path d="M36.29 141.22 L35.9 134.65 L45.92 124.72 L55.35 138.29 L51.85 145.82 L50.98 146.15 Z" fill="#b42525"/><path d="M53.76 145.51 L57.03 138.47 L71.62 127.7 L75.22 130.71 L82.75 145.22 L64.95 153.06 Z" fill="#741414"/><path d="M84.96 145.29 L77.02 129.99 L97.12 123.11 L101.59 130.76 L101.48 142.72 L87.6 146.85 Z" fill="#b42525"/><path d="M103.29 142.04 L103.39 130.85 L116.78 123.61 L123.15 128.82 L121.21 136.6 L105.7 143.02 Z" fill="#881919"/><path d="M123.07 136.87 L125.15 128.51 L132.18 125.31 L145.83 129.4 L147.49 142.84 L135.27 151.83 Z" fill="#881919"/><path d="M149.23 142.69 L147.67 130.07 L148.01 129.67 L168.7 131.85 L168.86 147.99 L162.79 147.67 Z" fill="#921b1b"/><path d="M191.12 127.41 L191.12 136.98 L173.06 148.75 L171.33 147.52 L171.17 131.73 L173.05 125.75 Z" fill="#921b1b"/><path d="M-8.73 160.46 L0.65 148.25 L16.75 149.51 L4.53 167.21 L-5.65 165.04 Z" fill="#5a0f0f"/><path d="M6.41 166.75 L17.94 150.06 L21.36 149.64 L21.73 149.83 L25.88 163.1 L17.23 172.17 Z" fill="#6a1212"/><path d="M27.65 162.85 L23.33 149.05 L35.83 142.4 L49.86 147.11 L41.11 166.66 Z" fill="#6a1212"/><path d="M43.39 167.26 L43.23 167 L51.62 148.26 L52.41 147.95 L63.39 155.35 L64.53 168.36 L63.03 170.62 Z" fill="#881919"/><path d="M66.86 168.59 L65.66 154.79 L84.16 146.64 L86.76 148.19 L87.22 159.67 L83.28 166.2 Z" fill="#a01f1f"/><path d="M88.09 159.69 L87.62 147.61 L102.01 143.32 L104.69 144.41 L111.73 157.15 L99.13 165.82 Z" fill="#741414"/><path d="M112.52 156.97 L105.67 144.57 L122.4 137.65 L134.64 152.67 L134.44 153.3 L123.07 164.29 Z" fill="#7e1717"/><path d="M136.61 153.57 L136.79 152.99 L148.01 144.74 L161.26 149.6 L151.28 163.41 L146.64 164.09 Z" fill="#6a1212"/><path d="M164.2 174.02 L152.53 164.43 L163.55 149.18 L170.1 149.52 L172.01 150.87 L174.49 156.92 Z" fill="#a01f1f"/><path d="M192.39 138.08 L192.39 167.28 L175.37 156.66 L172.95 150.76 Z" fill="#4a0c0c"/><path d="M-9.5 190.08 L-23.64 190.08 L-23.64 159.61 L-10.2 162.39 L-7.33 166.65 Z" fill="#881919"/><path d="M16.85 192.04 L-8.13 192.04 L-5.74 166.07 L4.76 168.3 L16.58 174.22 Z" fill="#a01f1f"/><path d="M39.93 191.41 L18.35 191.41 L18.09 174.22 L27.2 164.66 L40.84 168.53 L41.01 168.8 Z" fill="#6a1212"/><path d="M65.12 191.32 L42.09 191.32 L43.13 169.68 L63 173.08 Z" fill="#4a0c0c"/><path d="M90.25 191.97 L66.98 191.97 L64.69 172.33 L66.32 169.86 L83.19 167.41 Z" fill="#741414"/><path d="M107.28 192.2 L91.07 192.2 L83.85 167.08 L87.98 160.21 L99.01 166.34 Z" fill="#4a0c0c"/><path d="M120.54 190.7 L108.14 190.7 L100.57 167.03 L112.09 159.1 L122.01 165.99 Z" fill="#b42525"/><path d="M142.32 191.86 L121.96 191.86 L123.54 165.3 L135.03 154.2 L146.11 165.83 Z" fill="#921b1b"/><path d="M160.42 190.96 L143.87 190.96 L147.37 166.91 L152.11 166.22 L162.91 175.09 Z" fill="#741414"/><path d="M192.6 168.45 L192.6 192.2 L161.73 192.2 L164.46 174.77 L174.9 157.4 Z" fill="#921b1b"/></g><circle cx="101.16" cy="31.53" r="11" fill="#cc3030" opacity="0.55" filter="url(#dsoft2)"/><circle cx="109.04" cy="23.65" r="8" fill="#cc3030" opacity="0.55" filter="url(#dsoft2)"/><circle cx="98.53" cy="89.33" r="13" fill="#cc3030" opacity="0.55" filter="url(#dsoft2)"/><circle cx="85.39" cy="84.08" r="9" fill="#cc3030" opacity="0.55" filter="url(#dsoft2)"/><circle cx="161.59" cy="94.59" r="10" fill="#cc3030" opacity="0.55" filter="url(#dsoft2)"/><circle cx="24.96" cy="144.51" r="8" fill="#cc3030" opacity="0.55" filter="url(#dsoft2)"/><circle cx="74.88" cy="23.65" r="8" fill="#cc3030" opacity="0.55" filter="url(#dsoft2)"/><circle cx="27.59" cy="13.14" r="8" fill="#cc3030" opacity="0.55" filter="url(#dsoft2)"/><circle cx="143.19" cy="44.67" r="8" fill="#cc3030" opacity="0.55" filter="url(#dsoft2)"/><circle cx="61.74" cy="78.82" r="9" fill="#cc3030" opacity="0.55" filter="url(#dsoft2)"/><circle cx="153.7" cy="162.9" r="8" fill="#cc3030" opacity="0.55" filter="url(#dsoft2)"/><circle cx="82.76" cy="126.12" r="9" fill="#cc3030" opacity="0.55" filter="url(#dsoft2)"/><g fill="#000" filter="url(#drough2)"><path d="M123.89 46.56 L121.58 44.79 L125.11 44.2 Z" opacity="0.59"/><path d="M162.71 66.79 L162.64 69.83 L160.92 69.17 Z" opacity="0.48"/><path d="M5.4 98.37 L3.79 95.72 L6.29 94.59 L9.47 94.7 L7.94 97.6 Z" opacity="0.75"/><path d="M24.72 15.7 L21.22 17.68 L21.31 13.99 Z" opacity="0.6"/><path d="M46.97 79.55 L45.42 83.88 L42.35 81.23 Z" opacity="0.77"/><path d="M78.8 140.26 L78.93 136.4 L83.07 137.24 Z" opacity="0.83"/><path d="M90.07 111.83 L93.93 107.95 L94.59 115.15 Z" opacity="0.72"/><path d="M51.96 166.65 L50.38 162.71 L53.7 160.39 L54.46 163.85 Z" opacity="0.43"/><path d="M56.33 104.84 L55.8 106.94 L53.19 107.05 L54.03 104.43 Z" opacity="0.59"/><path d="M16.86 15.3 L19.82 11.99 L20.14 17.22 Z" opacity="0.79"/><path d="M37.68 55 L41.88 55.35 L41.35 60.76 L36.62 59.7 L35.47 56.74 Z" opacity="0.55"/><path d="M144.29 128.48 L146.75 130.6 L144.53 131.91 L142.5 130.9 Z" opacity="0.41"/><path d="M33.29 89.24 L32.31 92.4 L31.25 89.4 Z" opacity="0.79"/><path d="M101.44 79.26 L102.63 81.01 L101.02 81.97 L99.27 81.75 L99.23 79.52 Z" opacity="0.83"/><path d="M154.01 55.99 L151.19 59.41 L146.6 57.85 L150.11 55.1 Z" opacity="0.66"/><path d="M79.47 149.57 L73.52 149.71 L77.04 146.25 Z" opacity="0.83"/><path d="M11.98 11.83 L13.45 10.8 L14.95 12.32 L13.06 13.19 Z" opacity="0.55"/><path d="M94.75 156.78 L96.65 157.88 L94.71 160.04 L93.48 157.83 Z" opacity="0.67"/><path d="M119.9 88.88 L122.93 88.89 L120.79 91.44 Z" opacity="0.75"/><path d="M97.31 70.6 L99.48 64.48 L104.37 70.03 Z" opacity="0.67"/><path d="M139.46 0.81 L133.44 4.19 L134.81 -3.28 Z" opacity="0.58"/><path d="M152.94 92.88 L155.4 95.76 L152.31 97.8 L149.72 95.03 Z" opacity="0.69"/><path d="M160.2 63.42 L161.53 64.07 L160.77 65.26 L159.15 66.03 L158.55 64 Z" opacity="0.44"/><path d="M159.1 165.03 L162.04 167.32 L158 168.5 Z" opacity="0.41"/><path d="M105.35 98.2 L107.59 96.33 L109.33 98.69 L108.54 101.46 L105.89 100.53 Z" opacity="0.61"/><path d="M2.15 31.67 L1.11 34.14 L-2.44 32.64 L0.09 29.29 Z" opacity="0.56"/><path d="M142.33 125.92 L139.51 128.69 L135.43 128.17 L138.34 125.1 Z" opacity="0.68"/><path d="M153.82 155.12 L157.18 154.09 L156.51 157.55 L153.39 158.28 Z" opacity="0.78"/><path d="M65.27 98.87 L62.6 101.01 L61.35 98.64 L62.8 97.65 Z" opacity="0.45"/><path d="M138.93 130.56 L142.56 130.98 L143.3 134.16 L140.73 135.99 L137.6 134.23 Z" opacity="0.6"/><path d="M10.76 36.78 L12.63 35.97 L11.98 37.99 Z" opacity="0.46"/><path d="M27.41 17.51 L30.36 15.81 L31.88 17.27 L30.57 19.71 Z" opacity="0.8"/><path d="M106.74 64.25 L101.74 63.56 L103.14 58.29 L108.06 57.18 L109.9 61.65 Z" opacity="0.6"/><path d="M112.38 4.04 L114.37 -1.66 L119.38 -0.33 L117.79 3.82 Z" opacity="0.75"/><path d="M23.77 52.07 L23.72 49.11 L25.85 50.17 Z" opacity="0.84"/><path d="M123.79 -1.1 L126.64 0.19 L124.15 2.08 L121.93 1.95 L120.76 -0.96 Z" opacity="0.85"/><path d="M163.39 115.5 L161.89 112.04 L164.29 109.83 L168.53 113.09 Z" opacity="0.75"/><path d="M54.48 169.51 L54.59 165.41 L58.39 166.86 Z" opacity="0.46"/><path d="M68.17 59.94 L64.04 58.2 L66.9 55.89 Z" opacity="0.46"/><path d="M10.76 48.28 L14 49.43 L13.53 52.16 L10.66 51.81 Z" opacity="0.5"/><path d="M6.79 43.07 L4.08 49.56 L0.97 45.38 Z" opacity="0.79"/><path d="M101.3 130.92 L102.4 132.62 L100.14 133.42 L98.56 131.66 L99.84 129.63 Z" opacity="0.57"/><path d="M102.93 78.96 L105.01 76.46 L107.62 78.58 L105.49 82.53 Z" opacity="0.52"/><path d="M18.36 45.11 L21.43 48.05 L16.6 48.83 Z" opacity="0.67"/><path d="M44.29 44.19 L47.13 44.32 L48.98 47.18 L45.85 48.74 L43.07 47.14 Z" opacity="0.79"/></g><rect width="168" height="167.6" fill="#000" filter="url(#dgrain)" opacity="0.26"/><g filter="url(#dwsp2)" fill="none" stroke="#f0e6e6" stroke-width="2.2" stroke-linejoin="round"><path d="M-24.43 -24.32 L-4.41 -24.32 L11.11 -3.54 L-7.81 8.51 L-24.43 7.21 Z" opacity="0.41"/><path d="M-2.8 -24.01 L27.6 -24.01 L20.06 -4.28 L14.4 -3.01 L12.13 -4.03 Z" opacity="0.52"/><path d="M28.84 -24.58 L39.04 -24.58 L43.79 -6.3 L35.15 2.03 L20.93 -3.9 Z" opacity="0.14"/><path d="M63.27 -24.68 L76.8 -24.68 L76.61 -2.57 L57.8 -3.09 L55.99 -4.94 Z" opacity="0.63"/><path d="M150.82 -23.65 L154.38 -23.65 L164.01 -8.9 L155.49 3 L144.67 -4.13 Z" opacity="0.16"/><path d="M-7.34 9.07 L11.79 -3.11 L14.19 -2.05 L13.66 15.7 L-1.69 13.76 Z" opacity="0.42"/><path d="M38.66 16.14 L36.4 2.94 L44.48 -4.85 L55 -3.6 L56.69 -1.88 L56.58 15.86 L55.19 17.34 L40.65 19.22 Z" opacity="0.81"/><path d="M58.3 15.83 L58.4 -2.29 L76.24 -1.8 L76.84 -1.05 L72.57 13.61 Z" opacity="0.61"/><path d="M74 13.75 L78.08 -0.29 L87.22 1.46 L94.04 12.52 L78.98 19.08 Z" opacity="0.83"/><path d="M88.66 0.75 L98.03 -8.44 L115.04 -3.59 L106.43 14.82 L104.09 16.43 L95.89 12.48 Z" opacity="0.83"/><path d="M134.76 9.29 L133.31 2.28 L143.74 -2.24 L154.65 4.95 L156.7 14.54 L144.56 21.73 Z" opacity="0.51"/><path d="M158.55 14.36 L156.49 4.73 L165.12 -7.33 L173.82 -5.06 L170.22 13.43 L165.87 16.45 Z" opacity="0.82"/><path d="M192.48 -11.09 L192.48 12.35 L171.35 13.52 L175.09 -5.7 Z" opacity="0.48"/><path d="M-23.38 32.96 L-23.38 9.63 L-8.16 10.82 L-3.04 15.07 L0.82 34.53 L-11.2 36.71 Z" opacity="0.53"/><path d="M2.7 35.51 L-1.49 14.39 L13.61 16.3 L13.74 16.57 L10.62 36.2 Z" opacity="0.26"/><path d="M12.54 35.8 L15.4 17.76 L36.22 18.44 L38.14 21.43 L33.94 34.73 L28.81 36.83 L13.43 36.46 Z" opacity="0.1"/><path d="M57.54 19.33 L58.87 17.92 L72.24 15.85 L77.12 21.07 L77.88 34.53 L66.95 36.61 L65.05 35.13 Z" opacity="0.34"/><path d="M80.32 35.24 L79.51 20.88 L95.25 14.02 L103.32 17.91 L100.82 35.13 L90.71 40.9 Z" opacity="0.66"/><path d="M122.3 20.69 L133.85 11.17 L143.54 23.46 L139.79 34.16 L136.69 35.55 L132.01 35.43 Z" opacity="0.74"/><path d="M12.1 46.21 L12.27 38.29 L28.77 38.68 L27.83 62.94 L21.88 68.11 Z" opacity="0.42"/><path d="M29.19 61.7 L30.06 39.11 L35.19 37.02 L39.4 40.46 L42.54 46.53 L38.3 60.21 Z" opacity="0.81"/><path d="M45.03 46.18 L41.89 40.11 L63.56 37.57 L65.48 39.06 L61.42 51.01 L58.97 54.18 Z" opacity="0.63"/><path d="M62.63 51.75 L67.13 38.49 L79.39 36.16 L90.32 42.12 L89.36 53.02 L85.93 56.58 Z" opacity="0.49"/><path d="M89.98 53.07 L90.95 42.17 L101.58 36.1 L116.4 42.89 L116.62 54.48 L98.61 60.07 Z" opacity="0.22"/><path d="M118.03 54.39 L117.83 43.72 L131.18 38.07 L135.85 38.19 L135.13 55.04 L124.81 67.62 L124.2 67.39 Z" opacity="0.84"/><path d="M136.74 54.93 L137.49 37.28 L140.74 35.83 L153.73 43.9 L159.36 56.2 L149.12 60.39 Z" opacity="0.75"/><path d="M160.75 56.13 L155.1 43.81 L170.76 31.46 L179.89 36.68 L179.53 53.42 L165.56 59.11 Z" opacity="0.4"/><path d="M192.34 30.71 L192.34 57.47 L190.34 57.44 L181.11 53.05 L181.45 37.37 Z" opacity="0.19"/><path d="M-2.05 66.75 L11.65 46.52 L21.72 69.04 L20.97 70.68 L17.42 72.39 Z" opacity="0.54"/><path d="M21.96 70.73 L22.67 69.16 L28.53 64.06 L38.17 62.49 L47.64 67.77 L32.77 80.23 Z" opacity="0.59"/><path d="M60.39 64.88 L60.76 56.44 L63.18 53.3 L83.92 57.61 L77.43 69.78 L72.56 72.57 Z" opacity="0.28"/><path d="M78.96 70.78 L86.27 57.09 L89.71 53.52 L98.35 60.54 L104.39 74.44 L96.64 78.74 Z" opacity="0.66"/><path d="M125.19 69.27 L136.1 55.98 L148.58 61.49 L140.82 72.45 L128.33 72.73 Z" opacity="0.63"/><path d="M181.39 81.46 L166.72 61.64 L166.72 60.35 L179.82 55.01 L189.06 59.41 Z" opacity="0.35"/><path d="M12.73 89.43 L18.15 73.9 L21.39 72.34 L31.68 81.38 L35.06 87.88 L18.41 96.87 Z" opacity="0.39"/><path d="M33.56 81.02 L48.49 68.51 L52.24 69.05 L49.19 84.11 L41.37 90.41 L37.13 87.88 Z" opacity="0.64"/><path d="M50.98 83.77 L53.9 69.32 L59.35 66.65 L71.92 74.6 L70.72 88.1 L69.66 88.6 Z" opacity="0.62"/><path d="M112.52 92.83 L108.02 75.55 L123.6 70.07 L124.23 70.31 L127.28 73.68 L127.93 86.46 L116.79 94.73 Z" opacity="0.55"/><path d="M158.33 81.39 L165.71 62.62 L181.3 83.69 L181.54 85.55 L166.74 90.77 Z" opacity="0.15"/><path d="M192.44 60.87 L192.44 90.15 L182.98 84.7 L182.75 82.95 L190.43 60.84 Z" opacity="0.58"/><path d="M-24.09 119.14 L-24.09 82.47 L-20.58 81.97 L-2.91 92.58 L-3.27 108.8 L-19.01 119.44 Z" opacity="0.56"/><path d="M19.88 105.78 L19.35 98.94 L36.43 89.72 L40.55 92.17 L45.43 107.9 L44.53 108.75 L33.46 111.82 Z" opacity="0.54"/><path d="M53.74 108.43 L70.47 90.26 L71.62 89.72 L78.54 94.99 L76.89 114.23 L71.36 121.86 Z" opacity="0.51"/><path d="M98.16 110.63 L96.35 98.47 L111.69 94.35 L116.11 96.32 L118.04 105.99 L113.61 112.48 L99.39 112.19 Z" opacity="0.58"/><path d="M119.91 105.23 L118.14 96.36 L128.74 88.49 L138.61 96.24 L140.04 101.86 L132.64 107.51 Z" opacity="0.42"/><path d="M-18.62 121.41 L-1.85 110.08 L11.8 111.92 L11.98 126.59 L-2.54 131.72 Z" opacity="0.45"/><path d="M13.41 125.82 L13.24 112.44 L18.63 107.69 L31.76 113.52 L27.57 124.03 L16.78 127.89 Z" opacity="0.78"/><path d="M29.18 124.56 L33.67 113.34 L45.09 110.17 L45.4 123.91 L35.59 133.63 Z" opacity="0.08"/><path d="M47.11 123.56 L46.82 110.66 L47.69 109.84 L53.46 109.95 L69.51 122.19 L70.14 125.43 L55.78 136.03 Z" opacity="0.23"/><path d="M117.95 121.69 L114.8 113.27 L118.99 107.14 L132.11 109.49 L131.18 123.99 L124.48 127.04 Z" opacity="0.61"/><path d="M132.4 124.46 L133.39 108.96 L141.54 102.74 L156.01 110.28 L146.69 128.2 L146.32 128.63 Z" opacity="0.26"/><path d="M192.64 105.68 L192.64 125.8 L172.52 123.95 L166.91 111.9 Z" opacity="0.41"/><path d="M1.98 146.37 L-0.82 133.07 L12.26 128.44 L15.6 130.48 L20.34 147.14 L16.96 147.55 Z" opacity="0.72"/><path d="M22.23 147.41 L17.27 130.01 L28.42 126.02 L34.62 134.79 L34.99 141.01 L22.6 147.6 Z" opacity="0.33"/><path d="M36.29 141.22 L35.9 134.65 L45.92 124.72 L55.35 138.29 L51.85 145.82 L50.98 146.15 Z" opacity="0.45"/><path d="M53.76 145.51 L57.03 138.47 L71.62 127.7 L75.22 130.71 L82.75 145.22 L64.95 153.06 Z" opacity="0.82"/><path d="M84.96 145.29 L77.02 129.99 L97.12 123.11 L101.59 130.76 L101.48 142.72 L87.6 146.85 Z" opacity="0.83"/><path d="M103.29 142.04 L103.39 130.85 L116.78 123.61 L123.15 128.82 L121.21 136.6 L105.7 143.02 Z" opacity="0.52"/><path d="M149.23 142.69 L147.67 130.07 L148.01 129.67 L168.7 131.85 L168.86 147.99 L162.79 147.67 Z" opacity="0.65"/><path d="M191.12 127.41 L191.12 136.98 L173.06 148.75 L171.33 147.52 L171.17 131.73 L173.05 125.75 Z" opacity="0.72"/><path d="M66.86 168.59 L65.66 154.79 L84.16 146.64 L86.76 148.19 L87.22 159.67 L83.28 166.2 Z" opacity="0.74"/><path d="M88.09 159.69 L87.62 147.61 L102.01 143.32 L104.69 144.41 L111.73 157.15 L99.13 165.82 Z" opacity="0.66"/><path d="M112.52 156.97 L105.67 144.57 L122.4 137.65 L134.64 152.67 L134.44 153.3 L123.07 164.29 Z" opacity="0.84"/><path d="M136.61 153.57 L136.79 152.99 L148.01 144.74 L161.26 149.6 L151.28 163.41 L146.64 164.09 Z" opacity="0.5"/><path d="M164.2 174.02 L152.53 164.43 L163.55 149.18 L170.1 149.52 L172.01 150.87 L174.49 156.92 Z" opacity="0.25"/><path d="M-9.5 190.08 L-23.64 190.08 L-23.64 159.61 L-10.2 162.39 L-7.33 166.65 Z" opacity="0.74"/><path d="M16.85 192.04 L-8.13 192.04 L-5.74 166.07 L4.76 168.3 L16.58 174.22 Z" opacity="0.56"/><path d="M39.93 191.41 L18.35 191.41 L18.09 174.22 L27.2 164.66 L40.84 168.53 L41.01 168.8 Z" opacity="0.4"/><path d="M107.28 192.2 L91.07 192.2 L83.85 167.08 L87.98 160.21 L99.01 166.34 Z" opacity="0.6"/><path d="M120.54 190.7 L108.14 190.7 L100.57 167.03 L112.09 159.1 L122.01 165.99 Z" opacity="0.17"/><path d="M142.32 191.86 L121.96 191.86 L123.54 165.3 L135.03 154.2 L146.11 165.83 Z" opacity="0.1"/><path d="M160.42 190.96 L143.87 190.96 L147.37 166.91 L152.11 166.22 L162.91 175.09 Z" opacity="0.77"/></g><ellipse cx="19.71" cy="10.51" rx="18.39" ry="11.82" fill="#ffe8e8" opacity="0.16" filter="url(#dsoft2)"/><ellipse cx="143.19" cy="31.53" rx="15.76" ry="18.39" fill="#ffe8e8" opacity="0.16" filter="url(#dsoft2)"/><ellipse cx="74.88" cy="115.61" rx="21.02" ry="13.14" fill="#ffe8e8" opacity="0.12" filter="url(#dsoft2)"/><ellipse cx="27.59" cy="89.33" rx="15.76" ry="13.14" fill="#ffe8e8" opacity="0.14" filter="url(#dsoft2)"/><ellipse cx="153.7" cy="102.47" rx="13.14" ry="15.76" fill="#ffe8e8" opacity="0.14" filter="url(#dsoft2)"/><ellipse cx="82.76" cy="2.63" rx="15.76" ry="10.51" fill="#ffe8e8" opacity="0.12" filter="url(#dsoft2)"/><ellipse cx="22.33" cy="147.14" rx="15.76" ry="10.51" fill="#ffe8e8" opacity="0.12" filter="url(#dsoft2)"/><ellipse cx="143.19" cy="147.14" rx="15.76" ry="10.51" fill="#ffe8e8" opacity="0.12" filter="url(#dsoft2)"/><g filter="url(#drough)" fill="none" stroke="#f0dede" stroke-width="4.5" opacity="0.4"><path d="M-2.63 45.98 L11.82 43.35 L32.84 49.92 L56.49 53.86 L58.59 63.06 L43.35 68.84 L27.59 66.21 L11.82 66.21 L-2.63 63.58 Z"/><path d="M107.72 -2.63 L122.7 -2.63 L121.12 10.51 L114.82 18.39 L109.04 13.14 Z"/><path d="M153.7 5.25 L169.47 3.94 L169.47 21.02 L158.96 22.33 L153.18 14.45 Z"/><path d="M114.29 38.1 L127.43 40.73 L133.21 55.18 L125.33 66.21 L115.61 63.58 L111.67 49.92 Z"/><path d="M153.7 55.18 L169.47 53.86 L169.47 73.57 L157.65 74.09 L153.18 64.37 Z"/><path d="M48.61 95.9 L61.74 97.21 L71.2 102.47 L72.78 115.61 L64.9 126.64 L52.55 124.01 L45.98 110.35 Z"/><path d="M114.29 80.14 L132.69 82.76 L142.14 94.59 L138.47 110.35 L124.8 116.13 L114.29 105.62 L110.35 91.96 Z"/><path d="M35.47 126.64 L51.23 125.07 L64.9 131.37 L63.06 147.14 L48.61 151.08 L36.78 143.19 Z"/><path d="M90.65 131.9 L106.41 130.85 L119.55 136.63 L119.02 155.02 L106.41 160.8 L92.75 152.39 Z"/><path d="M-2.63 139.25 L10.51 139.78 L12.35 152.39 L9.2 163.43 L-2.63 164.21 Z"/><path d="M26.27 26.27 L38.1 24.96 L40.73 35.47 L32.84 40.73 L25.49 35.47 Z"/><path d="M82.76 10.51 L91.96 9.2 L93.8 21.02 L86.71 24.96 L81.45 18.39 Z"/><path d="M143.19 126.12 L156.33 124.8 L158.96 136.63 L149.76 141.88 L141.88 136.63 Z"/><path d="M11.82 94.59 L23.65 93.27 L26.27 105.1 L17.08 110.35 L10.51 103.78 Z"/><path d="M127.43 147.14 L139.25 145.82 L143.19 157.65 L132.69 162.9 L126.12 156.33 Z"/><path d="M61.74 0 L72.25 -0.53 L73.57 7.88 L64.9 9.98 Z"/></g><g filter="url(#dwsp)" fill="none" stroke="#f6f0f0" stroke-width="5" opacity="1"><path d="M-2.63 45.98 L11.82 43.35 L32.84 49.92 L56.49 53.86 L58.59 63.06 L43.35 68.84 L27.59 66.21 L11.82 66.21 L-2.63 63.58 Z"/><path d="M107.72 -2.63 L122.7 -2.63 L121.12 10.51 L114.82 18.39 L109.04 13.14 Z"/><path d="M153.7 5.25 L169.47 3.94 L169.47 21.02 L158.96 22.33 L153.18 14.45 Z"/><path d="M114.29 38.1 L127.43 40.73 L133.21 55.18 L125.33 66.21 L115.61 63.58 L111.67 49.92 Z"/><path d="M153.7 55.18 L169.47 53.86 L169.47 73.57 L157.65 74.09 L153.18 64.37 Z"/><path d="M48.61 95.9 L61.74 97.21 L71.2 102.47 L72.78 115.61 L64.9 126.64 L52.55 124.01 L45.98 110.35 Z"/><path d="M114.29 80.14 L132.69 82.76 L142.14 94.59 L138.47 110.35 L124.8 116.13 L114.29 105.62 L110.35 91.96 Z"/><path d="M35.47 126.64 L51.23 125.07 L64.9 131.37 L63.06 147.14 L48.61 151.08 L36.78 143.19 Z"/><path d="M90.65 131.9 L106.41 130.85 L119.55 136.63 L119.02 155.02 L106.41 160.8 L92.75 152.39 Z"/><path d="M-2.63 139.25 L10.51 139.78 L12.35 152.39 L9.2 163.43 L-2.63 164.21 Z"/><path d="M26.27 26.27 L38.1 24.96 L40.73 35.47 L32.84 40.73 L25.49 35.47 Z"/><path d="M82.76 10.51 L91.96 9.2 L93.8 21.02 L86.71 24.96 L81.45 18.39 Z"/><path d="M143.19 126.12 L156.33 124.8 L158.96 136.63 L149.76 141.88 L141.88 136.63 Z"/><path d="M11.82 94.59 L23.65 93.27 L26.27 105.1 L17.08 110.35 L10.51 103.78 Z"/><path d="M127.43 147.14 L139.25 145.82 L143.19 157.65 L132.69 162.9 L126.12 156.33 Z"/><path d="M61.74 0 L72.25 -0.53 L73.57 7.88 L64.9 9.98 Z"/></g><g filter="url(#drough)" fill="#000"><path d="M-2.63 45.98 L11.82 43.35 L32.84 49.92 L56.49 53.86 L58.59 63.06 L43.35 68.84 L27.59 66.21 L11.82 66.21 L-2.63 63.58 Z"/><path d="M107.72 -2.63 L122.7 -2.63 L121.12 10.51 L114.82 18.39 L109.04 13.14 Z"/><path d="M153.7 5.25 L169.47 3.94 L169.47 21.02 L158.96 22.33 L153.18 14.45 Z"/><path d="M114.29 38.1 L127.43 40.73 L133.21 55.18 L125.33 66.21 L115.61 63.58 L111.67 49.92 Z"/><path d="M153.7 55.18 L169.47 53.86 L169.47 73.57 L157.65 74.09 L153.18 64.37 Z"/><path d="M48.61 95.9 L61.74 97.21 L71.2 102.47 L72.78 115.61 L64.9 126.64 L52.55 124.01 L45.98 110.35 Z"/><path d="M114.29 80.14 L132.69 82.76 L142.14 94.59 L138.47 110.35 L124.8 116.13 L114.29 105.62 L110.35 91.96 Z"/><path d="M35.47 126.64 L51.23 125.07 L64.9 131.37 L63.06 147.14 L48.61 151.08 L36.78 143.19 Z"/><path d="M90.65 131.9 L106.41 130.85 L119.55 136.63 L119.02 155.02 L106.41 160.8 L92.75 152.39 Z"/><path d="M-2.63 139.25 L10.51 139.78 L12.35 152.39 L9.2 163.43 L-2.63 164.21 Z"/><path d="M26.27 26.27 L38.1 24.96 L40.73 35.47 L32.84 40.73 L25.49 35.47 Z"/><path d="M82.76 10.51 L91.96 9.2 L93.8 21.02 L86.71 24.96 L81.45 18.39 Z"/><path d="M143.19 126.12 L156.33 124.8 L158.96 136.63 L149.76 141.88 L141.88 136.63 Z"/><path d="M11.82 94.59 L23.65 93.27 L26.27 105.1 L17.08 110.35 L10.51 103.78 Z"/><path d="M127.43 147.14 L139.25 145.82 L143.19 157.65 L132.69 162.9 L126.12 156.33 Z"/><path d="M61.74 0 L72.25 -0.53 L73.57 7.88 L64.9 9.98 Z"/></g><path d="M68.31 92.49 C68.42 93.17 68.82 94.33 68.48 94.83 C68.13 95.33 66.99 95.35 66.22 95.49 C65.45 95.63 64.48 95.96 63.86 95.66 C63.23 95.35 62.88 94.44 62.47 93.65 C62.06 92.87 61.13 91.59 61.4 90.92 C61.66 90.26 63.24 90.07 64.06 89.68 C64.89 89.29 65.75 88.42 66.37 88.6 C66.99 88.77 67.46 90.08 67.78 90.73 C68.11 91.37 68.19 91.8 68.31 92.49 Z" fill="#58f018" opacity="1" filter="url(#dglow)"/><path d="M48.44 112.98 C48.4 114.71 47.86 116.98 46.77 118.05 C45.67 119.12 43.27 119.54 41.86 119.4 C40.44 119.26 39.2 118.03 38.28 117.22 C37.35 116.42 37.08 115.71 36.33 114.58 C35.58 113.45 33.39 111.33 33.77 110.45 C34.14 109.56 37.17 110.21 38.58 109.26 C39.98 108.31 40.77 105.01 42.18 104.75 C43.59 104.49 45.99 106.31 47.03 107.69 C48.08 109.06 48.49 111.25 48.44 112.98 Z" fill="#9cc818" opacity="0.8" filter="url(#dglow)"/><path d="M123.98 42.04 C123.88 42.61 124.19 43.27 123.94 43.52 C123.68 43.77 122.92 43.48 122.44 43.56 C121.97 43.63 121.41 44.09 121.08 43.94 C120.74 43.79 120.65 43.12 120.45 42.67 C120.26 42.21 119.75 41.57 119.89 41.21 C120.03 40.84 120.8 40.82 121.27 40.47 C121.74 40.12 122.15 39.18 122.69 39.12 C123.23 39.05 124.28 39.61 124.49 40.09 C124.71 40.58 124.07 41.47 123.98 42.04 Z" fill="#48c820" opacity="0.9" filter="url(#dglow)"/><path d="M79.8 60.96 C79.57 61.59 79.38 61.69 79.11 62.3 C78.83 62.9 78.69 64.33 78.15 64.59 C77.6 64.85 76.44 64.28 75.84 63.85 C75.23 63.43 74.76 62.72 74.51 62.05 C74.26 61.37 74.15 60.53 74.34 59.8 C74.52 59.08 75.02 57.93 75.62 57.69 C76.23 57.45 77.16 58.23 77.97 58.36 C78.78 58.49 80.17 58.03 80.48 58.47 C80.78 58.9 80.03 60.32 79.8 60.96 Z" fill="#8ca018" opacity="0.6" filter="url(#dglow)"/><path d="M13.58 68.84 C13.74 69.3 14.17 70.27 13.93 70.61 C13.7 70.95 12.73 70.86 12.19 70.9 C11.64 70.93 10.96 71.09 10.67 70.84 C10.38 70.58 10.61 69.82 10.42 69.35 C10.23 68.88 9.48 68.41 9.53 68 C9.58 67.6 10.26 67.21 10.72 66.92 C11.17 66.63 11.9 66.09 12.28 66.25 C12.66 66.4 12.78 67.42 13 67.85 C13.22 68.28 13.43 68.38 13.58 68.84 Z" fill="#a0b020" opacity="0.8" filter="url(#dglow)"/><path d="M144.97 110.35 C145.12 110.77 145.36 111.69 145.11 111.96 C144.86 112.22 143.95 111.94 143.47 111.93 C143 111.93 142.75 112.05 142.28 111.94 C141.8 111.83 140.83 111.68 140.63 111.29 C140.43 110.89 140.86 110.09 141.1 109.59 C141.33 109.09 141.62 108.42 142.01 108.3 C142.41 108.19 143.08 108.7 143.45 108.89 C143.83 109.08 144 109.22 144.25 109.47 C144.5 109.71 144.83 109.94 144.97 110.35 Z" fill="#58b020" opacity="0.85" filter="url(#dglow)"/><path d="M158.48 115.61 C158.51 116.01 158.17 116.63 157.85 116.88 C157.54 117.13 157 117.07 156.6 117.12 C156.19 117.17 155.76 117.32 155.43 117.17 C155.1 117.02 154.69 116.56 154.63 116.23 C154.57 115.89 154.93 115.49 155.08 115.15 C155.22 114.81 155.27 114.34 155.52 114.2 C155.77 114.05 156.2 114.24 156.57 114.28 C156.93 114.33 157.39 114.23 157.71 114.45 C158.03 114.67 158.46 115.2 158.48 115.61 Z" fill="#58b020" opacity="0.8" filter="url(#dglow)"/><path d="M121.57 121.39 C121.61 121.67 120.95 122.08 120.65 122.31 C120.36 122.55 120.13 122.7 119.8 122.8 C119.47 122.9 118.92 123.07 118.67 122.91 C118.42 122.75 118.45 122.21 118.29 121.85 C118.13 121.48 117.6 120.99 117.69 120.71 C117.79 120.43 118.47 120.34 118.83 120.15 C119.2 119.97 119.59 119.52 119.86 119.6 C120.13 119.68 120.16 120.33 120.45 120.63 C120.73 120.93 121.54 121.11 121.57 121.39 Z" fill="#70a020" opacity="0.7" filter="url(#dglow)"/><path d="M48.5 73.04 C48.65 73.72 49.2 75 48.87 75.46 C48.53 75.93 47.2 75.78 46.47 75.81 C45.74 75.84 44.95 75.97 44.47 75.65 C44 75.33 43.74 74.46 43.63 73.9 C43.53 73.33 43.71 72.85 43.85 72.27 C43.99 71.69 44.01 70.83 44.46 70.41 C44.91 69.99 45.98 69.57 46.56 69.74 C47.14 69.9 47.62 70.85 47.94 71.4 C48.26 71.95 48.34 72.36 48.5 73.04 Z" fill="#809018" opacity="0.5" filter="url(#dglow)"/><path d="M161.26 27.59 C161.34 27.94 160.78 28.57 160.45 28.84 C160.11 29.11 159.61 29.23 159.25 29.22 C158.89 29.2 158.67 28.9 158.29 28.75 C157.91 28.6 157.17 28.63 156.95 28.32 C156.74 28.01 156.8 27.23 157 26.88 C157.2 26.52 157.77 26.46 158.16 26.2 C158.55 25.94 159.06 25.23 159.36 25.32 C159.66 25.41 159.64 26.37 159.96 26.75 C160.28 27.13 161.18 27.24 161.26 27.59 Z" fill="#60a020" opacity="0.8" filter="url(#dglow)"/><path d="M75.24 40.73 C75.07 41.34 74.37 41.65 73.96 42.15 C73.55 42.66 73.39 43.46 72.79 43.76 C72.19 44.07 70.82 44.36 70.38 43.98 C69.93 43.6 70.44 42.26 70.14 41.49 C69.84 40.73 68.55 40.06 68.59 39.39 C68.63 38.72 69.71 37.64 70.39 37.49 C71.06 37.35 71.88 38.35 72.64 38.52 C73.4 38.68 74.52 38.1 74.95 38.46 C75.38 38.83 75.4 40.11 75.24 40.73 Z" fill="#e0a020" opacity="0.85" filter="url(#dglow)"/><path d="M67.53 42.04 C67.59 42.47 66.98 43.05 66.62 43.48 C66.26 43.92 65.8 44.64 65.36 44.66 C64.92 44.68 64.37 43.94 63.99 43.61 C63.61 43.29 63.36 43.12 63.08 42.7 C62.79 42.28 62.11 41.44 62.28 41.09 C62.44 40.73 63.56 40.81 64.07 40.6 C64.57 40.39 64.92 39.77 65.29 39.82 C65.66 39.86 65.9 40.51 66.27 40.88 C66.65 41.25 67.47 41.61 67.53 42.04 Z" fill="#c8a020" opacity="0.8" filter="url(#dglow)"/><path d="M114.11 32.84 C114.17 33.22 113.56 33.85 113.2 34.13 C112.84 34.42 112.45 34.37 111.97 34.55 C111.49 34.72 110.65 35.36 110.32 35.18 C109.98 35 109.97 33.94 109.96 33.46 C109.95 32.99 110.19 32.8 110.26 32.33 C110.34 31.87 110.1 31 110.41 30.66 C110.72 30.33 111.71 30.12 112.11 30.32 C112.51 30.52 112.49 31.45 112.83 31.87 C113.16 32.29 114.05 32.47 114.11 32.84 Z" fill="#ffd820" opacity="0.95" filter="url(#dglow)"/><path d="M154.4 22.33 C154.37 23.09 154.17 24.04 153.7 24.54 C153.24 25.04 152.35 25.2 151.61 25.35 C150.87 25.51 149.88 25.78 149.27 25.47 C148.66 25.16 148.14 24.17 147.95 23.47 C147.77 22.77 147.91 21.93 148.16 21.27 C148.41 20.61 148.85 19.95 149.44 19.5 C150.04 19.06 150.99 18.54 151.73 18.62 C152.47 18.7 153.43 19.36 153.88 19.98 C154.32 20.6 154.43 21.57 154.4 22.33 Z" fill="#f0b428" opacity="0.95" filter="url(#dglow)"/><path d="M80.71 75.67 C80.85 76.16 80.15 77.11 79.68 77.49 C79.21 77.87 78.42 77.99 77.91 77.94 C77.4 77.89 77.16 77.41 76.63 77.2 C76.09 76.99 75.02 77.13 74.69 76.7 C74.36 76.27 74.33 75.07 74.65 74.63 C74.96 74.19 76.02 74.32 76.58 74.06 C77.13 73.79 77.6 72.95 77.98 73.03 C78.35 73.11 78.4 74.1 78.85 74.54 C79.31 74.98 80.57 75.18 80.71 75.67 Z" fill="#e89820" opacity="0.85" filter="url(#dglow)"/><path d="M88.14 72.25 C88.18 72.73 88.04 73.41 87.74 73.78 C87.43 74.15 86.8 74.4 86.31 74.47 C85.82 74.54 85.29 74.42 84.79 74.21 C84.28 74 83.36 73.62 83.3 73.21 C83.24 72.79 84.2 72.23 84.42 71.71 C84.65 71.19 84.36 70.27 84.66 70.08 C84.96 69.9 85.74 70.45 86.21 70.59 C86.68 70.73 87.17 70.66 87.49 70.94 C87.81 71.21 88.1 71.78 88.14 72.25 Z" fill="#f0b020" opacity="0.85" filter="url(#dglow)"/><path d="M108.06 99.84 C108.18 100.39 108.96 101.53 108.73 101.79 C108.5 102.04 107.22 101.43 106.68 101.38 C106.14 101.32 105.94 101.56 105.48 101.45 C105.02 101.35 104.13 101.16 103.91 100.75 C103.7 100.35 103.9 99.41 104.18 99.03 C104.46 98.65 105.18 98.61 105.61 98.45 C106.03 98.3 106.32 98.1 106.72 98.1 C107.12 98.11 107.79 98.21 108.01 98.5 C108.23 98.79 107.94 99.29 108.06 99.84 Z" fill="#e08c20" opacity="0.8" filter="url(#dglow)"/><path d="M151.75 134.52 C151.74 135.18 152.31 135.91 152.08 136.47 C151.84 137.02 151.02 137.68 150.35 137.84 C149.68 138.01 148.67 137.82 148.08 137.45 C147.48 137.08 147.01 136.28 146.78 135.61 C146.55 134.94 146.46 134.01 146.71 133.41 C146.97 132.81 147.72 132.31 148.32 132.02 C148.91 131.73 149.63 131.58 150.27 131.67 C150.9 131.77 151.86 132.09 152.1 132.56 C152.35 133.04 151.75 133.87 151.75 134.52 Z" fill="#f0a820" opacity="0.9" filter="url(#dglow)"/><path d="M24.87 164.21 C24.85 164.62 24.1 165.1 23.72 165.38 C23.35 165.65 22.99 165.84 22.63 165.87 C22.26 165.91 21.98 165.72 21.54 165.59 C21.1 165.45 20.13 165.41 19.97 165.07 C19.81 164.74 20.35 163.98 20.59 163.58 C20.84 163.18 21.09 162.93 21.45 162.68 C21.8 162.43 22.31 162.04 22.71 162.08 C23.11 162.12 23.5 162.58 23.86 162.93 C24.22 163.29 24.9 163.81 24.87 164.21 Z" fill="#f8d020" opacity="0.95" filter="url(#dglow)"/><path d="M105.89 166.05 C105.87 166.47 105.5 166.78 105.23 167.27 C104.97 167.75 104.77 168.77 104.3 168.96 C103.83 169.16 102.98 168.74 102.41 168.43 C101.84 168.12 101.1 167.68 100.86 167.12 C100.63 166.55 100.71 165.56 100.99 165.04 C101.28 164.52 102.06 164.2 102.59 163.99 C103.12 163.77 103.74 163.61 104.19 163.74 C104.65 163.87 105.04 164.37 105.33 164.76 C105.61 165.14 105.9 165.64 105.89 166.05 Z" fill="#f0a020" opacity="0.9" filter="url(#dglow)"/><path d="M68.82 160.27 C68.76 160.68 68.54 161.03 68.3 161.36 C68.05 161.7 67.73 162.18 67.35 162.28 C66.98 162.37 66.37 162.15 66.06 161.9 C65.75 161.66 65.63 161.21 65.48 160.83 C65.33 160.44 65.11 160.03 65.17 159.61 C65.23 159.18 65.48 158.54 65.85 158.28 C66.22 158.02 66.93 157.95 67.39 158.05 C67.85 158.16 68.38 158.54 68.62 158.91 C68.86 159.29 68.87 159.87 68.82 160.27 Z" fill="#e0a020" opacity="0.8" filter="url(#dglow)"/><path d="M70.5 109.04 C70.38 109.57 70.13 109.82 69.86 110.34 C69.59 110.85 69.3 112.02 68.86 112.13 C68.41 112.24 67.63 111.38 67.19 110.99 C66.75 110.6 66.51 110.3 66.21 109.8 C65.91 109.3 65.18 108.33 65.39 107.98 C65.61 107.62 66.99 107.75 67.52 107.67 C68.05 107.59 68.08 107.61 68.58 107.52 C69.09 107.43 70.24 106.9 70.56 107.16 C70.88 107.41 70.61 108.51 70.5 109.04 Z" fill="#d8a020" opacity="0.7" filter="url(#dglow)"/><path d="M8.54 134 C8.59 134.34 8.24 134.98 7.94 135.15 C7.65 135.33 7.12 134.98 6.75 135.04 C6.38 135.09 5.93 135.58 5.72 135.47 C5.51 135.36 5.64 134.72 5.52 134.38 C5.4 134.04 4.94 133.7 5 133.43 C5.06 133.16 5.56 132.86 5.85 132.76 C6.15 132.66 6.48 132.75 6.78 132.81 C7.08 132.86 7.35 132.9 7.65 133.09 C7.94 133.29 8.49 133.66 8.54 134 Z" fill="#d8b020" opacity="0.7" filter="url(#dglow)"/><path d="M44.7 18.39 C44.82 18.82 45.41 19.67 45.24 19.97 C45.07 20.27 44.09 20.29 43.67 20.2 C43.26 20.11 43.1 19.63 42.75 19.43 C42.41 19.24 41.87 19.34 41.6 19.03 C41.34 18.72 41.08 18.06 41.16 17.6 C41.25 17.13 41.71 16.36 42.12 16.25 C42.52 16.14 43.21 16.76 43.61 16.96 C44 17.15 44.33 17.18 44.51 17.42 C44.69 17.66 44.58 17.97 44.7 18.39 Z" fill="#b89020" opacity="0.5" filter="url(#dglow)"/><rect x="3.3" y="163.3" width="17.6" height="0.8" fill="#e4e4e4"/><text x="12.1" y="162.4" font-size="2.6" text-anchor="middle" fill="#cfcfcf">20 µm</text></g><text x="210.8" y="848.6" font-size="8.8" font-weight="bold" fill="#0db14b">EGFP<tspan dy="-2.9" font-size="4.84">+</tspan><tspan dy="2.9"> cells</tspan></text><text x="265.4" y="848.6" font-size="8.8" font-weight="bold" fill="#fdb913">EYFP<tspan dy="-2.9" font-size="4.84">+</tspan><tspan dy="2.9"> cells</tspan></text><text x="319.8" y="848.6" font-size="8.8" font-weight="bold" fill="#999">MHCII<tspan dy="-2.9" font-size="4.84">+</tspan><tspan dy="2.9"> cells</tspan></text></g><g id="panelE"><text x="2.6" y="899.7" font-size="18" font-weight="bold" fill="#000">E</text><path d="M122.4 909.7 V1029.7 H242.5" fill="none" stroke="#000" stroke-width="1.3" stroke-linecap="square"/><line x1="118" y1="909.7" x2="122.4" y2="909.7" stroke="#000" stroke-width="1.3"/><text x="116.4" y="912.87" font-size="8.8" font-weight="bold" text-anchor="end" fill="#000">150</text><line x1="118" y1="949.6" x2="122.4" y2="949.6" stroke="#000" stroke-width="1.3"/><text x="116.4" y="952.77" font-size="8.8" font-weight="bold" text-anchor="end" fill="#000">100</text><line x1="118" y1="989.6" x2="122.4" y2="989.6" stroke="#000" stroke-width="1.3"/><text x="116.4" y="992.77" font-size="8.8" font-weight="bold" text-anchor="end" fill="#000">50</text><line x1="118" y1="1029.7" x2="122.4" y2="1029.7" stroke="#000" stroke-width="1.3"/><text x="116.4" y="1032.87" font-size="8.8" font-weight="bold" text-anchor="end" fill="#000">0</text><line x1="140.54" y1="1029.7" x2="140.54" y2="1034.6" stroke="#000" stroke-width="1.3"/><line x1="168.35" y1="1029.7" x2="168.35" y2="1034.6" stroke="#000" stroke-width="1.3"/><line x1="196.16" y1="1029.7" x2="196.16" y2="1034.6" stroke="#000" stroke-width="1.3"/><line x1="223.75" y1="1029.7" x2="223.75" y2="1034.6" stroke="#000" stroke-width="1.3"/><line x1="140.54" y1="969.92" x2="140.54" y2="996.85" stroke="#000" stroke-width="0.9"/><line x1="135.59" y1="969.92" x2="145.49" y2="969.92" stroke="#000" stroke-width="0.9"/><line x1="135.59" y1="996.85" x2="145.49" y2="996.85" stroke="#000" stroke-width="0.9"/><line x1="131.24" y1="985.69" x2="149.84" y2="985.69" stroke="#fa1020" stroke-width="1.25"/><circle cx="140.54" cy="958.97" r="2.8" fill="#90ee90" stroke="#143814" stroke-width="0.9"/><circle cx="133.98" cy="984.81" r="2.8" fill="#90ee90" stroke="#143814" stroke-width="0.9"/><circle cx="147.55" cy="984.81" r="2.8" fill="#90ee90" stroke="#143814" stroke-width="0.9"/><circle cx="140.54" cy="982.62" r="2.8" fill="#90ee90" stroke="#143814" stroke-width="0.9"/><circle cx="140.54" cy="989.85" r="2.8" fill="#90ee90" stroke="#143814" stroke-width="0.9"/><circle cx="140.54" cy="1001.89" r="2.8" fill="#90ee90" stroke="#143814" stroke-width="0.9"/><line x1="168.35" y1="924.38" x2="168.35" y2="973.21" stroke="#000" stroke-width="0.9"/><line x1="163.4" y1="924.38" x2="173.3" y2="924.38" stroke="#000" stroke-width="0.9"/><line x1="163.4" y1="973.21" x2="173.3" y2="973.21" stroke="#000" stroke-width="0.9"/><rect x="165.8" y="917.01" width="5.1" height="5.1" fill="#0fa80f" stroke="#062806" stroke-width="0.9"/><rect x="165.8" y="929.49" width="5.1" height="5.1" fill="#0fa80f" stroke="#062806" stroke-width="0.9"/><rect x="165.8" y="935.62" width="5.1" height="5.1" fill="#0fa80f" stroke="#062806" stroke-width="0.9"/><rect x="165.8" y="954.23" width="5.1" height="5.1" fill="#0fa80f" stroke="#062806" stroke-width="0.9"/><rect x="165.8" y="968.9" width="5.1" height="5.1" fill="#0fa80f" stroke="#062806" stroke-width="0.9"/><rect x="165.8" y="977.44" width="5.1" height="5.1" fill="#0fa80f" stroke="#062806" stroke-width="0.9"/><line x1="159.05" y1="952.84" x2="177.65" y2="952.84" stroke="#fa1020" stroke-width="1.25"/><line x1="196.16" y1="985.25" x2="196.16" y2="1003.42" stroke="#000" stroke-width="0.9"/><line x1="191.21" y1="985.25" x2="201.11" y2="985.25" stroke="#000" stroke-width="0.9"/><line x1="191.21" y1="1003.42" x2="201.11" y2="1003.42" stroke="#000" stroke-width="0.9"/><line x1="186.86" y1="995.54" x2="205.46" y2="995.54" stroke="#fa1020" stroke-width="1.25"/><circle cx="196.16" cy="981.96" r="2.8" fill="#90ee90" stroke="#143814" stroke-width="0.9"/><circle cx="189.15" cy="992.26" r="2.8" fill="#90ee90" stroke="#143814" stroke-width="0.9"/><circle cx="196.16" cy="991.82" r="2.8" fill="#90ee90" stroke="#143814" stroke-width="0.9"/><circle cx="202.73" cy="995.32" r="2.8" fill="#90ee90" stroke="#143814" stroke-width="0.9"/><circle cx="196.16" cy="997.95" r="2.8" fill="#90ee90" stroke="#143814" stroke-width="0.9"/><circle cx="196.16" cy="1008.24" r="2.8" fill="#90ee90" stroke="#143814" stroke-width="0.9"/><line x1="223.75" y1="954.16" x2="223.75" y2="983.5" stroke="#000" stroke-width="0.9"/><line x1="218.8" y1="954.16" x2="228.7" y2="954.16" stroke="#000" stroke-width="0.9"/><line x1="218.8" y1="983.5" x2="228.7" y2="983.5" stroke="#000" stroke-width="0.9"/><rect x="221.2" y="939.34" width="5.1" height="5.1" fill="#0fa80f" stroke="#062806" stroke-width="0.9"/><rect x="221.2" y="955.33" width="5.1" height="5.1" fill="#0fa80f" stroke="#062806" stroke-width="0.9"/><rect x="214.41" y="971.75" width="5.1" height="5.1" fill="#0fa80f" stroke="#062806" stroke-width="0.9"/><rect x="228.21" y="975.25" width="5.1" height="5.1" fill="#0fa80f" stroke="#062806" stroke-width="0.9"/><rect x="221.2" y="975.25" width="5.1" height="5.1" fill="#0fa80f" stroke="#062806" stroke-width="0.9"/><rect x="221.2" y="980.95" width="5.1" height="5.1" fill="#0fa80f" stroke="#062806" stroke-width="0.9"/><line x1="214.45" y1="970.58" x2="233.05" y2="970.58" stroke="#fa1020" stroke-width="1.25"/><path d="M140.54 907.6 V904.9 H168.35 V911.9" fill="none" stroke="#000" stroke-width="1.1"/><text x="154.1" y="904.4" font-size="14" font-weight="bold" text-anchor="middle" fill="#000">*</text><path d="M196.16 907.6 V904.9 H223.75 V935.5" fill="none" stroke="#000" stroke-width="1.1"/><text x="210.35" y="904.4" font-size="14" font-weight="bold" text-anchor="middle" fill="#000" letter-spacing="0.7">**</text><text x="0" y="0" font-size="12" font-weight="bold" text-anchor="middle" fill="#0db14b" transform="translate(91.6 979.6) rotate(-90)" stroke="#0db14b" stroke-width="0.3">EGFP<tspan dy="-3.96" font-size="6.6">+</tspan><tspan dy="3.96"> cells</tspan></text><text x="155.2" y="1045.9" font-size="10.2" text-anchor="middle" fill="#000" stroke="#000" stroke-width="0.2">D21</text><text x="210.6" y="1045.9" font-size="10.2" text-anchor="middle" fill="#000" stroke="#000" stroke-width="0.2">D28</text><text x="98.5" y="1061.7" font-size="10.3" fill="#000" stroke="#000" stroke-width="0.2">SMg</text><text x="140.54" y="1061.5" font-size="11.6" text-anchor="middle" fill="#000" stroke="#000" stroke-width="0.25">-</text><text x="168.35" y="1061.9" font-size="11.6" text-anchor="middle" fill="#000" stroke="#000" stroke-width="0.25">+</text><text x="196.16" y="1061.5" font-size="11.6" text-anchor="middle" fill="#000" stroke="#000" stroke-width="0.25">-</text><text x="223.75" y="1061.9" font-size="11.6" text-anchor="middle" fill="#000" stroke="#000" stroke-width="0.25">+</text><path d="M338.5 910.1 V1030.1 H458.7" fill="none" stroke="#000" stroke-width="1.3" stroke-linecap="square"/><line x1="334.1" y1="910.1" x2="338.5" y2="910.1" stroke="#000" stroke-width="1.3"/><text x="332.5" y="913.27" font-size="8.8" font-weight="bold" text-anchor="end" fill="#000">250</text><line x1="334.1" y1="934" x2="338.5" y2="934" stroke="#000" stroke-width="1.3"/><text x="332.5" y="937.17" font-size="8.8" font-weight="bold" text-anchor="end" fill="#000">200</text><line x1="334.1" y1="958.1" x2="338.5" y2="958.1" stroke="#000" stroke-width="1.3"/><text x="332.5" y="961.27" font-size="8.8" font-weight="bold" text-anchor="end" fill="#000">150</text><line x1="334.1" y1="982" x2="338.5" y2="982" stroke="#000" stroke-width="1.3"/><text x="332.5" y="985.17" font-size="8.8" font-weight="bold" text-anchor="end" fill="#000">100</text><line x1="334.1" y1="1006" x2="338.5" y2="1006" stroke="#000" stroke-width="1.3"/><text x="332.5" y="1009.17" font-size="8.8" font-weight="bold" text-anchor="end" fill="#000">50</text><line x1="334.1" y1="1030.1" x2="338.5" y2="1030.1" stroke="#000" stroke-width="1.3"/><text x="332.5" y="1033.27" font-size="8.8" font-weight="bold" text-anchor="end" fill="#000">0</text><line x1="356.64" y1="1030.1" x2="356.64" y2="1035" stroke="#000" stroke-width="1.3"/><line x1="384.89" y1="1030.1" x2="384.89" y2="1035" stroke="#000" stroke-width="1.3"/><line x1="412.47" y1="1030.1" x2="412.47" y2="1035" stroke="#000" stroke-width="1.3"/><line x1="440.28" y1="1030.1" x2="440.28" y2="1035" stroke="#000" stroke-width="1.3"/><line x1="356.64" y1="929.41" x2="356.64" y2="988.53" stroke="#000" stroke-width="0.9"/><line x1="351.69" y1="929.41" x2="361.59" y2="929.41" stroke="#000" stroke-width="0.9"/><line x1="351.69" y1="988.53" x2="361.59" y2="988.53" stroke="#000" stroke-width="0.9"/><line x1="347.34" y1="965.32" x2="365.94" y2="965.32" stroke="#fa1020" stroke-width="1.25"/><circle cx="356.64" cy="926.79" r="2.8" fill="#f0f0b0" stroke="#303010" stroke-width="0.9"/><circle cx="356.64" cy="940.36" r="2.8" fill="#f0f0b0" stroke="#303010" stroke-width="0.9"/><circle cx="356.64" cy="945.18" r="2.8" fill="#f0f0b0" stroke="#303010" stroke-width="0.9"/><circle cx="356.64" cy="966.64" r="2.8" fill="#f0f0b0" stroke="#303010" stroke-width="0.9"/><circle cx="356.64" cy="987" r="2.8" fill="#f0f0b0" stroke="#303010" stroke-width="0.9"/><circle cx="356.64" cy="996.2" r="2.8" fill="#f0f0b0" stroke="#303010" stroke-width="0.9"/><line x1="384.89" y1="926.57" x2="384.89" y2="1000.58" stroke="#000" stroke-width="0.9"/><line x1="379.94" y1="926.57" x2="389.84" y2="926.57" stroke="#000" stroke-width="0.9"/><line x1="379.94" y1="1000.58" x2="389.84" y2="1000.58" stroke="#000" stroke-width="0.9"/><line x1="375.59" y1="974.3" x2="394.19" y2="974.3" stroke="#fa1020" stroke-width="1.25"/><rect x="382.34" y="921.39" width="5.1" height="5.1" fill="#ffee00" stroke="#302c00" stroke-width="0.9"/><rect x="382.34" y="927.3" width="5.1" height="5.1" fill="#ffee00" stroke="#302c00" stroke-width="0.9"/><rect x="382.34" y="957.08" width="5.1" height="5.1" fill="#ffee00" stroke="#302c00" stroke-width="0.9"/><rect x="382.34" y="971.09" width="5.1" height="5.1" fill="#ffee00" stroke="#302c00" stroke-width="0.9"/><rect x="375.33" y="1001.53" width="5.1" height="5.1" fill="#ffee00" stroke="#302c00" stroke-width="0.9"/><rect x="388.9" y="1000.65" width="5.1" height="5.1" fill="#ffee00" stroke="#302c00" stroke-width="0.9"/><line x1="412.47" y1="959.63" x2="412.47" y2="1015.25" stroke="#000" stroke-width="0.9"/><line x1="407.52" y1="959.63" x2="417.42" y2="959.63" stroke="#000" stroke-width="0.9"/><line x1="407.52" y1="1015.25" x2="417.42" y2="1015.25" stroke="#000" stroke-width="0.9"/><circle cx="412.47" cy="966.2" r="2.8" fill="#f0f0b0" stroke="#303010" stroke-width="0.9"/><circle cx="405.69" cy="978.46" r="2.8" fill="#f0f0b0" stroke="#303010" stroke-width="0.9"/><circle cx="419.48" cy="979.56" r="2.8" fill="#f0f0b0" stroke="#303010" stroke-width="0.9"/><circle cx="412.47" cy="982.62" r="2.8" fill="#f0f0b0" stroke="#303010" stroke-width="0.9"/><circle cx="415.98" cy="1016.34" r="2.8" fill="#f0f0b0" stroke="#303010" stroke-width="0.9"/><circle cx="408.97" cy="1019.63" r="2.8" fill="#f0f0b0" stroke="#303010" stroke-width="0.9"/><line x1="403.17" y1="997.51" x2="421.77" y2="997.51" stroke="#fa1020" stroke-width="1.25"/><line x1="440.28" y1="970.36" x2="440.28" y2="1011.52" stroke="#000" stroke-width="0.9"/><line x1="435.33" y1="970.36" x2="445.23" y2="970.36" stroke="#000" stroke-width="0.9"/><line x1="435.33" y1="1011.52" x2="445.23" y2="1011.52" stroke="#000" stroke-width="0.9"/><rect x="437.73" y="942.41" width="5.1" height="5.1" fill="#ffee00" stroke="#302c00" stroke-width="0.9"/><rect x="437.73" y="978.54" width="5.1" height="5.1" fill="#ffee00" stroke="#302c00" stroke-width="0.9"/><rect x="437.73" y="991.24" width="5.1" height="5.1" fill="#ffee00" stroke="#302c00" stroke-width="0.9"/><rect x="430.73" y="1010.51" width="5.1" height="5.1" fill="#ffee00" stroke="#302c00" stroke-width="0.9"/><rect x="437.73" y="1008.32" width="5.1" height="5.1" fill="#ffee00" stroke="#302c00" stroke-width="0.9"/><rect x="444.74" y="1010.07" width="5.1" height="5.1" fill="#ffee00" stroke="#302c00" stroke-width="0.9"/><line x1="430.98" y1="998.82" x2="449.58" y2="998.82" stroke="#fa1020" stroke-width="1.25"/><path d="M356.64 908 V905.3 H384.89 V915.8" fill="none" stroke="#000" stroke-width="1.1"/><text x="370.7" y="899.2" font-size="8.6" text-anchor="middle" fill="#000">ns</text><path d="M412.47 908 V905.3 H440.28 V936" fill="none" stroke="#000" stroke-width="1.1"/><text x="426.3" y="899.2" font-size="8.6" text-anchor="middle" fill="#000">ns</text><text x="0" y="0" font-size="12" font-weight="bold" text-anchor="middle" fill="#fdb913" transform="translate(306.3 972) rotate(-90)" stroke="#fdb913" stroke-width="0.3">EYFP<tspan dy="-3.96" font-size="6.6">+</tspan><tspan dy="3.96"> cells</tspan></text><text x="370.2" y="1045.9" font-size="10.2" text-anchor="middle" fill="#000" stroke="#000" stroke-width="0.2">D21</text><text x="426.2" y="1045.9" font-size="10.2" text-anchor="middle" fill="#000" stroke="#000" stroke-width="0.2">D28</text><text x="313" y="1061.7" font-size="10.3" fill="#000" stroke="#000" stroke-width="0.2">SMg</text><text x="356.64" y="1061.5" font-size="11.6" text-anchor="middle" fill="#000" stroke="#000" stroke-width="0.25">-</text><text x="384.89" y="1061.9" font-size="11.6" text-anchor="middle" fill="#000" stroke="#000" stroke-width="0.25">+</text><text x="412.47" y="1061.5" font-size="11.6" text-anchor="middle" fill="#000" stroke="#000" stroke-width="0.25">-</text><text x="440.28" y="1061.9" font-size="11.6" text-anchor="middle" fill="#000" stroke="#000" stroke-width="0.25">+</text><path d="M546.9 911.2 V1031.9 H667.5" fill="none" stroke="#000" stroke-width="1.3" stroke-linecap="square"/><line x1="542.5" y1="911.2" x2="546.9" y2="911.2" stroke="#000" stroke-width="1.3"/><text x="540.9" y="914.37" font-size="8.8" font-weight="bold" text-anchor="end" fill="#000">80</text><line x1="542.5" y1="941.5" x2="546.9" y2="941.5" stroke="#000" stroke-width="1.3"/><text x="540.9" y="944.67" font-size="8.8" font-weight="bold" text-anchor="end" fill="#000">60</text><line x1="542.5" y1="971.7" x2="546.9" y2="971.7" stroke="#000" stroke-width="1.3"/><text x="540.9" y="974.87" font-size="8.8" font-weight="bold" text-anchor="end" fill="#000">40</text><line x1="542.5" y1="1001.7" x2="546.9" y2="1001.7" stroke="#000" stroke-width="1.3"/><text x="540.9" y="1004.87" font-size="8.8" font-weight="bold" text-anchor="end" fill="#000">20</text><line x1="542.5" y1="1031.9" x2="546.9" y2="1031.9" stroke="#000" stroke-width="1.3"/><text x="540.9" y="1035.07" font-size="8.8" font-weight="bold" text-anchor="end" fill="#000">0</text><line x1="565.33" y1="1031.9" x2="565.33" y2="1036.8" stroke="#000" stroke-width="1.3"/><line x1="593.35" y1="1031.9" x2="593.35" y2="1036.8" stroke="#000" stroke-width="1.3"/><line x1="621.16" y1="1031.9" x2="621.16" y2="1036.8" stroke="#000" stroke-width="1.3"/><line x1="648.75" y1="1031.9" x2="648.75" y2="1036.8" stroke="#000" stroke-width="1.3"/><line x1="565.33" y1="965.54" x2="565.33" y2="1002.33" stroke="#000" stroke-width="0.9"/><line x1="560.38" y1="965.54" x2="570.28" y2="965.54" stroke="#000" stroke-width="0.9"/><line x1="560.38" y1="1002.33" x2="570.28" y2="1002.33" stroke="#000" stroke-width="0.9"/><circle cx="565.33" cy="961.16" r="2.8" fill="#90b8f4" stroke="#14204a" stroke-width="0.9"/><circle cx="565.33" cy="968.39" r="2.8" fill="#90b8f4" stroke="#14204a" stroke-width="0.9"/><circle cx="565.33" cy="980.43" r="2.8" fill="#90b8f4" stroke="#14204a" stroke-width="0.9"/><circle cx="558.32" cy="994.01" r="2.8" fill="#90b8f4" stroke="#14204a" stroke-width="0.9"/><circle cx="572.11" cy="995.76" r="2.8" fill="#90b8f4" stroke="#14204a" stroke-width="0.9"/><circle cx="565.33" cy="1007.8" r="2.8" fill="#90b8f4" stroke="#14204a" stroke-width="0.9"/><line x1="556.03" y1="987.44" x2="574.63" y2="987.44" stroke="#fa1020" stroke-width="1.25"/><line x1="593.35" y1="931.16" x2="593.35" y2="958.97" stroke="#000" stroke-width="0.9"/><line x1="588.4" y1="931.16" x2="598.3" y2="931.16" stroke="#000" stroke-width="0.9"/><line x1="588.4" y1="958.97" x2="598.3" y2="958.97" stroke="#000" stroke-width="0.9"/><line x1="584.05" y1="946.27" x2="602.65" y2="946.27" stroke="#fa1020" stroke-width="1.25"/><rect x="583.8" y="931.46" width="5.1" height="5.1" fill="#12788c" stroke="#08242c" stroke-width="0.9"/><rect x="597.81" y="929.71" width="5.1" height="5.1" fill="#12788c" stroke="#08242c" stroke-width="0.9"/><rect x="590.8" y="934.09" width="5.1" height="5.1" fill="#12788c" stroke="#08242c" stroke-width="0.9"/><rect x="590.8" y="946.57" width="5.1" height="5.1" fill="#12788c" stroke="#08242c" stroke-width="0.9"/><rect x="590.8" y="952.48" width="5.1" height="5.1" fill="#12788c" stroke="#08242c" stroke-width="0.9"/><rect x="590.8" y="962.99" width="5.1" height="5.1" fill="#12788c" stroke="#08242c" stroke-width="0.9"/><line x1="621.16" y1="990.28" x2="621.16" y2="1013.06" stroke="#000" stroke-width="0.9"/><line x1="616.21" y1="990.28" x2="626.11" y2="990.28" stroke="#000" stroke-width="0.9"/><line x1="616.21" y1="1013.06" x2="626.11" y2="1013.06" stroke="#000" stroke-width="0.9"/><line x1="611.86" y1="1003.86" x2="630.46" y2="1003.86" stroke="#fa1020" stroke-width="1.25"/><circle cx="621.16" cy="989.85" r="2.8" fill="#90b8f4" stroke="#14204a" stroke-width="0.9"/><circle cx="614.15" cy="1000.14" r="2.8" fill="#90b8f4" stroke="#14204a" stroke-width="0.9"/><circle cx="621.16" cy="995.98" r="2.8" fill="#90b8f4" stroke="#14204a" stroke-width="0.9"/><circle cx="627.73" cy="1004.52" r="2.8" fill="#90b8f4" stroke="#14204a" stroke-width="0.9"/><circle cx="621.16" cy="1004.3" r="2.8" fill="#90b8f4" stroke="#14204a" stroke-width="0.9"/><circle cx="621.16" cy="1018.09" r="2.8" fill="#90b8f4" stroke="#14204a" stroke-width="0.9"/><line x1="648.75" y1="938.61" x2="648.75" y2="969.26" stroke="#000" stroke-width="0.9"/><line x1="643.8" y1="938.61" x2="653.7" y2="938.61" stroke="#000" stroke-width="0.9"/><line x1="643.8" y1="969.26" x2="653.7" y2="969.26" stroke="#000" stroke-width="0.9"/><line x1="639.45" y1="955.69" x2="658.05" y2="955.69" stroke="#fa1020" stroke-width="1.25"/><rect x="653.21" y="931.46" width="5.1" height="5.1" fill="#12788c" stroke="#08242c" stroke-width="0.9"/><rect x="639.41" y="935.84" width="5.1" height="5.1" fill="#12788c" stroke="#08242c" stroke-width="0.9"/><rect x="653.21" y="952.48" width="5.1" height="5.1" fill="#12788c" stroke="#08242c" stroke-width="0.9"/><rect x="639.41" y="956.86" width="5.1" height="5.1" fill="#12788c" stroke="#08242c" stroke-width="0.9"/><rect x="646.2" y="962.99" width="5.1" height="5.1" fill="#12788c" stroke="#08242c" stroke-width="0.9"/><rect x="646.2" y="971.97" width="5.1" height="5.1" fill="#12788c" stroke="#08242c" stroke-width="0.9"/><path d="M565.33 909.2 V906.4 H593.35 V922.8" fill="none" stroke="#000" stroke-width="1.1"/><text x="579.45" y="905.9" font-size="14" font-weight="bold" text-anchor="middle" fill="#000" letter-spacing="0.7">**</text><path d="M621.16 909.2 V906.4 H648.75 V926.1" fill="none" stroke="#000" stroke-width="1.1"/><text x="635.35" y="905.9" font-size="14" font-weight="bold" text-anchor="middle" fill="#000" letter-spacing="0.7">**</text><text x="0" y="0" font-size="12" font-weight="bold" text-anchor="middle" fill="#1eaaf0" transform="translate(517.1 972) rotate(-90)" stroke="#1eaaf0" stroke-width="0.3">EGFP<tspan dy="-3.96" font-size="6.6">+</tspan><tspan dy="3.96">/EYFP</tspan><tspan dy="-3.96" font-size="6.6">+</tspan><tspan dy="3.96"> cells</tspan></text><text x="579.3" y="1045.9" font-size="10.2" text-anchor="middle" fill="#000" stroke="#000" stroke-width="0.2">D21</text><text x="635.6" y="1045.9" font-size="10.2" text-anchor="middle" fill="#000" stroke="#000" stroke-width="0.2">D28</text><text x="523" y="1061.7" font-size="10.3" fill="#000" stroke="#000" stroke-width="0.2">SMg</text><text x="565.33" y="1061.5" font-size="11.6" text-anchor="middle" fill="#000" stroke="#000" stroke-width="0.25">-</text><text x="593.35" y="1061.9" font-size="11.6" text-anchor="middle" fill="#000" stroke="#000" stroke-width="0.25">+</text><text x="621.16" y="1061.5" font-size="11.6" text-anchor="middle" fill="#000" stroke="#000" stroke-width="0.25">-</text><text x="648.75" y="1061.9" font-size="11.6" text-anchor="middle" fill="#000" stroke="#000" stroke-width="0.25">+</text></g>
</svg>
</body></html>
